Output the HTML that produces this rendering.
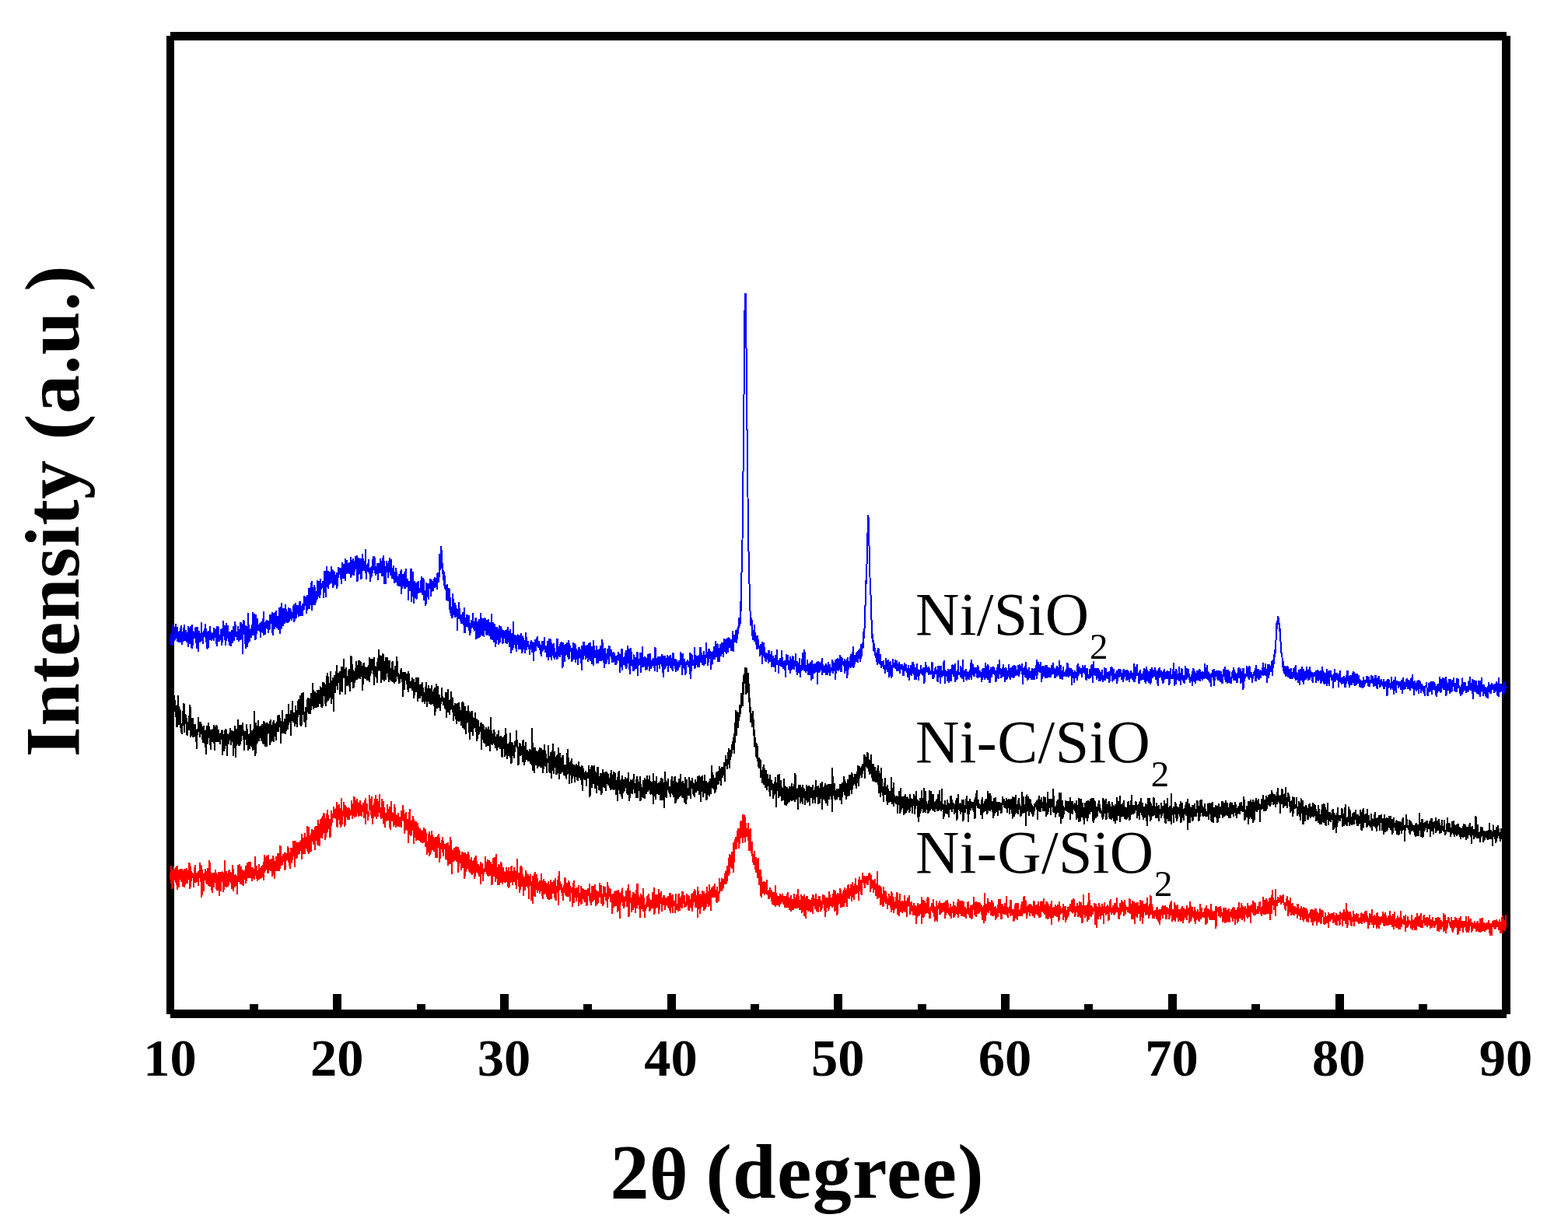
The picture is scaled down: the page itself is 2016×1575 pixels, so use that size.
<!DOCTYPE html>
<html lang="en">
<head>
<meta charset="utf-8">
<title>XRD patterns</title>
<style>
html,body{margin:0;padding:0;background:#fff;}
body{width:2016px;height:1575px;overflow:hidden;}
svg{display:block;}
text{font-family:"Liberation Serif","Times New Roman",serif;fill:#000;}
.tick{font-weight:bold;font-size:68.5px;text-anchor:middle;}
.axt{font-weight:bold;font-size:100px;text-anchor:middle;}
.axx{letter-spacing:0.45px;}
.leg{font-size:78px;letter-spacing:0.4px;}
.sub{font-size:47px;}
.curve{fill:none;stroke-width:2;stroke-linejoin:bevel;stroke-linecap:butt;shape-rendering:crispEdges;}
</style>
</head>
<body>
<svg width="2016" height="1575" viewBox="0 0 2016 1575" role="img" aria-label="XRD patterns of Ni/SiO2, Ni-C/SiO2 and Ni-G/SiO2">
<rect x="0" y="0" width="2016" height="1575" fill="#fff"/>
<g fill="#000" shape-rendering="crispEdges">
<rect x="214" y="46" width="10" height="1258"/>
<rect x="219" y="41" width="1718" height="11"/>
<rect x="1931" y="46" width="11" height="1258"/>
<rect x="219" y="1298" width="1718" height="11"/>
<rect x="321" y="1291" width="11" height="9"/>
<rect x="428" y="1278" width="11" height="22"/>
<rect x="536" y="1291" width="11" height="9"/>
<rect x="643" y="1278" width="11" height="22"/>
<rect x="750" y="1291" width="11" height="9"/>
<rect x="858" y="1278" width="11" height="22"/>
<rect x="965" y="1291" width="11" height="9"/>
<rect x="1072" y="1278" width="11" height="22"/>
<rect x="1180" y="1291" width="11" height="9"/>
<rect x="1287" y="1278" width="11" height="22"/>
<rect x="1394" y="1291" width="11" height="9"/>
<rect x="1502" y="1278" width="11" height="22"/>
<rect x="1609" y="1291" width="11" height="9"/>
<rect x="1717" y="1278" width="11" height="22"/>
<rect x="1824" y="1291" width="11" height="9"/>
</g>
<polyline class="curve" stroke="#ff0000" points="219.0,1131.0 219.3,1122.5 219.6,1132.6 219.9,1127.7 220.2,1113.5 220.5,1136.1 220.8,1126.4 221.1,1132.6 221.5,1143.3 221.8,1129.5 222.1,1117.6 222.4,1121.0 222.7,1135.9 223.0,1114.1 223.3,1129.2 223.6,1130.1 223.9,1116.7 224.2,1128.3 224.5,1131.6 224.8,1119.9 225.1,1122.4 225.4,1131.4 225.7,1115.2 226.1,1118.8 226.4,1134.9 226.7,1127.2 227.0,1114.0 227.3,1126.5 227.6,1143.5 227.9,1113.1 228.2,1133.5 228.5,1133.0 228.8,1124.7 229.1,1131.6 229.4,1120.3 229.7,1139.8 230.0,1141.3 230.3,1118.4 230.7,1124.3 231.0,1127.3 231.3,1120.6 231.6,1129.2 231.9,1117.0 232.2,1131.1 232.5,1123.4 232.8,1125.6 233.1,1130.2 233.4,1134.2 233.7,1117.4 234.0,1132.9 234.3,1133.7 234.6,1125.0 234.9,1139.5 235.3,1119.3 235.6,1121.2 235.9,1129.4 236.2,1120.0 236.5,1138.2 236.8,1127.8 237.1,1141.1 237.4,1116.8 237.7,1117.7 238.0,1137.8 238.3,1116.8 238.6,1135.5 238.9,1119.0 239.2,1128.4 239.5,1136.3 239.9,1125.6 240.2,1116.0 240.5,1121.8 240.8,1136.1 241.1,1127.8 241.4,1132.4 241.7,1126.9 242.0,1128.7 242.3,1124.5 242.6,1117.3 242.9,1131.0 243.2,1127.9 243.5,1108.9 243.8,1126.3 244.1,1134.8 244.5,1143.3 244.8,1114.4 245.1,1127.4 245.4,1131.3 245.7,1133.1 246.0,1120.3 246.3,1130.9 246.6,1122.8 246.9,1126.1 247.2,1121.8 247.5,1129.2 247.8,1123.1 248.1,1129.2 248.4,1125.8 248.7,1134.6 249.1,1141.4 249.4,1126.0 249.7,1120.2 250.0,1124.7 250.3,1122.0 250.6,1112.2 250.9,1127.0 251.2,1122.5 251.5,1134.7 251.8,1125.7 252.1,1135.0 252.4,1133.6 252.7,1122.5 253.0,1124.0 253.3,1122.3 253.7,1123.0 254.0,1134.2 254.3,1122.5 254.6,1123.4 254.9,1120.0 255.2,1139.4 255.5,1123.9 255.8,1125.8 256.1,1119.5 256.4,1129.2 256.7,1120.3 257.0,1121.3 257.3,1109.3 257.6,1112.8 258.0,1128.8 258.3,1133.8 258.6,1112.6 258.9,1128.7 259.2,1128.9 259.5,1153.9 259.8,1118.6 260.1,1121.4 260.4,1118.1 260.7,1134.6 261.0,1136.5 261.3,1125.1 261.6,1140.7 261.9,1145.9 262.2,1123.5 262.6,1132.4 262.9,1125.9 263.2,1122.1 263.5,1123.7 263.8,1125.7 264.1,1116.6 264.4,1127.2 264.7,1135.0 265.0,1119.8 265.3,1123.5 265.6,1120.2 265.9,1131.5 266.2,1127.3 266.5,1136.5 266.8,1125.6 267.2,1115.6 267.5,1133.4 267.8,1125.9 268.1,1138.6 268.4,1134.9 268.7,1105.7 269.0,1111.5 269.3,1129.1 269.6,1122.3 269.9,1109.3 270.2,1124.3 270.5,1140.3 270.8,1134.7 271.1,1121.4 271.4,1131.7 271.8,1138.2 272.1,1127.7 272.4,1144.9 272.7,1123.3 273.0,1148.0 273.3,1143.0 273.6,1134.2 273.9,1131.7 274.2,1130.1 274.5,1121.6 274.8,1138.5 275.1,1141.1 275.4,1136.9 275.7,1132.5 276.0,1131.0 276.4,1122.0 276.7,1124.5 277.0,1117.6 277.3,1134.5 277.6,1122.4 277.9,1137.7 278.2,1124.6 278.5,1142.9 278.8,1144.2 279.1,1144.0 279.4,1140.6 279.7,1128.0 280.0,1127.9 280.3,1124.2 280.6,1133.6 281.0,1145.4 281.3,1121.2 281.6,1152.0 281.9,1125.9 282.2,1120.6 282.5,1133.8 282.8,1140.3 283.1,1127.8 283.4,1122.0 283.7,1146.3 284.0,1121.3 284.3,1139.6 284.6,1132.3 284.9,1127.7 285.2,1131.4 285.6,1121.4 285.9,1121.2 286.2,1133.6 286.5,1121.9 286.8,1124.2 287.1,1143.6 287.4,1146.7 287.7,1140.6 288.0,1138.8 288.3,1128.8 288.6,1131.8 288.9,1124.5 289.2,1106.4 289.5,1132.7 289.8,1132.9 290.2,1139.6 290.5,1120.5 290.8,1141.0 291.1,1126.2 291.4,1120.1 291.7,1128.7 292.0,1139.0 292.3,1130.8 292.6,1134.8 292.9,1123.2 293.2,1135.1 293.5,1139.5 293.8,1123.2 294.1,1134.6 294.4,1119.1 294.8,1132.9 295.1,1117.8 295.4,1134.4 295.7,1130.8 296.0,1121.1 296.3,1134.0 296.6,1122.3 296.9,1131.6 297.2,1122.9 297.5,1135.6 297.8,1126.0 298.1,1143.4 298.4,1134.8 298.7,1135.5 299.0,1119.1 299.4,1112.5 299.7,1123.6 300.0,1146.3 300.3,1122.2 300.6,1140.9 300.9,1141.1 301.2,1124.9 301.5,1128.0 301.8,1141.1 302.1,1127.3 302.4,1125.8 302.7,1124.2 303.0,1129.7 303.3,1127.9 303.6,1139.4 304.0,1130.5 304.3,1138.6 304.6,1127.2 304.9,1149.7 305.2,1126.7 305.5,1126.2 305.8,1120.3 306.1,1112.4 306.4,1119.4 306.7,1128.6 307.0,1117.9 307.3,1133.6 307.6,1112.0 307.9,1111.4 308.2,1128.5 308.6,1129.0 308.9,1115.7 309.2,1134.8 309.5,1137.3 309.8,1128.3 310.1,1113.8 310.4,1135.7 310.7,1122.3 311.0,1123.1 311.3,1128.8 311.6,1118.4 311.9,1137.5 312.2,1118.8 312.5,1133.4 312.8,1130.7 313.2,1139.3 313.5,1128.2 313.8,1131.2 314.1,1120.2 314.4,1121.5 314.7,1118.2 315.0,1129.9 315.3,1117.6 315.6,1136.3 315.9,1122.1 316.2,1112.7 316.5,1117.1 316.8,1132.9 317.1,1118.6 317.4,1127.8 317.8,1108.9 318.1,1126.4 318.4,1129.1 318.7,1126.8 319.0,1129.1 319.3,1113.7 319.6,1107.9 319.9,1110.8 320.2,1129.3 320.5,1125.5 320.8,1128.9 321.1,1117.0 321.4,1128.8 321.7,1108.4 322.1,1125.3 322.4,1112.7 322.7,1117.9 323.0,1127.3 323.3,1129.1 323.6,1120.1 323.9,1118.4 324.2,1133.1 324.5,1130.4 324.8,1115.5 325.1,1123.9 325.4,1119.5 325.7,1129.7 326.0,1125.2 326.3,1125.0 326.7,1122.1 327.0,1116.6 327.3,1130.7 327.6,1124.7 327.9,1101.2 328.2,1117.8 328.5,1123.4 328.8,1114.7 329.1,1113.0 329.4,1115.5 329.7,1123.9 330.0,1112.6 330.3,1124.0 330.6,1132.5 330.9,1128.9 331.3,1129.2 331.6,1118.8 331.9,1130.8 332.2,1120.7 332.5,1128.1 332.8,1110.7 333.1,1131.2 333.4,1115.3 333.7,1120.5 334.0,1129.3 334.3,1120.1 334.6,1116.0 334.9,1118.6 335.2,1129.3 335.5,1129.3 335.9,1125.4 336.2,1114.1 336.5,1115.9 336.8,1125.0 337.1,1125.6 337.4,1112.8 337.7,1112.8 338.0,1124.7 338.3,1128.0 338.6,1119.1 338.9,1108.0 339.2,1131.8 339.5,1118.2 339.8,1121.7 340.1,1098.9 340.5,1111.1 340.8,1115.4 341.1,1119.5 341.4,1108.9 341.7,1103.1 342.0,1101.9 342.3,1112.6 342.6,1118.2 342.9,1117.6 343.2,1100.3 343.5,1108.8 343.8,1113.9 344.1,1123.1 344.4,1119.1 344.7,1116.3 345.1,1099.4 345.4,1123.0 345.7,1112.7 346.0,1115.1 346.3,1107.3 346.6,1111.2 346.9,1109.8 347.2,1109.1 347.5,1104.8 347.8,1118.0 348.1,1119.9 348.4,1107.3 348.7,1104.6 349.0,1104.6 349.3,1108.8 349.7,1123.5 350.0,1110.0 350.3,1126.7 350.6,1100.0 350.9,1101.3 351.2,1103.8 351.5,1103.0 351.8,1113.0 352.1,1125.0 352.4,1103.6 352.7,1112.7 353.0,1121.0 353.3,1130.1 353.6,1111.2 353.9,1117.7 354.3,1120.4 354.6,1109.8 354.9,1113.7 355.2,1105.7 355.5,1100.9 355.8,1103.3 356.1,1118.1 356.4,1119.6 356.7,1110.1 357.0,1097.3 357.3,1118.2 357.6,1107.5 357.9,1120.1 358.2,1108.0 358.5,1097.1 358.9,1104.4 359.2,1101.0 359.5,1120.1 359.8,1086.9 360.1,1101.1 360.4,1103.3 360.7,1088.3 361.0,1109.3 361.3,1110.7 361.6,1112.5 361.9,1112.2 362.2,1104.0 362.5,1112.7 362.8,1100.6 363.1,1104.5 363.5,1105.9 363.8,1104.4 364.1,1108.0 364.4,1097.8 364.7,1102.1 365.0,1097.9 365.3,1103.3 365.6,1105.2 365.9,1095.9 366.2,1114.5 366.5,1118.5 366.8,1106.5 367.1,1102.3 367.4,1095.9 367.7,1099.6 368.1,1099.0 368.4,1106.6 368.7,1100.4 369.0,1106.3 369.3,1104.9 369.6,1095.7 369.9,1088.3 370.2,1089.3 370.5,1090.1 370.8,1098.8 371.1,1108.9 371.4,1090.7 371.7,1104.0 372.0,1096.7 372.3,1108.8 372.7,1117.0 373.0,1106.8 373.3,1100.4 373.6,1101.6 373.9,1108.4 374.2,1094.5 374.5,1090.2 374.8,1098.1 375.1,1110.2 375.4,1090.3 375.7,1105.7 376.0,1103.4 376.3,1093.9 376.6,1088.8 376.9,1081.4 377.3,1085.3 377.6,1096.4 377.9,1101.1 378.2,1089.2 378.5,1089.5 378.8,1087.6 379.1,1114.9 379.4,1082.0 379.7,1080.9 380.0,1102.5 380.3,1083.8 380.6,1101.5 380.9,1085.6 381.2,1101.4 381.5,1104.2 381.9,1088.2 382.2,1091.8 382.5,1083.3 382.8,1099.1 383.1,1088.7 383.4,1083.0 383.7,1094.7 384.0,1093.9 384.3,1090.1 384.6,1086.6 384.9,1098.3 385.2,1084.3 385.5,1082.3 385.8,1087.3 386.1,1093.7 386.5,1085.7 386.8,1083.4 387.1,1079.8 387.4,1081.5 387.7,1082.4 388.0,1105.0 388.3,1072.4 388.6,1083.5 388.9,1087.8 389.2,1079.4 389.5,1076.6 389.8,1091.4 390.1,1098.3 390.4,1095.7 390.8,1086.1 391.1,1081.9 391.4,1091.2 391.7,1071.1 392.0,1077.8 392.3,1097.5 392.6,1088.3 392.9,1085.8 393.2,1082.6 393.5,1080.7 393.8,1076.5 394.1,1088.5 394.4,1087.7 394.7,1087.6 395.0,1061.8 395.4,1093.7 395.7,1089.8 396.0,1095.7 396.3,1077.1 396.6,1062.9 396.9,1070.2 397.2,1073.5 397.5,1098.3 397.8,1074.2 398.1,1076.5 398.4,1088.9 398.7,1087.7 399.0,1088.1 399.3,1075.5 399.6,1095.4 400.0,1082.4 400.3,1071.4 400.6,1082.0 400.9,1066.0 401.2,1067.1 401.5,1071.7 401.8,1067.1 402.1,1072.8 402.4,1071.2 402.7,1072.4 403.0,1068.7 403.3,1085.6 403.6,1067.1 403.9,1070.8 404.2,1067.2 404.6,1069.7 404.9,1063.3 405.2,1092.5 405.5,1071.6 405.8,1080.8 406.1,1070.3 406.4,1061.9 406.7,1068.4 407.0,1066.7 407.3,1061.7 407.6,1073.0 407.9,1085.7 408.2,1073.2 408.5,1080.3 408.8,1082.2 409.2,1054.1 409.5,1087.0 409.8,1058.9 410.1,1085.9 410.4,1071.7 410.7,1074.8 411.0,1088.4 411.3,1078.2 411.6,1055.0 411.9,1053.0 412.2,1058.0 412.5,1076.8 412.8,1070.5 413.1,1075.3 413.4,1071.0 413.8,1077.5 414.1,1057.8 414.4,1050.6 414.7,1060.4 415.0,1072.9 415.3,1056.9 415.6,1045.2 415.9,1060.5 416.2,1070.8 416.5,1068.2 416.8,1061.4 417.1,1059.7 417.4,1045.7 417.7,1063.3 418.0,1079.5 418.4,1058.6 418.7,1076.7 419.0,1051.7 419.3,1058.5 419.6,1057.6 419.9,1061.2 420.2,1045.6 420.5,1071.0 420.8,1057.6 421.1,1041.5 421.4,1065.4 421.7,1060.8 422.0,1048.3 422.3,1058.1 422.6,1065.9 423.0,1064.7 423.3,1061.5 423.6,1052.7 423.9,1060.7 424.2,1069.2 424.5,1076.8 424.8,1063.3 425.1,1064.8 425.4,1065.9 425.7,1055.2 426.0,1042.1 426.3,1052.0 426.6,1054.8 426.9,1058.0 427.2,1055.5 427.6,1048.6 427.9,1049.6 428.2,1051.7 428.5,1045.7 428.8,1045.5 429.1,1037.4 429.4,1048.6 429.7,1052.2 430.0,1045.2 430.3,1048.1 430.6,1050.8 430.9,1040.3 431.2,1043.9 431.5,1041.3 431.8,1052.9 432.2,1039.1 432.5,1048.8 432.8,1030.9 433.1,1063.2 433.4,1052.9 433.7,1041.2 434.0,1047.6 434.3,1064.4 434.6,1048.9 434.9,1035.3 435.2,1047.7 435.5,1043.8 435.8,1052.5 436.1,1049.6 436.4,1034.3 436.8,1050.3 437.1,1056.6 437.4,1060.3 437.7,1051.2 438.0,1064.3 438.3,1060.7 438.6,1054.9 438.9,1061.5 439.2,1026.4 439.5,1058.7 439.8,1060.3 440.1,1046.9 440.4,1054.7 440.7,1041.9 441.0,1045.9 441.4,1045.7 441.7,1038.1 442.0,1045.0 442.3,1031.5 442.6,1045.4 442.9,1061.1 443.2,1062.6 443.5,1046.0 443.8,1061.1 444.1,1049.5 444.4,1034.9 444.7,1040.4 445.0,1045.1 445.3,1045.3 445.6,1051.0 446.0,1039.2 446.3,1041.6 446.6,1053.9 446.9,1046.1 447.2,1048.4 447.5,1044.2 447.8,1050.6 448.1,1051.0 448.4,1037.7 448.7,1054.0 449.0,1038.6 449.3,1047.0 449.6,1041.2 449.9,1049.4 450.2,1045.9 450.6,1048.3 450.9,1044.4 451.2,1042.0 451.5,1044.6 451.8,1042.5 452.1,1035.3 452.4,1028.9 452.7,1046.7 453.0,1053.0 453.3,1033.5 453.6,1045.9 453.9,1036.2 454.2,1042.8 454.5,1048.6 454.8,1044.0 455.2,1038.7 455.5,1023.9 455.8,1038.6 456.1,1040.0 456.4,1050.7 456.7,1034.0 457.0,1038.9 457.3,1041.3 457.6,1050.3 457.9,1029.2 458.2,1046.4 458.5,1038.4 458.8,1033.3 459.1,1027.3 459.5,1030.6 459.8,1045.9 460.1,1034.4 460.4,1030.6 460.7,1035.2 461.0,1050.0 461.3,1047.0 461.6,1045.6 461.9,1046.9 462.2,1045.1 462.5,1034.9 462.8,1028.9 463.1,1048.8 463.4,1037.2 463.7,1039.3 464.1,1034.2 464.4,1042.4 464.7,1049.6 465.0,1034.6 465.3,1039.3 465.6,1038.5 465.9,1043.6 466.2,1037.8 466.5,1038.3 466.8,1032.8 467.1,1038.2 467.4,1031.7 467.7,1044.1 468.0,1036.6 468.3,1051.8 468.7,1031.9 469.0,1028.9 469.3,1045.5 469.6,1043.1 469.9,1026.0 470.2,1059.8 470.5,1036.2 470.8,1047.1 471.1,1034.2 471.4,1043.5 471.7,1047.0 472.0,1033.5 472.3,1040.6 472.6,1045.0 472.9,1055.1 473.3,1046.1 473.6,1049.7 473.9,1042.8 474.2,1043.8 474.5,1042.8 474.8,1036.3 475.1,1022.5 475.4,1023.8 475.7,1041.1 476.0,1042.3 476.3,1038.8 476.6,1033.3 476.9,1034.0 477.2,1027.5 477.5,1048.4 477.9,1024.2 478.2,1052.4 478.5,1034.8 478.8,1060.3 479.1,1042.8 479.4,1036.1 479.7,1039.9 480.0,1034.9 480.3,1052.0 480.6,1038.9 480.9,1041.3 481.2,1031.8 481.5,1044.4 481.8,1026.8 482.1,1033.9 482.5,1050.4 482.8,1022.2 483.1,1042.4 483.4,1050.1 483.7,1041.2 484.0,1052.8 484.3,1051.1 484.6,1044.7 484.9,1027.0 485.2,1036.7 485.5,1038.0 485.8,1049.5 486.1,1040.3 486.4,1038.7 486.7,1030.3 487.1,1039.7 487.4,1043.5 487.7,1020.9 488.0,1041.3 488.3,1045.2 488.6,1039.9 488.9,1041.1 489.2,1037.7 489.5,1050.4 489.8,1038.3 490.1,1053.3 490.4,1046.5 490.7,1027.5 491.0,1041.4 491.3,1046.6 491.7,1051.6 492.0,1045.7 492.3,1043.8 492.6,1052.0 492.9,1058.9 493.2,1030.3 493.5,1040.5 493.8,1060.4 494.1,1048.7 494.4,1038.2 494.7,1061.3 495.0,1063.7 495.3,1045.2 495.6,1053.7 495.9,1047.7 496.3,1050.8 496.6,1056.1 496.9,1045.7 497.2,1047.4 497.5,1045.5 497.8,1033.6 498.1,1052.1 498.4,1055.3 498.7,1049.7 499.0,1048.7 499.3,1055.3 499.6,1042.5 499.9,1039.6 500.2,1052.4 500.5,1049.9 500.9,1063.5 501.2,1036.6 501.5,1048.4 501.8,1038.4 502.1,1066.9 502.4,1045.4 502.7,1055.4 503.0,1030.1 503.3,1040.8 503.6,1055.6 503.9,1045.6 504.2,1043.9 504.5,1055.0 504.8,1050.2 505.1,1050.4 505.5,1051.6 505.8,1045.3 506.1,1062.5 506.4,1058.2 506.7,1048.5 507.0,1046.5 507.3,1034.0 507.6,1040.2 507.9,1061.0 508.2,1039.8 508.5,1046.4 508.8,1064.1 509.1,1059.1 509.4,1053.1 509.7,1053.7 510.1,1047.6 510.4,1051.9 510.7,1050.9 511.0,1061.8 511.3,1057.2 511.6,1044.7 511.9,1063.0 512.2,1058.4 512.5,1060.8 512.8,1062.2 513.1,1058.4 513.4,1053.7 513.7,1063.2 514.0,1062.2 514.3,1050.5 514.7,1051.4 515.0,1055.2 515.3,1057.5 515.6,1052.9 515.9,1041.8 516.2,1063.6 516.5,1048.2 516.8,1044.3 517.1,1047.0 517.4,1054.7 517.7,1052.5 518.0,1035.1 518.3,1041.6 518.6,1041.4 518.9,1048.5 519.3,1056.1 519.6,1049.7 519.9,1071.8 520.2,1062.9 520.5,1068.1 520.8,1062.2 521.1,1045.8 521.4,1060.6 521.7,1044.5 522.0,1048.6 522.3,1059.1 522.6,1057.9 522.9,1063.0 523.2,1055.9 523.5,1067.4 523.9,1065.4 524.2,1061.8 524.5,1053.0 524.8,1054.4 525.1,1068.5 525.4,1084.0 525.7,1056.3 526.0,1061.9 526.3,1053.3 526.6,1040.3 526.9,1066.3 527.2,1062.8 527.5,1067.4 527.8,1056.5 528.2,1055.1 528.5,1074.8 528.8,1054.8 529.1,1068.6 529.4,1071.0 529.7,1063.2 530.0,1058.7 530.3,1065.7 530.6,1049.1 530.9,1061.8 531.2,1061.3 531.5,1052.8 531.8,1062.5 532.1,1072.7 532.4,1084.9 532.8,1056.5 533.1,1069.7 533.4,1069.9 533.7,1064.1 534.0,1062.1 534.3,1071.4 534.6,1073.6 534.9,1055.8 535.2,1080.7 535.5,1067.1 535.8,1069.5 536.1,1064.1 536.4,1079.5 536.7,1058.4 537.0,1065.8 537.4,1071.3 537.7,1062.8 538.0,1068.8 538.3,1075.4 538.6,1081.3 538.9,1070.3 539.2,1068.2 539.5,1076.4 539.8,1073.8 540.1,1064.6 540.4,1080.8 540.7,1071.6 541.0,1066.8 541.3,1082.8 541.6,1079.8 542.0,1068.8 542.3,1081.4 542.6,1070.2 542.9,1071.7 543.2,1068.3 543.5,1084.0 543.8,1076.1 544.1,1082.4 544.4,1066.9 544.7,1074.4 545.0,1064.1 545.3,1073.0 545.6,1075.2 545.9,1077.1 546.2,1066.1 546.6,1087.9 546.9,1065.6 547.2,1089.4 547.5,1078.5 547.8,1088.5 548.1,1071.3 548.4,1081.0 548.7,1084.9 549.0,1098.5 549.3,1084.0 549.6,1095.5 549.9,1084.0 550.2,1093.1 550.5,1081.6 550.8,1082.6 551.2,1090.0 551.5,1071.9 551.8,1069.0 552.1,1084.2 552.4,1100.7 552.7,1095.2 553.0,1084.0 553.3,1088.5 553.6,1085.3 553.9,1086.9 554.2,1095.7 554.5,1074.2 554.8,1073.9 555.1,1067.8 555.4,1076.7 555.8,1092.8 556.1,1083.6 556.4,1073.4 556.7,1079.0 557.0,1080.4 557.3,1093.0 557.6,1088.6 557.9,1088.0 558.2,1095.1 558.5,1089.5 558.8,1094.3 559.1,1078.6 559.4,1077.5 559.7,1082.4 560.0,1102.7 560.4,1076.2 560.7,1087.3 561.0,1090.3 561.3,1078.0 561.6,1075.7 561.9,1103.4 562.2,1085.0 562.5,1083.2 562.8,1089.5 563.1,1087.4 563.4,1074.5 563.7,1072.1 564.0,1085.0 564.3,1080.2 564.6,1086.3 565.0,1076.9 565.3,1108.6 565.6,1091.1 565.9,1104.2 566.2,1083.6 566.5,1087.0 566.8,1084.1 567.1,1089.0 567.4,1092.3 567.7,1084.6 568.0,1080.1 568.3,1083.2 568.6,1087.4 568.9,1096.1 569.2,1076.2 569.6,1082.7 569.9,1092.6 570.2,1100.6 570.5,1085.7 570.8,1092.1 571.1,1088.0 571.4,1087.6 571.7,1091.1 572.0,1085.5 572.3,1088.1 572.6,1087.7 572.9,1103.5 573.2,1090.4 573.5,1104.6 573.8,1090.0 574.2,1092.4 574.5,1084.4 574.8,1093.1 575.1,1103.4 575.4,1105.4 575.7,1083.2 576.0,1113.0 576.3,1095.4 576.6,1097.3 576.9,1101.5 577.2,1093.9 577.5,1086.6 577.8,1094.5 578.1,1091.3 578.4,1110.7 578.8,1095.2 579.1,1076.4 579.4,1106.5 579.7,1100.6 580.0,1095.5 580.3,1080.5 580.6,1123.7 580.9,1093.8 581.2,1094.0 581.5,1092.4 581.8,1098.8 582.1,1097.0 582.4,1100.6 582.7,1102.2 583.0,1098.6 583.4,1107.9 583.7,1090.3 584.0,1107.0 584.3,1102.5 584.6,1099.9 584.9,1106.0 585.2,1102.3 585.5,1102.2 585.8,1096.8 586.1,1093.7 586.4,1088.6 586.7,1090.7 587.0,1095.9 587.3,1108.2 587.6,1099.7 588.0,1102.9 588.3,1093.1 588.6,1089.4 588.9,1103.0 589.2,1121.8 589.5,1093.3 589.8,1113.7 590.1,1093.1 590.4,1092.9 590.7,1095.3 591.0,1096.0 591.3,1110.1 591.6,1104.9 591.9,1104.2 592.2,1099.2 592.6,1111.4 592.9,1119.1 593.2,1106.6 593.5,1101.4 593.8,1095.9 594.1,1102.2 594.4,1094.7 594.7,1116.4 595.0,1099.2 595.3,1115.4 595.6,1095.9 595.9,1113.5 596.2,1111.4 596.5,1113.1 596.9,1109.5 597.2,1098.5 597.5,1129.9 597.8,1096.0 598.1,1117.0 598.4,1106.4 598.7,1099.1 599.0,1114.9 599.3,1120.5 599.6,1117.2 599.9,1097.9 600.2,1102.9 600.5,1114.0 600.8,1112.8 601.1,1117.4 601.5,1108.1 601.8,1095.3 602.1,1099.8 602.4,1112.3 602.7,1101.6 603.0,1098.8 603.3,1115.5 603.6,1122.0 603.9,1105.4 604.2,1109.4 604.5,1110.3 604.8,1119.1 605.1,1109.5 605.4,1109.7 605.7,1111.6 606.1,1102.1 606.4,1123.3 606.7,1125.4 607.0,1113.3 607.3,1114.1 607.6,1115.0 607.9,1113.6 608.2,1107.3 608.5,1119.3 608.8,1119.9 609.1,1122.5 609.4,1105.9 609.7,1115.7 610.0,1103.3 610.3,1129.5 610.7,1101.7 611.0,1113.3 611.3,1127.4 611.6,1100.2 611.9,1115.6 612.2,1100.8 612.5,1122.4 612.8,1111.7 613.1,1110.0 613.4,1107.1 613.7,1119.3 614.0,1116.2 614.3,1121.0 614.6,1122.1 614.9,1110.6 615.3,1117.8 615.6,1126.5 615.9,1120.1 616.2,1119.4 616.5,1117.1 616.8,1112.6 617.1,1116.6 617.4,1116.0 617.7,1137.1 618.0,1114.3 618.3,1108.5 618.6,1119.9 618.9,1114.9 619.2,1111.7 619.5,1123.7 619.9,1115.5 620.2,1110.4 620.5,1121.9 620.8,1133.4 621.1,1128.2 621.4,1119.5 621.7,1120.0 622.0,1117.2 622.3,1123.5 622.6,1116.0 622.9,1120.7 623.2,1116.4 623.5,1119.6 623.8,1101.3 624.1,1117.8 624.5,1113.4 624.8,1115.3 625.1,1121.3 625.4,1107.7 625.7,1111.0 626.0,1119.7 626.3,1118.8 626.6,1126.0 626.9,1121.3 627.2,1105.2 627.5,1122.0 627.8,1117.4 628.1,1119.9 628.4,1127.2 628.7,1119.9 629.1,1117.4 629.4,1105.9 629.7,1115.6 630.0,1126.1 630.3,1123.8 630.6,1109.4 630.9,1108.1 631.2,1116.4 631.5,1123.5 631.8,1113.7 632.1,1131.1 632.4,1137.6 632.7,1110.8 633.0,1137.0 633.3,1136.4 633.7,1103.5 634.0,1106.8 634.3,1119.1 634.6,1120.5 634.9,1113.5 635.2,1120.7 635.5,1127.3 635.8,1113.5 636.1,1102.2 636.4,1118.4 636.7,1127.7 637.0,1133.5 637.3,1130.3 637.6,1098.5 637.9,1111.7 638.3,1120.8 638.6,1114.7 638.9,1126.6 639.2,1125.9 639.5,1129.7 639.8,1134.5 640.1,1118.2 640.4,1137.7 640.7,1111.4 641.0,1114.5 641.3,1114.3 641.6,1116.2 641.9,1129.3 642.2,1138.0 642.5,1111.8 642.9,1130.4 643.2,1134.6 643.5,1127.0 643.8,1107.9 644.1,1128.7 644.4,1132.7 644.7,1110.4 645.0,1121.3 645.3,1134.5 645.6,1128.7 645.9,1135.5 646.2,1136.8 646.5,1115.7 646.8,1116.3 647.1,1134.0 647.5,1123.8 647.8,1133.8 648.1,1131.4 648.4,1119.9 648.7,1134.6 649.0,1130.5 649.3,1121.5 649.6,1122.4 649.9,1121.9 650.2,1129.2 650.5,1134.6 650.8,1131.2 651.1,1125.2 651.4,1115.1 651.7,1127.5 652.1,1125.8 652.4,1121.1 652.7,1119.2 653.0,1139.8 653.3,1139.3 653.6,1115.0 653.9,1134.9 654.2,1130.0 654.5,1141.8 654.8,1120.0 655.1,1135.0 655.4,1122.2 655.7,1124.9 656.0,1128.6 656.3,1134.8 656.7,1128.0 657.0,1114.0 657.3,1134.0 657.6,1127.0 657.9,1125.2 658.2,1112.7 658.5,1123.6 658.8,1137.0 659.1,1137.8 659.4,1131.3 659.7,1120.1 660.0,1134.0 660.3,1120.5 660.6,1134.4 660.9,1123.3 661.3,1115.1 661.6,1131.7 661.9,1129.8 662.2,1129.9 662.5,1120.8 662.8,1119.6 663.1,1137.7 663.4,1128.1 663.7,1142.2 664.0,1142.3 664.3,1119.7 664.6,1125.7 664.9,1104.5 665.2,1128.2 665.5,1123.4 665.9,1130.9 666.2,1126.2 666.5,1124.6 666.8,1122.4 667.1,1122.8 667.4,1139.6 667.7,1134.9 668.0,1147.6 668.3,1136.4 668.6,1126.6 668.9,1126.0 669.2,1143.6 669.5,1114.4 669.8,1131.2 670.2,1129.0 670.5,1113.0 670.8,1139.8 671.1,1131.0 671.4,1129.1 671.7,1123.9 672.0,1130.7 672.3,1130.1 672.6,1139.8 672.9,1128.7 673.2,1152.0 673.5,1126.8 673.8,1133.2 674.1,1126.7 674.4,1139.4 674.8,1128.9 675.1,1144.6 675.4,1141.3 675.7,1136.5 676.0,1119.2 676.3,1133.1 676.6,1132.6 676.9,1138.6 677.2,1121.8 677.5,1139.0 677.8,1139.5 678.1,1133.3 678.4,1136.4 678.7,1130.0 679.0,1142.2 679.4,1124.5 679.7,1128.8 680.0,1156.1 680.3,1134.2 680.6,1134.6 680.9,1127.4 681.2,1133.1 681.5,1137.6 681.8,1125.7 682.1,1123.6 682.4,1132.4 682.7,1149.5 683.0,1133.7 683.3,1158.2 683.6,1146.8 684.0,1142.1 684.3,1132.9 684.6,1141.3 684.9,1162.0 685.2,1126.1 685.5,1140.6 685.8,1151.6 686.1,1145.8 686.4,1138.7 686.7,1134.0 687.0,1145.6 687.3,1123.1 687.6,1153.0 687.9,1130.8 688.2,1121.1 688.6,1135.3 688.9,1136.5 689.2,1134.8 689.5,1124.1 689.8,1131.5 690.1,1144.2 690.4,1141.0 690.7,1147.7 691.0,1139.4 691.3,1129.1 691.6,1135.7 691.9,1138.9 692.2,1140.3 692.5,1141.1 692.8,1140.8 693.2,1144.5 693.5,1144.9 693.8,1132.1 694.1,1148.6 694.4,1144.6 694.7,1136.1 695.0,1140.8 695.3,1137.4 695.6,1140.9 695.9,1123.6 696.2,1123.4 696.5,1146.3 696.8,1136.3 697.1,1150.9 697.4,1152.2 697.8,1142.5 698.1,1155.8 698.4,1132.4 698.7,1142.1 699.0,1129.9 699.3,1142.2 699.6,1150.3 699.9,1142.4 700.2,1143.7 700.5,1132.9 700.8,1143.4 701.1,1134.8 701.4,1142.3 701.7,1135.4 702.0,1149.3 702.4,1146.7 702.7,1145.2 703.0,1148.8 703.3,1152.7 703.6,1142.2 703.9,1136.4 704.2,1137.2 704.5,1156.2 704.8,1145.5 705.1,1133.3 705.4,1133.8 705.7,1152.7 706.0,1140.6 706.3,1157.2 706.6,1155.6 707.0,1140.8 707.3,1140.5 707.6,1135.2 707.9,1149.3 708.2,1131.4 708.5,1146.5 708.8,1139.7 709.1,1155.5 709.4,1139.9 709.7,1136.4 710.0,1147.8 710.3,1134.4 710.6,1148.5 710.9,1140.3 711.2,1137.9 711.6,1140.1 711.9,1140.8 712.2,1132.5 712.5,1147.8 712.8,1142.4 713.1,1138.0 713.4,1153.9 713.7,1145.2 714.0,1157.0 714.3,1128.7 714.6,1154.9 714.9,1145.0 715.2,1157.9 715.5,1144.9 715.8,1140.2 716.2,1139.1 716.5,1147.7 716.8,1131.4 717.1,1141.4 717.4,1136.1 717.7,1163.8 718.0,1148.8 718.3,1142.3 718.6,1120.0 718.9,1143.4 719.2,1139.2 719.5,1143.7 719.8,1144.3 720.1,1138.1 720.4,1133.4 720.8,1141.7 721.1,1143.1 721.4,1143.7 721.7,1144.0 722.0,1147.8 722.3,1137.5 722.6,1151.7 722.9,1141.2 723.2,1146.0 723.5,1140.9 723.8,1146.9 724.1,1157.9 724.4,1148.9 724.7,1146.3 725.0,1146.1 725.4,1140.3 725.7,1135.0 726.0,1127.9 726.3,1146.0 726.6,1149.2 726.9,1150.7 727.2,1129.4 727.5,1138.3 727.8,1148.4 728.1,1141.4 728.4,1151.0 728.7,1152.7 729.0,1134.6 729.3,1152.3 729.6,1144.5 730.0,1141.1 730.3,1147.9 730.6,1140.0 730.9,1131.9 731.2,1152.5 731.5,1150.1 731.8,1150.1 732.1,1147.2 732.4,1134.2 732.7,1145.7 733.0,1159.4 733.3,1149.2 733.6,1146.4 733.9,1148.2 734.2,1144.4 734.6,1146.5 734.9,1146.3 735.2,1140.7 735.5,1144.5 735.8,1145.7 736.1,1146.3 736.4,1166.3 736.7,1143.1 737.0,1135.8 737.3,1144.9 737.6,1131.7 737.9,1160.8 738.2,1141.1 738.5,1144.8 738.9,1147.8 739.2,1153.8 739.5,1141.8 739.8,1149.4 740.1,1144.8 740.4,1146.3 740.7,1151.5 741.0,1141.3 741.3,1158.8 741.6,1145.9 741.9,1154.2 742.2,1142.4 742.5,1146.9 742.8,1140.7 743.1,1153.3 743.5,1147.0 743.8,1141.7 744.1,1138.4 744.4,1165.3 744.7,1151.3 745.0,1153.5 745.3,1158.0 745.6,1152.2 745.9,1159.0 746.2,1147.6 746.5,1151.0 746.8,1162.7 747.1,1139.1 747.4,1150.2 747.7,1143.7 748.1,1161.6 748.4,1146.2 748.7,1150.2 749.0,1149.6 749.3,1141.6 749.6,1145.8 749.9,1143.2 750.2,1156.2 750.5,1143.2 750.8,1158.0 751.1,1151.6 751.4,1155.7 751.7,1160.0 752.0,1156.7 752.3,1152.9 752.7,1144.0 753.0,1148.0 753.3,1150.3 753.6,1155.7 753.9,1149.7 754.2,1147.7 754.5,1164.9 754.8,1153.5 755.1,1154.0 755.4,1144.0 755.7,1145.3 756.0,1145.7 756.3,1141.6 756.6,1149.4 756.9,1151.6 757.3,1143.5 757.6,1145.2 757.9,1157.5 758.2,1136.5 758.5,1148.1 758.8,1161.4 759.1,1156.5 759.4,1155.1 759.7,1163.8 760.0,1161.1 760.3,1156.0 760.6,1144.9 760.9,1139.5 761.2,1143.2 761.5,1160.0 761.9,1144.5 762.2,1145.8 762.5,1158.5 762.8,1147.2 763.1,1152.7 763.4,1138.6 763.7,1145.0 764.0,1144.6 764.3,1143.8 764.6,1136.6 764.9,1142.8 765.2,1156.5 765.5,1150.8 765.8,1156.1 766.1,1143.9 766.5,1164.7 766.8,1144.9 767.1,1147.0 767.4,1153.5 767.7,1146.4 768.0,1151.8 768.3,1162.7 768.6,1154.7 768.9,1147.4 769.2,1160.9 769.5,1146.4 769.8,1147.7 770.1,1153.6 770.4,1154.3 770.7,1134.6 771.1,1154.3 771.4,1147.2 771.7,1141.0 772.0,1141.0 772.3,1141.5 772.6,1137.8 772.9,1157.6 773.2,1161.5 773.5,1149.6 773.8,1150.6 774.1,1151.0 774.4,1160.4 774.7,1154.5 775.0,1165.4 775.3,1155.6 775.7,1163.3 776.0,1139.5 776.3,1144.0 776.6,1153.0 776.9,1150.1 777.2,1145.2 777.5,1143.0 777.8,1139.9 778.1,1152.1 778.4,1149.0 778.7,1158.2 779.0,1147.7 779.3,1152.7 779.6,1156.8 779.9,1159.0 780.3,1148.6 780.6,1152.7 780.9,1167.3 781.2,1134.5 781.5,1155.7 781.8,1155.7 782.1,1150.9 782.4,1138.7 782.7,1152.7 783.0,1147.6 783.3,1149.3 783.6,1146.5 783.9,1144.2 784.2,1152.8 784.5,1142.5 784.9,1159.5 785.2,1154.2 785.5,1149.4 785.8,1154.0 786.1,1160.4 786.4,1151.3 786.7,1160.8 787.0,1175.0 787.3,1155.9 787.6,1158.5 787.9,1150.3 788.2,1155.1 788.5,1148.9 788.8,1167.2 789.1,1148.9 789.5,1159.2 789.8,1149.2 790.1,1155.0 790.4,1146.8 790.7,1145.7 791.0,1164.7 791.3,1162.4 791.6,1155.8 791.9,1151.3 792.2,1152.9 792.5,1144.9 792.8,1155.4 793.1,1165.3 793.4,1147.6 793.7,1173.0 794.1,1156.2 794.4,1166.7 794.7,1158.7 795.0,1145.5 795.3,1144.0 795.6,1166.0 795.9,1164.1 796.2,1147.0 796.5,1171.2 796.8,1153.3 797.1,1181.2 797.4,1151.2 797.7,1162.5 798.0,1155.2 798.3,1148.3 798.7,1160.1 799.0,1147.4 799.3,1145.8 799.6,1152.9 799.9,1141.7 800.2,1142.5 800.5,1150.9 800.8,1155.8 801.1,1161.3 801.4,1165.0 801.7,1153.5 802.0,1168.4 802.3,1157.7 802.6,1153.8 803.0,1163.7 803.3,1166.0 803.6,1155.5 803.9,1151.8 804.2,1158.8 804.5,1155.1 804.8,1144.6 805.1,1155.2 805.4,1155.0 805.7,1156.6 806.0,1158.9 806.3,1165.9 806.6,1148.7 806.9,1157.1 807.2,1162.3 807.6,1136.7 807.9,1166.4 808.2,1157.9 808.5,1178.8 808.8,1163.1 809.1,1149.5 809.4,1157.5 809.7,1154.4 810.0,1160.4 810.3,1144.7 810.6,1158.8 810.9,1154.5 811.2,1154.6 811.5,1160.6 811.8,1158.1 812.2,1173.0 812.5,1159.6 812.8,1163.1 813.1,1152.2 813.4,1151.8 813.7,1169.6 814.0,1152.8 814.3,1147.6 814.6,1147.4 814.9,1150.2 815.2,1148.3 815.5,1150.9 815.8,1167.3 816.1,1155.5 816.4,1161.7 816.8,1174.2 817.1,1152.2 817.4,1152.6 817.7,1143.9 818.0,1166.4 818.3,1160.3 818.6,1143.1 818.9,1167.9 819.2,1165.6 819.5,1135.8 819.8,1147.8 820.1,1163.9 820.4,1148.9 820.7,1155.0 821.0,1162.1 821.4,1159.8 821.7,1153.0 822.0,1162.9 822.3,1168.6 822.6,1155.4 822.9,1180.0 823.2,1163.8 823.5,1162.1 823.8,1149.0 824.1,1150.9 824.4,1151.9 824.7,1166.2 825.0,1150.7 825.3,1169.3 825.6,1166.8 826.0,1154.1 826.3,1158.5 826.6,1171.6 826.9,1152.7 827.2,1141.7 827.5,1154.0 827.8,1161.0 828.1,1167.5 828.4,1164.0 828.7,1180.3 829.0,1168.9 829.3,1163.2 829.6,1170.2 829.9,1170.7 830.2,1162.6 830.6,1167.4 830.9,1165.9 831.2,1162.6 831.5,1160.7 831.8,1152.0 832.1,1159.5 832.4,1153.1 832.7,1166.2 833.0,1161.1 833.3,1151.1 833.6,1159.1 833.9,1157.6 834.2,1148.7 834.5,1154.7 834.8,1161.0 835.2,1171.9 835.5,1160.0 835.8,1164.4 836.1,1171.0 836.4,1169.2 836.7,1161.5 837.0,1165.3 837.3,1158.5 837.6,1157.2 837.9,1159.9 838.2,1161.1 838.5,1167.7 838.8,1165.3 839.1,1167.3 839.4,1147.0 839.8,1156.7 840.1,1158.8 840.4,1150.0 840.7,1141.1 841.0,1162.9 841.3,1176.1 841.6,1151.4 841.9,1160.6 842.2,1174.1 842.5,1158.4 842.8,1157.8 843.1,1150.5 843.4,1158.5 843.7,1166.3 844.0,1167.4 844.4,1157.5 844.7,1167.2 845.0,1149.8 845.3,1155.3 845.6,1161.5 845.9,1161.5 846.2,1167.3 846.5,1157.6 846.8,1142.7 847.1,1168.6 847.4,1175.1 847.7,1163.1 848.0,1157.2 848.3,1155.2 848.6,1159.7 849.0,1147.7 849.3,1159.7 849.6,1155.6 849.9,1146.3 850.2,1159.2 850.5,1162.1 850.8,1172.2 851.1,1158.5 851.4,1170.9 851.7,1153.9 852.0,1155.2 852.3,1161.3 852.6,1152.5 852.9,1159.4 853.2,1151.9 853.6,1151.6 853.9,1154.3 854.2,1163.5 854.5,1157.8 854.8,1154.1 855.1,1170.4 855.4,1157.6 855.7,1164.1 856.0,1161.0 856.3,1165.0 856.6,1158.4 856.9,1153.8 857.2,1161.5 857.5,1162.2 857.8,1163.9 858.2,1163.0 858.5,1162.6 858.8,1151.6 859.1,1167.0 859.4,1167.0 859.7,1158.8 860.0,1161.8 860.3,1160.9 860.6,1171.0 860.9,1148.5 861.2,1158.4 861.5,1165.3 861.8,1148.5 862.1,1155.9 862.4,1173.8 862.8,1150.8 863.1,1160.4 863.4,1154.3 863.7,1159.7 864.0,1154.8 864.3,1161.8 864.6,1149.6 864.9,1173.5 865.2,1163.7 865.5,1163.6 865.8,1157.7 866.1,1162.7 866.4,1159.4 866.7,1165.3 867.0,1158.5 867.4,1158.5 867.7,1171.6 868.0,1169.3 868.3,1173.9 868.6,1168.5 868.9,1148.6 869.2,1165.2 869.5,1167.8 869.8,1163.7 870.1,1169.6 870.4,1169.6 870.7,1164.1 871.0,1165.8 871.3,1161.8 871.7,1172.3 872.0,1152.2 872.3,1151.4 872.6,1169.2 872.9,1149.5 873.2,1165.2 873.5,1162.5 873.8,1171.4 874.1,1154.8 874.4,1154.5 874.7,1160.9 875.0,1160.7 875.3,1155.7 875.6,1154.7 875.9,1161.5 876.3,1167.3 876.6,1145.6 876.9,1168.3 877.2,1165.1 877.5,1157.8 877.8,1153.7 878.1,1156.2 878.4,1146.0 878.7,1161.3 879.0,1160.6 879.3,1160.2 879.6,1163.0 879.9,1151.3 880.2,1167.0 880.5,1159.2 880.9,1160.9 881.2,1162.5 881.5,1162.5 881.8,1166.3 882.1,1162.1 882.4,1162.0 882.7,1154.2 883.0,1156.6 883.3,1149.0 883.6,1161.7 883.9,1157.9 884.2,1159.4 884.5,1164.4 884.8,1157.3 885.1,1170.1 885.5,1151.2 885.8,1170.5 886.1,1168.0 886.4,1157.4 886.7,1162.8 887.0,1166.9 887.3,1155.7 887.6,1161.8 887.9,1167.0 888.2,1163.4 888.5,1157.2 888.8,1148.9 889.1,1164.8 889.4,1165.4 889.7,1171.8 890.1,1165.9 890.4,1150.4 890.7,1151.8 891.0,1148.4 891.3,1163.6 891.6,1157.3 891.9,1159.7 892.2,1154.5 892.5,1146.1 892.8,1159.8 893.1,1145.3 893.4,1142.7 893.7,1150.1 894.0,1160.3 894.3,1167.1 894.7,1159.9 895.0,1158.6 895.3,1161.0 895.6,1164.0 895.9,1166.5 896.2,1151.2 896.5,1152.7 896.8,1179.6 897.1,1147.4 897.4,1140.5 897.7,1152.3 898.0,1152.7 898.3,1150.4 898.6,1169.0 898.9,1164.5 899.3,1150.1 899.6,1174.9 899.9,1153.7 900.2,1158.1 900.5,1150.6 900.8,1149.7 901.1,1160.0 901.4,1167.7 901.7,1161.1 902.0,1156.8 902.3,1154.6 902.6,1166.3 902.9,1145.3 903.2,1153.9 903.5,1148.8 903.9,1153.8 904.2,1153.1 904.5,1149.5 904.8,1146.5 905.1,1157.5 905.4,1170.8 905.7,1157.4 906.0,1153.7 906.3,1148.6 906.6,1159.1 906.9,1157.6 907.2,1169.2 907.5,1152.1 907.8,1165.9 908.1,1147.8 908.5,1157.4 908.8,1159.5 909.1,1150.0 909.4,1140.4 909.7,1154.8 910.0,1155.8 910.3,1162.3 910.6,1161.3 910.9,1166.2 911.2,1145.9 911.5,1164.6 911.8,1155.9 912.1,1158.4 912.4,1137.5 912.7,1155.4 913.1,1152.4 913.4,1152.6 913.7,1171.0 914.0,1146.4 914.3,1148.2 914.6,1152.8 914.9,1153.2 915.2,1142.3 915.5,1141.6 915.8,1149.9 916.1,1140.9 916.4,1154.2 916.7,1145.7 917.0,1138.7 917.3,1154.1 917.7,1152.8 918.0,1153.5 918.3,1149.7 918.6,1152.8 918.9,1145.9 919.2,1135.6 919.5,1145.6 919.8,1145.9 920.1,1144.5 920.4,1149.5 920.7,1159.9 921.0,1153.4 921.3,1150.7 921.6,1151.8 921.9,1139.7 922.3,1161.4 922.6,1147.8 922.9,1156.1 923.2,1154.1 923.5,1153.9 923.8,1158.8 924.1,1145.9 924.4,1152.7 924.7,1144.1 925.0,1144.9 925.3,1129.2 925.6,1145.1 925.9,1143.5 926.2,1146.0 926.5,1136.7 926.9,1134.6 927.2,1144.9 927.5,1140.6 927.8,1145.5 928.1,1133.7 928.4,1129.4 928.7,1143.7 929.0,1141.9 929.3,1140.8 929.6,1141.6 929.9,1139.5 930.2,1136.4 930.5,1130.0 930.8,1137.4 931.1,1134.5 931.5,1131.7 931.8,1123.0 932.1,1129.4 932.4,1136.0 932.7,1136.5 933.0,1119.7 933.3,1136.8 933.6,1124.3 933.9,1135.9 934.2,1126.0 934.5,1118.6 934.8,1133.0 935.1,1113.0 935.4,1125.7 935.7,1121.5 936.1,1124.0 936.4,1123.8 936.7,1120.4 937.0,1125.9 937.3,1102.6 937.6,1120.0 937.9,1122.9 938.2,1099.6 938.5,1098.4 938.8,1104.0 939.1,1098.8 939.4,1114.5 939.7,1110.5 940.0,1099.1 940.4,1099.6 940.7,1117.2 941.0,1097.4 941.3,1095.1 941.6,1117.1 941.9,1110.5 942.2,1095.5 942.5,1103.6 942.8,1082.7 943.1,1104.8 943.4,1121.6 943.7,1090.7 944.0,1100.1 944.3,1091.7 944.6,1083.3 945.0,1089.7 945.3,1085.2 945.6,1076.5 945.9,1088.5 946.2,1090.4 946.5,1091.9 946.8,1089.5 947.1,1088.0 947.4,1084.9 947.7,1079.3 948.0,1068.1 948.3,1081.0 948.6,1075.5 948.9,1064.8 949.2,1077.5 949.6,1083.4 949.9,1091.3 950.2,1065.7 950.5,1086.6 950.8,1065.1 951.1,1073.4 951.4,1083.6 951.7,1068.8 952.0,1063.9 952.3,1055.7 952.6,1077.1 952.9,1055.2 953.2,1065.6 953.5,1061.8 953.8,1066.7 954.2,1076.9 954.5,1066.9 954.8,1083.6 955.1,1080.2 955.4,1047.5 955.7,1048.0 956.0,1058.6 956.3,1058.4 956.6,1077.4 956.9,1062.8 957.2,1070.0 957.5,1048.1 957.8,1071.0 958.1,1083.1 958.4,1067.6 958.8,1058.5 959.1,1066.3 959.4,1071.2 959.7,1071.3 960.0,1071.8 960.3,1075.6 960.6,1064.8 960.9,1071.5 961.2,1071.3 961.5,1072.3 961.8,1058.0 962.1,1077.9 962.4,1081.4 962.7,1065.7 963.0,1094.4 963.4,1077.3 963.7,1079.3 964.0,1086.2 964.3,1082.7 964.6,1092.3 964.9,1094.1 965.2,1064.6 965.5,1085.8 965.8,1095.5 966.1,1093.3 966.4,1096.7 966.7,1092.1 967.0,1088.7 967.3,1081.7 967.6,1109.4 968.0,1098.2 968.3,1098.6 968.6,1100.8 968.9,1098.9 969.2,1101.9 969.5,1111.8 969.8,1107.1 970.1,1094.2 970.4,1105.3 970.7,1103.6 971.0,1108.2 971.3,1108.1 971.6,1121.9 971.9,1101.9 972.2,1117.6 972.6,1118.0 972.9,1110.4 973.2,1104.1 973.5,1117.0 973.8,1106.0 974.1,1128.8 974.4,1125.3 974.7,1103.2 975.0,1123.1 975.3,1120.1 975.6,1118.0 975.9,1118.5 976.2,1137.9 976.5,1120.2 976.8,1122.2 977.2,1136.6 977.5,1128.9 977.8,1118.2 978.1,1152.3 978.4,1134.9 978.7,1126.6 979.0,1154.1 979.3,1138.3 979.6,1137.9 979.9,1134.0 980.2,1142.9 980.5,1141.2 980.8,1140.5 981.1,1148.7 981.4,1139.3 981.8,1134.4 982.1,1132.8 982.4,1147.1 982.7,1144.7 983.0,1139.3 983.3,1150.9 983.6,1148.2 983.9,1139.5 984.2,1134.1 984.5,1140.8 984.8,1137.0 985.1,1144.5 985.4,1148.0 985.7,1149.9 986.0,1130.9 986.4,1143.1 986.7,1149.9 987.0,1151.1 987.3,1149.3 987.6,1145.1 987.9,1148.9 988.2,1156.1 988.5,1147.1 988.8,1144.5 989.1,1154.2 989.4,1155.6 989.7,1142.5 990.0,1146.0 990.3,1140.9 990.6,1150.1 991.0,1154.0 991.3,1149.9 991.6,1145.1 991.9,1145.1 992.2,1152.6 992.5,1158.8 992.8,1154.2 993.1,1153.5 993.4,1163.0 993.7,1151.8 994.0,1151.8 994.3,1147.2 994.6,1163.6 994.9,1161.6 995.2,1154.2 995.6,1156.6 995.9,1147.3 996.2,1150.0 996.5,1156.3 996.8,1159.9 997.1,1138.4 997.4,1165.8 997.7,1161.0 998.0,1147.9 998.3,1157.9 998.6,1152.9 998.9,1151.5 999.2,1152.5 999.5,1152.6 999.8,1157.3 1000.2,1158.1 1000.5,1163.8 1000.8,1155.7 1001.1,1151.6 1001.4,1158.4 1001.7,1160.8 1002.0,1158.1 1002.3,1166.3 1002.6,1155.6 1002.9,1148.6 1003.2,1161.9 1003.5,1162.4 1003.8,1157.8 1004.1,1158.5 1004.4,1150.6 1004.8,1156.9 1005.1,1159.5 1005.4,1157.0 1005.7,1148.7 1006.0,1159.0 1006.3,1152.3 1006.6,1160.7 1006.9,1159.5 1007.2,1163.0 1007.5,1152.4 1007.8,1159.9 1008.1,1161.2 1008.4,1160.1 1008.7,1166.6 1009.1,1151.7 1009.4,1164.5 1009.7,1166.0 1010.0,1159.2 1010.3,1152.2 1010.6,1158.6 1010.9,1159.5 1011.2,1160.3 1011.5,1166.7 1011.8,1163.6 1012.1,1149.0 1012.4,1166.2 1012.7,1147.1 1013.0,1154.4 1013.3,1147.4 1013.7,1162.1 1014.0,1155.9 1014.3,1166.9 1014.6,1154.5 1014.9,1160.6 1015.2,1170.1 1015.5,1157.6 1015.8,1168.1 1016.1,1162.1 1016.4,1160.6 1016.7,1150.7 1017.0,1160.0 1017.3,1172.2 1017.6,1159.9 1017.9,1163.5 1018.3,1170.1 1018.6,1156.0 1018.9,1161.1 1019.2,1161.3 1019.5,1156.4 1019.8,1164.4 1020.1,1169.6 1020.4,1164.5 1020.7,1160.6 1021.0,1162.1 1021.3,1149.4 1021.6,1163.8 1021.9,1154.0 1022.2,1167.9 1022.5,1155.4 1022.9,1167.6 1023.2,1157.0 1023.5,1157.4 1023.8,1149.6 1024.1,1163.3 1024.4,1163.1 1024.7,1168.0 1025.0,1155.3 1025.3,1149.8 1025.6,1166.9 1025.9,1143.0 1026.2,1153.5 1026.5,1166.9 1026.8,1159.9 1027.1,1151.7 1027.5,1159.1 1027.8,1170.2 1028.1,1159.9 1028.4,1158.5 1028.7,1168.8 1029.0,1157.0 1029.3,1162.3 1029.6,1170.0 1029.9,1150.0 1030.2,1156.2 1030.5,1166.5 1030.8,1160.8 1031.1,1173.7 1031.4,1160.7 1031.7,1162.1 1032.1,1151.8 1032.4,1154.1 1032.7,1171.8 1033.0,1156.6 1033.3,1163.1 1033.6,1159.5 1033.9,1177.6 1034.2,1150.2 1034.5,1165.3 1034.8,1161.5 1035.1,1154.3 1035.4,1159.4 1035.7,1165.8 1036.0,1181.2 1036.3,1170.9 1036.7,1166.1 1037.0,1163.4 1037.3,1152.2 1037.6,1152.5 1037.9,1165.7 1038.2,1151.6 1038.5,1169.9 1038.8,1166.0 1039.1,1172.1 1039.4,1164.7 1039.7,1156.3 1040.0,1170.8 1040.3,1155.6 1040.6,1162.7 1040.9,1161.3 1041.3,1157.0 1041.6,1161.6 1041.9,1163.0 1042.2,1156.6 1042.5,1172.8 1042.8,1159.1 1043.1,1159.8 1043.4,1165.9 1043.7,1160.3 1044.0,1161.8 1044.3,1163.5 1044.6,1150.4 1044.9,1174.9 1045.2,1155.1 1045.5,1150.3 1045.9,1164.5 1046.2,1164.8 1046.5,1163.4 1046.8,1156.1 1047.1,1155.6 1047.4,1162.2 1047.7,1161.2 1048.0,1168.7 1048.3,1161.5 1048.6,1165.6 1048.9,1161.4 1049.2,1149.5 1049.5,1155.5 1049.8,1171.9 1050.1,1163.6 1050.5,1170.4 1050.8,1161.8 1051.1,1161.6 1051.4,1158.4 1051.7,1169.6 1052.0,1172.7 1052.3,1156.0 1052.6,1164.0 1052.9,1157.0 1053.2,1163.0 1053.5,1151.9 1053.8,1152.6 1054.1,1165.8 1054.4,1163.5 1054.7,1161.4 1055.1,1171.9 1055.4,1156.9 1055.7,1160.7 1056.0,1170.4 1056.3,1161.8 1056.6,1158.0 1056.9,1168.3 1057.2,1160.6 1057.5,1159.1 1057.8,1153.1 1058.1,1151.0 1058.4,1150.0 1058.7,1154.4 1059.0,1159.0 1059.3,1163.4 1059.7,1151.2 1060.0,1162.5 1060.3,1170.4 1060.6,1170.8 1060.9,1157.3 1061.2,1179.4 1061.5,1166.4 1061.8,1168.5 1062.1,1173.0 1062.4,1154.3 1062.7,1158.3 1063.0,1161.3 1063.3,1163.5 1063.6,1153.6 1063.9,1167.3 1064.3,1157.1 1064.6,1163.3 1064.9,1165.7 1065.2,1156.6 1065.5,1170.7 1065.8,1155.2 1066.1,1146.5 1066.4,1168.5 1066.7,1160.2 1067.0,1149.6 1067.3,1158.3 1067.6,1163.0 1067.9,1159.5 1068.2,1165.1 1068.5,1154.2 1068.9,1160.5 1069.2,1157.2 1069.5,1157.6 1069.8,1162.3 1070.1,1167.3 1070.4,1158.4 1070.7,1157.1 1071.0,1164.6 1071.3,1161.3 1071.6,1144.2 1071.9,1158.4 1072.2,1155.7 1072.5,1152.2 1072.8,1154.6 1073.1,1154.1 1073.5,1171.9 1073.8,1154.7 1074.1,1155.7 1074.4,1145.2 1074.7,1156.5 1075.0,1163.3 1075.3,1153.7 1075.6,1161.3 1075.9,1159.6 1076.2,1157.4 1076.5,1176.8 1076.8,1152.2 1077.1,1159.4 1077.4,1148.5 1077.8,1163.4 1078.1,1152.5 1078.4,1153.1 1078.7,1161.8 1079.0,1152.1 1079.3,1162.4 1079.6,1143.8 1079.9,1161.7 1080.2,1150.8 1080.5,1141.8 1080.8,1162.7 1081.1,1167.1 1081.4,1158.1 1081.7,1166.6 1082.0,1161.0 1082.4,1149.5 1082.7,1165.7 1083.0,1153.6 1083.3,1161.7 1083.6,1156.6 1083.9,1148.5 1084.2,1151.1 1084.5,1145.8 1084.8,1156.5 1085.1,1143.7 1085.4,1166.1 1085.7,1153.2 1086.0,1141.5 1086.3,1153.3 1086.6,1144.0 1087.0,1160.8 1087.3,1154.2 1087.6,1143.8 1087.9,1159.9 1088.2,1157.3 1088.5,1153.8 1088.8,1142.2 1089.1,1143.2 1089.4,1166.1 1089.7,1137.7 1090.0,1151.6 1090.3,1150.7 1090.6,1140.5 1090.9,1138.7 1091.2,1137.1 1091.6,1155.5 1091.9,1141.6 1092.2,1154.3 1092.5,1152.0 1092.8,1147.9 1093.1,1144.9 1093.4,1143.6 1093.7,1148.5 1094.0,1142.8 1094.3,1137.4 1094.6,1144.1 1094.9,1158.6 1095.2,1155.7 1095.5,1142.1 1095.8,1134.1 1096.2,1137.0 1096.5,1139.0 1096.8,1146.5 1097.1,1144.3 1097.4,1151.8 1097.7,1156.6 1098.0,1143.3 1098.3,1151.4 1098.6,1146.7 1098.9,1137.9 1099.2,1139.9 1099.5,1136.5 1099.8,1129.1 1100.1,1149.1 1100.4,1150.0 1100.8,1146.7 1101.1,1140.2 1101.4,1143.1 1101.7,1144.4 1102.0,1142.5 1102.3,1138.1 1102.6,1140.1 1102.9,1140.2 1103.2,1146.8 1103.5,1147.7 1103.8,1131.0 1104.1,1158.4 1104.4,1142.9 1104.7,1133.4 1105.0,1126.7 1105.4,1141.0 1105.7,1145.5 1106.0,1131.0 1106.3,1134.0 1106.6,1149.5 1106.9,1143.6 1107.2,1141.4 1107.5,1140.5 1107.8,1151.2 1108.1,1131.4 1108.4,1137.5 1108.7,1130.6 1109.0,1125.6 1109.3,1121.9 1109.6,1129.0 1110.0,1127.4 1110.3,1128.6 1110.6,1137.8 1110.9,1129.0 1111.2,1125.7 1111.5,1129.0 1111.8,1127.5 1112.1,1129.8 1112.4,1141.5 1112.7,1128.0 1113.0,1132.2 1113.3,1129.6 1113.6,1126.1 1113.9,1133.7 1114.2,1134.2 1114.6,1130.6 1114.9,1136.9 1115.2,1131.4 1115.5,1138.4 1115.8,1126.0 1116.1,1136.5 1116.4,1134.7 1116.7,1128.7 1117.0,1126.0 1117.3,1124.4 1117.6,1122.3 1117.9,1126.3 1118.2,1126.9 1118.5,1128.3 1118.8,1147.4 1119.2,1130.2 1119.5,1124.2 1119.8,1143.1 1120.1,1140.3 1120.4,1127.9 1120.7,1139.3 1121.0,1136.4 1121.3,1141.5 1121.6,1131.3 1121.9,1136.5 1122.2,1134.2 1122.5,1131.6 1122.8,1136.5 1123.1,1148.1 1123.4,1135.5 1123.8,1133.1 1124.1,1133.6 1124.4,1143.6 1124.7,1138.2 1125.0,1130.3 1125.3,1130.9 1125.6,1137.6 1125.9,1146.5 1126.2,1151.8 1126.5,1149.6 1126.8,1141.3 1127.1,1145.6 1127.4,1150.8 1127.7,1139.8 1128.0,1120.3 1128.4,1155.8 1128.7,1153.1 1129.0,1148.8 1129.3,1154.9 1129.6,1151.7 1129.9,1141.9 1130.2,1138.1 1130.5,1145.4 1130.8,1140.6 1131.1,1144.7 1131.4,1153.9 1131.7,1139.4 1132.0,1148.4 1132.3,1163.7 1132.6,1150.3 1133.0,1140.9 1133.3,1152.6 1133.6,1149.5 1133.9,1159.0 1134.2,1148.6 1134.5,1162.8 1134.8,1160.7 1135.1,1166.2 1135.4,1156.7 1135.7,1164.6 1136.0,1140.2 1136.3,1145.8 1136.6,1156.4 1136.9,1154.4 1137.2,1151.4 1137.6,1157.9 1137.9,1158.2 1138.2,1160.1 1138.5,1145.0 1138.8,1162.0 1139.1,1160.5 1139.4,1154.7 1139.7,1152.0 1140.0,1161.4 1140.3,1156.5 1140.6,1156.1 1140.9,1163.7 1141.2,1168.7 1141.5,1157.7 1141.8,1154.7 1142.2,1158.9 1142.5,1155.8 1142.8,1149.3 1143.1,1163.7 1143.4,1161.4 1143.7,1152.6 1144.0,1156.9 1144.3,1158.2 1144.6,1153.4 1144.9,1166.6 1145.2,1162.5 1145.5,1152.6 1145.8,1148.7 1146.1,1173.4 1146.5,1146.2 1146.8,1167.3 1147.1,1164.7 1147.4,1166.1 1147.7,1155.0 1148.0,1160.6 1148.3,1160.0 1148.6,1173.5 1148.9,1164.0 1149.2,1152.7 1149.5,1165.9 1149.8,1169.3 1150.1,1170.1 1150.4,1161.1 1150.7,1163.9 1151.1,1158.7 1151.4,1162.6 1151.7,1166.9 1152.0,1167.9 1152.3,1152.9 1152.6,1164.9 1152.9,1167.2 1153.2,1166.5 1153.5,1146.9 1153.8,1162.1 1154.1,1171.6 1154.4,1175.7 1154.7,1165.0 1155.0,1165.5 1155.3,1156.7 1155.7,1162.2 1156.0,1164.1 1156.3,1178.0 1156.6,1149.2 1156.9,1173.0 1157.2,1172.5 1157.5,1173.2 1157.8,1158.6 1158.1,1166.2 1158.4,1164.1 1158.7,1168.3 1159.0,1162.7 1159.3,1160.9 1159.6,1160.9 1159.9,1158.0 1160.3,1173.8 1160.6,1159.2 1160.9,1160.3 1161.2,1172.1 1161.5,1163.8 1161.8,1164.4 1162.1,1172.0 1162.4,1165.6 1162.7,1169.3 1163.0,1165.1 1163.3,1151.1 1163.6,1160.6 1163.9,1167.7 1164.2,1162.8 1164.5,1172.8 1164.9,1162.4 1165.2,1163.7 1165.5,1161.8 1165.8,1163.0 1166.1,1178.5 1166.4,1160.7 1166.7,1153.6 1167.0,1159.7 1167.3,1153.7 1167.6,1165.0 1167.9,1165.2 1168.2,1162.7 1168.5,1160.7 1168.8,1162.2 1169.1,1151.1 1169.5,1164.4 1169.8,1161.3 1170.1,1176.3 1170.4,1164.8 1170.7,1166.8 1171.0,1159.9 1171.3,1164.8 1171.6,1172.4 1171.9,1159.0 1172.2,1167.1 1172.5,1165.9 1172.8,1171.2 1173.1,1163.9 1173.4,1166.2 1173.7,1164.6 1174.1,1177.2 1174.4,1174.1 1174.7,1166.4 1175.0,1171.1 1175.3,1160.8 1175.6,1166.5 1175.9,1166.8 1176.2,1167.9 1176.5,1176.5 1176.8,1165.1 1177.1,1164.1 1177.4,1170.7 1177.7,1169.3 1178.0,1176.6 1178.3,1188.4 1178.7,1172.6 1179.0,1166.2 1179.3,1165.2 1179.6,1176.7 1179.9,1161.1 1180.2,1165.3 1180.5,1169.8 1180.8,1169.8 1181.1,1164.0 1181.4,1178.2 1181.7,1175.8 1182.0,1176.8 1182.3,1165.2 1182.6,1161.9 1182.9,1171.1 1183.3,1166.4 1183.6,1166.1 1183.9,1165.7 1184.2,1175.0 1184.5,1163.1 1184.8,1187.7 1185.1,1153.2 1185.4,1164.8 1185.7,1166.1 1186.0,1163.2 1186.3,1166.9 1186.6,1165.1 1186.9,1157.4 1187.2,1169.2 1187.5,1180.4 1187.9,1158.3 1188.2,1162.2 1188.5,1159.8 1188.8,1167.6 1189.1,1158.4 1189.4,1167.3 1189.7,1168.0 1190.0,1170.3 1190.3,1174.5 1190.6,1162.1 1190.9,1160.9 1191.2,1170.9 1191.5,1173.7 1191.8,1165.0 1192.1,1154.9 1192.5,1173.1 1192.8,1173.0 1193.1,1152.7 1193.4,1171.4 1193.7,1164.7 1194.0,1155.5 1194.3,1174.9 1194.6,1170.5 1194.9,1181.4 1195.2,1169.6 1195.5,1166.9 1195.8,1174.5 1196.1,1181.2 1196.4,1174.3 1196.7,1167.4 1197.1,1169.5 1197.4,1166.8 1197.7,1161.3 1198.0,1165.5 1198.3,1169.5 1198.6,1164.9 1198.9,1172.9 1199.2,1163.4 1199.5,1170.1 1199.8,1159.7 1200.1,1156.3 1200.4,1173.9 1200.7,1169.1 1201.0,1165.2 1201.3,1172.7 1201.7,1184.7 1202.0,1171.0 1202.3,1176.2 1202.6,1165.9 1202.9,1169.5 1203.2,1168.1 1203.5,1183.1 1203.8,1175.2 1204.1,1162.1 1204.4,1158.4 1204.7,1185.2 1205.0,1173.3 1205.3,1169.8 1205.6,1166.2 1205.9,1168.7 1206.3,1164.0 1206.6,1166.6 1206.9,1161.1 1207.2,1168.5 1207.5,1165.8 1207.8,1175.9 1208.1,1171.2 1208.4,1158.0 1208.7,1165.5 1209.0,1175.8 1209.3,1168.5 1209.6,1165.8 1209.9,1173.8 1210.2,1171.6 1210.5,1162.7 1210.9,1172.9 1211.2,1169.3 1211.5,1161.3 1211.8,1165.4 1212.1,1170.8 1212.4,1163.7 1212.7,1168.4 1213.0,1172.0 1213.3,1166.7 1213.6,1162.8 1213.9,1163.5 1214.2,1166.1 1214.5,1159.8 1214.8,1180.6 1215.2,1166.8 1215.5,1169.6 1215.8,1169.4 1216.1,1176.8 1216.4,1157.6 1216.7,1173.1 1217.0,1167.2 1217.3,1165.3 1217.6,1157.5 1217.9,1173.5 1218.2,1173.6 1218.5,1170.9 1218.8,1167.1 1219.1,1160.8 1219.4,1164.6 1219.8,1174.8 1220.1,1169.9 1220.4,1176.3 1220.7,1170.7 1221.0,1175.8 1221.3,1177.9 1221.6,1177.4 1221.9,1162.0 1222.2,1174.2 1222.5,1169.5 1222.8,1181.1 1223.1,1171.7 1223.4,1177.6 1223.7,1166.3 1224.0,1173.6 1224.4,1167.0 1224.7,1165.4 1225.0,1171.8 1225.3,1170.4 1225.6,1173.5 1225.9,1158.9 1226.2,1160.7 1226.5,1180.4 1226.8,1165.6 1227.1,1169.2 1227.4,1174.2 1227.7,1176.6 1228.0,1177.3 1228.3,1164.0 1228.6,1174.8 1229.0,1171.5 1229.3,1166.4 1229.6,1169.6 1229.9,1174.1 1230.2,1175.2 1230.5,1168.0 1230.8,1175.9 1231.1,1160.4 1231.4,1168.9 1231.7,1156.1 1232.0,1180.4 1232.3,1173.4 1232.6,1165.8 1232.9,1167.0 1233.2,1168.4 1233.6,1169.1 1233.9,1158.5 1234.2,1164.9 1234.5,1174.5 1234.8,1172.9 1235.1,1163.9 1235.4,1172.5 1235.7,1177.9 1236.0,1163.0 1236.3,1158.3 1236.6,1158.6 1236.9,1176.4 1237.2,1169.2 1237.5,1167.0 1237.8,1163.0 1238.2,1177.7 1238.5,1169.8 1238.8,1173.9 1239.1,1169.0 1239.4,1159.4 1239.7,1178.6 1240.0,1166.8 1240.3,1175.0 1240.6,1172.6 1240.9,1166.5 1241.2,1178.7 1241.5,1176.7 1241.8,1174.0 1242.1,1180.8 1242.4,1168.0 1242.8,1174.9 1243.1,1168.1 1243.4,1168.8 1243.7,1175.3 1244.0,1160.0 1244.3,1173.4 1244.6,1163.5 1244.9,1175.4 1245.2,1159.4 1245.5,1166.2 1245.8,1177.2 1246.1,1170.8 1246.4,1174.9 1246.7,1167.1 1247.0,1179.9 1247.4,1170.2 1247.7,1178.8 1248.0,1166.0 1248.3,1164.2 1248.6,1174.9 1248.9,1165.0 1249.2,1171.4 1249.5,1181.9 1249.8,1167.8 1250.1,1163.2 1250.4,1174.9 1250.7,1162.6 1251.0,1168.8 1251.3,1166.5 1251.6,1168.2 1252.0,1166.5 1252.3,1152.6 1252.6,1172.0 1252.9,1176.2 1253.2,1176.1 1253.5,1171.4 1253.8,1172.7 1254.1,1160.5 1254.4,1162.7 1254.7,1179.3 1255.0,1165.6 1255.3,1159.4 1255.6,1167.8 1255.9,1165.6 1256.2,1171.2 1256.6,1172.7 1256.9,1160.4 1257.2,1170.2 1257.5,1175.3 1257.8,1171.8 1258.1,1165.8 1258.4,1175.2 1258.7,1171.0 1259.0,1160.7 1259.3,1160.4 1259.6,1172.0 1259.9,1160.9 1260.2,1162.1 1260.5,1172.1 1260.8,1168.8 1261.2,1163.5 1261.5,1168.6 1261.8,1164.4 1262.1,1175.8 1262.4,1167.8 1262.7,1182.8 1263.0,1179.7 1263.3,1176.5 1263.6,1172.8 1263.9,1171.3 1264.2,1165.8 1264.5,1179.3 1264.8,1186.5 1265.1,1168.7 1265.4,1169.9 1265.8,1148.1 1266.1,1168.0 1266.4,1163.2 1266.7,1184.2 1267.0,1162.3 1267.3,1170.7 1267.6,1176.4 1267.9,1173.9 1268.2,1162.1 1268.5,1171.9 1268.8,1173.0 1269.1,1170.1 1269.4,1169.4 1269.7,1155.0 1270.0,1171.0 1270.4,1164.3 1270.7,1174.1 1271.0,1160.9 1271.3,1159.5 1271.6,1170.4 1271.9,1167.9 1272.2,1160.2 1272.5,1166.1 1272.8,1165.0 1273.1,1169.7 1273.4,1169.5 1273.7,1159.8 1274.0,1173.4 1274.3,1176.5 1274.6,1157.3 1275.0,1165.1 1275.3,1175.9 1275.6,1159.4 1275.9,1161.5 1276.2,1158.9 1276.5,1178.0 1276.8,1173.9 1277.1,1161.2 1277.4,1173.5 1277.7,1174.1 1278.0,1174.3 1278.3,1175.2 1278.6,1175.7 1278.9,1166.4 1279.2,1176.5 1279.6,1165.3 1279.9,1183.4 1280.2,1165.3 1280.5,1172.3 1280.8,1180.6 1281.1,1167.9 1281.4,1170.5 1281.7,1170.3 1282.0,1168.0 1282.3,1174.5 1282.6,1178.4 1282.9,1165.1 1283.2,1179.1 1283.5,1162.8 1283.9,1167.3 1284.2,1155.6 1284.5,1158.0 1284.8,1173.8 1285.1,1161.4 1285.4,1164.4 1285.7,1156.4 1286.0,1174.8 1286.3,1163.6 1286.6,1162.3 1286.9,1181.9 1287.2,1170.7 1287.5,1170.7 1287.8,1162.9 1288.1,1182.2 1288.5,1167.6 1288.8,1174.8 1289.1,1173.8 1289.4,1161.9 1289.7,1169.3 1290.0,1172.8 1290.3,1175.2 1290.6,1173.1 1290.9,1165.5 1291.2,1172.4 1291.5,1175.9 1291.8,1160.7 1292.1,1170.9 1292.4,1172.0 1292.7,1175.7 1293.1,1169.5 1293.4,1171.5 1293.7,1151.8 1294.0,1162.3 1294.3,1156.5 1294.6,1170.5 1294.9,1178.2 1295.2,1174.9 1295.5,1166.5 1295.8,1180.1 1296.1,1171.9 1296.4,1174.0 1296.7,1169.0 1297.0,1173.3 1297.3,1166.8 1297.7,1173.3 1298.0,1173.3 1298.3,1165.1 1298.6,1178.1 1298.9,1172.6 1299.2,1163.2 1299.5,1156.6 1299.8,1167.3 1300.1,1175.3 1300.4,1166.2 1300.7,1177.0 1301.0,1171.7 1301.3,1169.8 1301.6,1173.0 1301.9,1172.8 1302.3,1169.1 1302.6,1171.4 1302.9,1172.8 1303.2,1169.0 1303.5,1185.0 1303.8,1175.1 1304.1,1177.1 1304.4,1177.3 1304.7,1176.0 1305.0,1169.4 1305.3,1162.9 1305.6,1166.9 1305.9,1181.4 1306.2,1173.6 1306.5,1160.6 1306.9,1170.1 1307.2,1174.1 1307.5,1164.8 1307.8,1167.9 1308.1,1169.7 1308.4,1182.5 1308.7,1170.5 1309.0,1169.8 1309.3,1160.8 1309.6,1177.4 1309.9,1177.0 1310.2,1172.7 1310.5,1169.9 1310.8,1174.6 1311.1,1171.2 1311.5,1173.3 1311.8,1177.5 1312.1,1170.5 1312.4,1167.8 1312.7,1173.1 1313.0,1163.6 1313.3,1163.3 1313.6,1178.4 1313.9,1160.2 1314.2,1159.1 1314.5,1164.5 1314.8,1167.4 1315.1,1165.4 1315.4,1174.5 1315.7,1168.6 1316.1,1153.2 1316.4,1162.1 1316.7,1170.4 1317.0,1152.2 1317.3,1174.3 1317.6,1173.6 1317.9,1168.2 1318.2,1169.1 1318.5,1157.4 1318.8,1170.1 1319.1,1172.2 1319.4,1160.1 1319.7,1171.3 1320.0,1177.6 1320.3,1181.4 1320.7,1173.0 1321.0,1170.0 1321.3,1171.0 1321.6,1164.5 1321.9,1170.1 1322.2,1172.5 1322.5,1163.1 1322.8,1165.7 1323.1,1170.8 1323.4,1165.3 1323.7,1178.0 1324.0,1161.6 1324.3,1169.5 1324.6,1170.9 1324.9,1174.2 1325.3,1164.7 1325.6,1163.2 1325.9,1168.6 1326.2,1167.7 1326.5,1167.3 1326.8,1175.2 1327.1,1164.7 1327.4,1176.1 1327.7,1171.6 1328.0,1178.0 1328.3,1172.9 1328.6,1174.2 1328.9,1170.5 1329.2,1170.4 1329.5,1158.3 1329.9,1179.0 1330.2,1180.3 1330.5,1167.2 1330.8,1176.1 1331.1,1167.8 1331.4,1175.4 1331.7,1164.1 1332.0,1169.9 1332.3,1173.2 1332.6,1168.0 1332.9,1175.3 1333.2,1163.5 1333.5,1166.4 1333.8,1177.3 1334.1,1164.4 1334.5,1167.3 1334.8,1158.9 1335.1,1164.3 1335.4,1167.5 1335.7,1180.0 1336.0,1168.1 1336.3,1175.3 1336.6,1171.6 1336.9,1167.5 1337.2,1165.4 1337.5,1180.1 1337.8,1167.5 1338.1,1165.2 1338.4,1159.1 1338.7,1169.7 1339.1,1170.3 1339.4,1171.9 1339.7,1162.5 1340.0,1160.8 1340.3,1158.6 1340.6,1166.4 1340.9,1164.8 1341.2,1166.6 1341.5,1173.4 1341.8,1165.2 1342.1,1173.7 1342.4,1155.3 1342.7,1176.0 1343.0,1169.0 1343.3,1166.1 1343.7,1168.9 1344.0,1168.0 1344.3,1173.5 1344.6,1168.5 1344.9,1180.8 1345.2,1158.9 1345.5,1166.0 1345.8,1168.0 1346.1,1173.7 1346.4,1158.7 1346.7,1165.9 1347.0,1182.2 1347.3,1170.0 1347.6,1180.9 1347.9,1162.6 1348.3,1170.7 1348.6,1172.9 1348.9,1166.2 1349.2,1167.6 1349.5,1165.6 1349.8,1172.7 1350.1,1175.6 1350.4,1179.0 1350.7,1173.3 1351.0,1171.3 1351.3,1162.2 1351.6,1189.0 1351.9,1185.0 1352.2,1158.0 1352.6,1175.6 1352.9,1172.3 1353.2,1169.0 1353.5,1166.8 1353.8,1175.2 1354.1,1176.6 1354.4,1179.8 1354.7,1166.3 1355.0,1169.0 1355.3,1177.0 1355.6,1173.1 1355.9,1170.4 1356.2,1170.9 1356.5,1175.9 1356.8,1166.2 1357.2,1163.0 1357.5,1178.1 1357.8,1174.3 1358.1,1164.9 1358.4,1169.9 1358.7,1172.9 1359.0,1179.1 1359.3,1174.1 1359.6,1172.4 1359.9,1165.2 1360.2,1171.1 1360.5,1162.8 1360.8,1173.5 1361.1,1184.7 1361.4,1165.9 1361.8,1177.3 1362.1,1182.6 1362.4,1159.4 1362.7,1175.6 1363.0,1167.8 1363.3,1172.6 1363.6,1168.5 1363.9,1171.0 1364.2,1174.6 1364.5,1169.8 1364.8,1173.0 1365.1,1173.3 1365.4,1173.0 1365.7,1169.8 1366.0,1168.5 1366.4,1167.2 1366.7,1181.9 1367.0,1161.6 1367.3,1183.2 1367.6,1175.2 1367.9,1178.7 1368.2,1170.0 1368.5,1179.1 1368.8,1170.8 1369.1,1165.3 1369.4,1169.9 1369.7,1165.0 1370.0,1185.6 1370.3,1175.3 1370.6,1172.2 1371.0,1171.3 1371.3,1182.5 1371.6,1179.9 1371.9,1175.0 1372.2,1170.0 1372.5,1172.1 1372.8,1179.1 1373.1,1166.1 1373.4,1172.3 1373.7,1172.0 1374.0,1166.6 1374.3,1177.0 1374.6,1170.2 1374.9,1166.9 1375.2,1165.0 1375.6,1171.5 1375.9,1162.4 1376.2,1166.6 1376.5,1169.8 1376.8,1166.9 1377.1,1169.6 1377.4,1172.4 1377.7,1157.3 1378.0,1173.3 1378.3,1167.3 1378.6,1169.0 1378.9,1173.8 1379.2,1173.6 1379.5,1166.1 1379.8,1163.2 1380.2,1168.8 1380.5,1155.5 1380.8,1173.0 1381.1,1162.1 1381.4,1169.1 1381.7,1166.5 1382.0,1177.9 1382.3,1178.2 1382.6,1165.2 1382.9,1176.7 1383.2,1168.2 1383.5,1166.6 1383.8,1171.5 1384.1,1164.8 1384.4,1169.3 1384.8,1160.9 1385.1,1165.9 1385.4,1173.1 1385.7,1164.4 1386.0,1178.9 1386.3,1174.5 1386.6,1164.4 1386.9,1172.2 1387.2,1167.1 1387.5,1176.4 1387.8,1177.7 1388.1,1165.1 1388.4,1159.5 1388.7,1179.9 1389.0,1166.6 1389.4,1166.4 1389.7,1171.4 1390.0,1160.4 1390.3,1178.7 1390.6,1168.6 1390.9,1164.4 1391.2,1186.3 1391.5,1186.5 1391.8,1172.9 1392.1,1173.6 1392.4,1176.1 1392.7,1164.5 1393.0,1149.9 1393.3,1176.1 1393.6,1167.6 1394.0,1169.7 1394.3,1172.8 1394.6,1175.0 1394.9,1179.8 1395.2,1170.0 1395.5,1164.0 1395.8,1172.6 1396.1,1174.3 1396.4,1173.5 1396.7,1177.9 1397.0,1175.1 1397.3,1175.1 1397.6,1172.3 1397.9,1163.2 1398.2,1185.3 1398.6,1163.0 1398.9,1160.5 1399.2,1170.0 1399.5,1182.7 1399.8,1173.1 1400.1,1176.8 1400.4,1148.3 1400.7,1170.3 1401.0,1167.8 1401.3,1171.0 1401.6,1174.5 1401.9,1178.1 1402.2,1176.6 1402.5,1173.9 1402.8,1179.1 1403.2,1164.6 1403.5,1164.6 1403.8,1167.3 1404.1,1168.0 1404.4,1165.2 1404.7,1170.5 1405.0,1175.1 1405.3,1176.0 1405.6,1169.4 1405.9,1168.2 1406.2,1168.4 1406.5,1167.6 1406.8,1172.0 1407.1,1160.7 1407.4,1166.3 1407.8,1167.2 1408.1,1189.0 1408.4,1167.9 1408.7,1162.4 1409.0,1171.0 1409.3,1163.0 1409.6,1177.9 1409.9,1192.9 1410.2,1171.5 1410.5,1165.5 1410.8,1174.6 1411.1,1174.6 1411.4,1175.6 1411.7,1173.2 1412.0,1182.0 1412.4,1175.1 1412.7,1172.1 1413.0,1175.4 1413.3,1161.0 1413.6,1165.9 1413.9,1177.7 1414.2,1167.6 1414.5,1166.5 1414.8,1174.0 1415.1,1181.8 1415.4,1170.6 1415.7,1165.7 1416.0,1168.0 1416.3,1168.9 1416.6,1176.7 1417.0,1162.4 1417.3,1172.5 1417.6,1175.5 1417.9,1168.9 1418.2,1165.4 1418.5,1168.6 1418.8,1188.2 1419.1,1172.9 1419.4,1176.4 1419.7,1160.2 1420.0,1167.7 1420.3,1162.8 1420.6,1171.3 1420.9,1166.1 1421.2,1173.5 1421.6,1168.2 1421.9,1176.5 1422.2,1170.1 1422.5,1168.9 1422.8,1168.4 1423.1,1165.2 1423.4,1169.7 1423.7,1175.0 1424.0,1162.7 1424.3,1173.0 1424.6,1171.3 1424.9,1166.0 1425.2,1166.2 1425.5,1183.5 1425.9,1178.1 1426.2,1166.4 1426.5,1167.6 1426.8,1157.6 1427.1,1172.6 1427.4,1160.9 1427.7,1170.3 1428.0,1170.7 1428.3,1156.4 1428.6,1175.5 1428.9,1175.2 1429.2,1172.2 1429.5,1172.1 1429.8,1167.5 1430.1,1173.9 1430.5,1170.2 1430.8,1168.3 1431.1,1164.5 1431.4,1165.7 1431.7,1167.9 1432.0,1176.2 1432.3,1172.9 1432.6,1160.8 1432.9,1175.7 1433.2,1176.0 1433.5,1169.1 1433.8,1173.9 1434.1,1161.7 1434.4,1162.1 1434.7,1161.5 1435.1,1172.9 1435.4,1170.3 1435.7,1153.9 1436.0,1167.3 1436.3,1157.1 1436.6,1170.2 1436.9,1166.8 1437.2,1172.9 1437.5,1167.0 1437.8,1167.5 1438.1,1175.0 1438.4,1180.7 1438.7,1169.4 1439.0,1177.6 1439.3,1181.8 1439.7,1173.0 1440.0,1161.1 1440.3,1173.2 1440.6,1164.8 1440.9,1167.4 1441.2,1175.0 1441.5,1170.0 1441.8,1164.4 1442.1,1157.1 1442.4,1173.3 1442.7,1167.1 1443.0,1169.2 1443.3,1159.6 1443.6,1160.2 1443.9,1171.6 1444.3,1165.1 1444.6,1169.5 1444.9,1171.0 1445.2,1176.9 1445.5,1177.3 1445.8,1161.6 1446.1,1157.2 1446.4,1166.8 1446.7,1170.7 1447.0,1162.6 1447.3,1175.4 1447.6,1168.1 1447.9,1169.1 1448.2,1168.0 1448.5,1168.4 1448.9,1168.6 1449.2,1170.2 1449.5,1166.3 1449.8,1167.3 1450.1,1172.8 1450.4,1169.8 1450.7,1171.8 1451.0,1170.4 1451.3,1165.8 1451.6,1172.2 1451.9,1164.1 1452.2,1174.2 1452.5,1154.6 1452.8,1174.5 1453.1,1163.3 1453.5,1174.9 1453.8,1166.6 1454.1,1167.7 1454.4,1165.3 1454.7,1162.2 1455.0,1182.2 1455.3,1172.5 1455.6,1163.0 1455.9,1158.1 1456.2,1172.0 1456.5,1166.7 1456.8,1171.4 1457.1,1172.2 1457.4,1181.8 1457.7,1173.8 1458.1,1159.4 1458.4,1176.4 1458.7,1165.8 1459.0,1166.7 1459.3,1188.0 1459.6,1169.3 1459.9,1163.9 1460.2,1160.6 1460.5,1164.9 1460.8,1163.4 1461.1,1178.2 1461.4,1168.8 1461.7,1177.8 1462.0,1179.7 1462.3,1160.3 1462.7,1161.2 1463.0,1160.6 1463.3,1163.6 1463.6,1175.4 1463.9,1164.5 1464.2,1165.7 1464.5,1169.1 1464.8,1172.0 1465.1,1163.9 1465.4,1173.4 1465.7,1156.9 1466.0,1183.6 1466.3,1180.0 1466.6,1173.2 1466.9,1178.6 1467.3,1173.3 1467.6,1169.5 1467.9,1165.4 1468.2,1177.2 1468.5,1157.6 1468.8,1175.3 1469.1,1170.0 1469.4,1188.2 1469.7,1166.0 1470.0,1179.1 1470.3,1178.9 1470.6,1162.1 1470.9,1172.5 1471.2,1161.7 1471.5,1165.7 1471.9,1173.2 1472.2,1163.0 1472.5,1170.6 1472.8,1167.1 1473.1,1162.3 1473.4,1177.1 1473.7,1166.2 1474.0,1169.4 1474.3,1175.0 1474.6,1156.2 1474.9,1154.3 1475.2,1175.1 1475.5,1175.7 1475.8,1175.3 1476.1,1167.8 1476.5,1175.3 1476.8,1164.7 1477.1,1180.9 1477.4,1167.6 1477.7,1176.6 1478.0,1161.9 1478.3,1178.3 1478.6,1174.8 1478.9,1162.6 1479.2,1175.2 1479.5,1150.8 1479.8,1165.8 1480.1,1176.0 1480.4,1171.8 1480.7,1171.3 1481.1,1162.1 1481.4,1164.7 1481.7,1168.3 1482.0,1180.9 1482.3,1178.5 1482.6,1171.9 1482.9,1170.6 1483.2,1176.6 1483.5,1171.9 1483.8,1175.2 1484.1,1180.5 1484.4,1172.5 1484.7,1170.3 1485.0,1172.0 1485.3,1175.7 1485.7,1177.8 1486.0,1173.4 1486.3,1173.0 1486.6,1170.1 1486.9,1170.9 1487.2,1167.4 1487.5,1181.8 1487.8,1180.5 1488.1,1168.4 1488.4,1166.2 1488.7,1180.4 1489.0,1184.3 1489.3,1169.9 1489.6,1172.8 1490.0,1178.0 1490.3,1178.8 1490.6,1188.8 1490.9,1174.3 1491.2,1168.9 1491.5,1183.8 1491.8,1176.0 1492.1,1170.5 1492.4,1169.6 1492.7,1171.0 1493.0,1175.1 1493.3,1175.7 1493.6,1170.0 1493.9,1171.9 1494.2,1165.8 1494.6,1180.1 1494.9,1181.2 1495.2,1171.1 1495.5,1164.4 1495.8,1175.4 1496.1,1166.3 1496.4,1176.4 1496.7,1173.4 1497.0,1169.3 1497.3,1170.0 1497.6,1175.3 1497.9,1169.5 1498.2,1164.1 1498.5,1175.7 1498.8,1182.0 1499.2,1175.0 1499.5,1173.5 1499.8,1177.3 1500.1,1181.7 1500.4,1166.2 1500.7,1169.0 1501.0,1169.9 1501.3,1174.9 1501.6,1170.5 1501.9,1172.3 1502.2,1170.1 1502.5,1167.7 1502.8,1173.1 1503.1,1172.7 1503.4,1181.5 1503.8,1177.7 1504.1,1175.6 1504.4,1163.5 1504.7,1174.9 1505.0,1163.9 1505.3,1163.8 1505.6,1158.5 1505.9,1170.1 1506.2,1174.6 1506.5,1176.4 1506.8,1176.9 1507.1,1184.6 1507.4,1177.2 1507.7,1176.3 1508.0,1174.0 1508.4,1169.1 1508.7,1182.7 1509.0,1176.4 1509.3,1173.3 1509.6,1171.9 1509.9,1159.9 1510.2,1177.0 1510.5,1174.5 1510.8,1163.3 1511.1,1184.5 1511.4,1175.5 1511.7,1166.7 1512.0,1173.1 1512.3,1171.1 1512.6,1164.2 1513.0,1179.9 1513.3,1169.3 1513.6,1178.3 1513.9,1174.0 1514.2,1162.9 1514.5,1169.2 1514.8,1170.5 1515.1,1181.7 1515.4,1185.0 1515.7,1173.8 1516.0,1179.5 1516.3,1182.9 1516.6,1181.9 1516.9,1174.4 1517.2,1169.5 1517.6,1172.7 1517.9,1174.8 1518.2,1171.9 1518.5,1185.3 1518.8,1166.8 1519.1,1177.5 1519.4,1173.8 1519.7,1165.1 1520.0,1181.1 1520.3,1169.4 1520.6,1179.4 1520.9,1170.9 1521.2,1186.7 1521.5,1184.5 1521.8,1167.3 1522.2,1168.6 1522.5,1180.1 1522.8,1178.0 1523.1,1174.4 1523.4,1176.9 1523.7,1176.6 1524.0,1174.6 1524.3,1169.1 1524.6,1181.0 1524.9,1174.7 1525.2,1168.8 1525.5,1174.8 1525.8,1182.9 1526.1,1174.5 1526.4,1164.3 1526.8,1173.9 1527.1,1169.6 1527.4,1176.5 1527.7,1172.6 1528.0,1175.4 1528.3,1175.7 1528.6,1171.9 1528.9,1167.1 1529.2,1187.4 1529.5,1174.9 1529.8,1184.2 1530.1,1159.3 1530.4,1181.7 1530.7,1163.7 1531.0,1184.5 1531.4,1178.5 1531.7,1181.3 1532.0,1181.1 1532.3,1177.2 1532.6,1172.6 1532.9,1171.1 1533.2,1166.5 1533.5,1172.0 1533.8,1178.9 1534.1,1174.6 1534.4,1176.6 1534.7,1175.4 1535.0,1173.2 1535.3,1181.3 1535.6,1167.5 1536.0,1166.0 1536.3,1185.0 1536.6,1180.1 1536.9,1170.4 1537.2,1187.6 1537.5,1171.9 1537.8,1182.5 1538.1,1174.7 1538.4,1176.7 1538.7,1180.0 1539.0,1179.4 1539.3,1181.6 1539.6,1170.9 1539.9,1169.5 1540.2,1174.6 1540.6,1177.0 1540.9,1184.2 1541.2,1176.5 1541.5,1171.7 1541.8,1185.0 1542.1,1173.8 1542.4,1174.4 1542.7,1172.8 1543.0,1162.1 1543.3,1165.6 1543.6,1181.6 1543.9,1177.9 1544.2,1180.9 1544.5,1181.1 1544.8,1170.2 1545.2,1167.0 1545.5,1173.9 1545.8,1173.4 1546.1,1176.5 1546.4,1178.6 1546.7,1177.0 1547.0,1174.8 1547.3,1176.8 1547.6,1174.8 1547.9,1171.6 1548.2,1179.7 1548.5,1173.0 1548.8,1177.3 1549.1,1168.0 1549.4,1176.3 1549.8,1167.3 1550.1,1189.2 1550.4,1172.6 1550.7,1170.1 1551.0,1163.8 1551.3,1168.6 1551.6,1185.5 1551.9,1187.4 1552.2,1175.7 1552.5,1177.0 1552.8,1172.3 1553.1,1179.2 1553.4,1168.1 1553.7,1175.0 1554.0,1173.7 1554.4,1168.9 1554.7,1171.5 1555.0,1182.4 1555.3,1176.8 1555.6,1182.6 1555.9,1177.0 1556.2,1174.5 1556.5,1181.4 1556.8,1161.7 1557.1,1177.8 1557.4,1174.3 1557.7,1170.4 1558.0,1183.2 1558.3,1179.6 1558.7,1172.8 1559.0,1173.4 1559.3,1173.4 1559.6,1177.5 1559.9,1172.5 1560.2,1175.5 1560.5,1182.9 1560.8,1177.8 1561.1,1180.6 1561.4,1171.5 1561.7,1172.7 1562.0,1171.3 1562.3,1175.2 1562.6,1176.3 1562.9,1165.4 1563.3,1193.9 1563.6,1190.2 1563.9,1165.1 1564.2,1182.6 1564.5,1173.3 1564.8,1171.2 1565.1,1171.3 1565.4,1167.3 1565.7,1172.6 1566.0,1171.2 1566.3,1167.6 1566.6,1172.0 1566.9,1175.1 1567.2,1166.0 1567.5,1177.5 1567.9,1173.5 1568.2,1173.2 1568.5,1172.2 1568.8,1164.8 1569.1,1180.0 1569.4,1179.4 1569.7,1170.7 1570.0,1168.5 1570.3,1169.4 1570.6,1175.2 1570.9,1178.0 1571.2,1175.4 1571.5,1177.9 1571.8,1174.2 1572.1,1177.0 1572.5,1186.1 1572.8,1176.4 1573.1,1166.7 1573.4,1174.3 1573.7,1182.7 1574.0,1166.9 1574.3,1177.0 1574.6,1183.7 1574.9,1178.2 1575.2,1182.3 1575.5,1187.2 1575.8,1178.4 1576.1,1171.1 1576.4,1167.2 1576.7,1185.9 1577.1,1174.5 1577.4,1177.5 1577.7,1184.1 1578.0,1169.9 1578.3,1175.7 1578.6,1171.1 1578.9,1179.4 1579.2,1185.2 1579.5,1168.6 1579.8,1168.1 1580.1,1185.8 1580.4,1176.9 1580.7,1179.0 1581.0,1185.8 1581.3,1177.7 1581.7,1173.7 1582.0,1178.8 1582.3,1172.0 1582.6,1178.4 1582.9,1172.7 1583.2,1177.7 1583.5,1169.2 1583.8,1170.3 1584.1,1173.0 1584.4,1178.0 1584.7,1185.3 1585.0,1177.3 1585.3,1170.8 1585.6,1166.1 1585.9,1171.3 1586.3,1166.1 1586.6,1180.5 1586.9,1167.3 1587.2,1172.7 1587.5,1179.8 1587.8,1171.6 1588.1,1177.3 1588.4,1188.9 1588.7,1169.7 1589.0,1177.9 1589.3,1178.0 1589.6,1173.4 1589.9,1169.6 1590.2,1178.9 1590.5,1171.6 1590.9,1174.8 1591.2,1187.2 1591.5,1167.4 1591.8,1166.8 1592.1,1184.6 1592.4,1169.6 1592.7,1160.3 1593.0,1180.6 1593.3,1169.9 1593.6,1171.2 1593.9,1175.6 1594.2,1173.8 1594.5,1167.3 1594.8,1170.9 1595.1,1180.9 1595.5,1177.1 1595.8,1160.7 1596.1,1173.2 1596.4,1162.7 1596.7,1165.7 1597.0,1169.6 1597.3,1183.1 1597.6,1177.1 1597.9,1165.7 1598.2,1180.2 1598.5,1173.0 1598.8,1181.4 1599.1,1173.2 1599.4,1165.7 1599.7,1175.0 1600.1,1184.6 1600.4,1171.7 1600.7,1176.2 1601.0,1171.7 1601.3,1164.9 1601.6,1175.1 1601.9,1174.3 1602.2,1168.1 1602.5,1173.2 1602.8,1168.5 1603.1,1178.8 1603.4,1173.4 1603.7,1164.1 1604.0,1181.4 1604.3,1160.9 1604.7,1166.0 1605.0,1173.3 1605.3,1170.0 1605.6,1176.1 1605.9,1168.5 1606.2,1177.9 1606.5,1179.1 1606.8,1174.8 1607.1,1175.6 1607.4,1164.7 1607.7,1186.8 1608.0,1170.6 1608.3,1167.9 1608.6,1163.0 1608.9,1171.9 1609.3,1170.9 1609.6,1163.5 1609.9,1164.8 1610.2,1173.3 1610.5,1163.6 1610.8,1158.4 1611.1,1168.1 1611.4,1173.9 1611.7,1177.4 1612.0,1172.9 1612.3,1160.5 1612.6,1167.7 1612.9,1165.4 1613.2,1172.5 1613.5,1160.3 1613.9,1169.0 1614.2,1177.3 1614.5,1172.8 1614.8,1169.8 1615.1,1173.8 1615.4,1170.7 1615.7,1174.4 1616.0,1172.6 1616.3,1170.3 1616.6,1169.3 1616.9,1165.0 1617.2,1173.8 1617.5,1170.8 1617.8,1166.4 1618.1,1174.9 1618.5,1172.8 1618.8,1160.1 1619.1,1165.3 1619.4,1161.3 1619.7,1167.4 1620.0,1159.0 1620.3,1164.0 1620.6,1170.9 1620.9,1166.6 1621.2,1167.7 1621.5,1175.6 1621.8,1177.6 1622.1,1171.9 1622.4,1171.0 1622.7,1165.2 1623.1,1166.9 1623.4,1174.7 1623.7,1153.2 1624.0,1162.1 1624.3,1164.7 1624.6,1172.4 1624.9,1161.3 1625.2,1174.1 1625.5,1176.0 1625.8,1166.3 1626.1,1159.2 1626.4,1156.9 1626.7,1166.8 1627.0,1175.9 1627.4,1159.2 1627.7,1173.6 1628.0,1171.5 1628.3,1155.3 1628.6,1158.0 1628.9,1168.1 1629.2,1169.5 1629.5,1174.8 1629.8,1159.4 1630.1,1162.9 1630.4,1166.5 1630.7,1174.5 1631.0,1168.5 1631.3,1169.0 1631.6,1156.5 1632.0,1164.9 1632.3,1159.2 1632.6,1153.9 1632.9,1163.1 1633.2,1182.7 1633.5,1170.9 1633.8,1159.6 1634.1,1166.1 1634.4,1173.6 1634.7,1165.0 1635.0,1175.1 1635.3,1169.5 1635.6,1143.8 1635.9,1163.8 1636.2,1160.6 1636.6,1154.3 1636.9,1155.2 1637.2,1160.9 1637.5,1161.0 1637.8,1160.9 1638.1,1169.8 1638.4,1160.5 1638.7,1160.5 1639.0,1160.4 1639.3,1156.6 1639.6,1159.5 1639.9,1178.0 1640.2,1143.4 1640.5,1158.0 1640.8,1162.8 1641.2,1156.7 1641.5,1164.9 1641.8,1159.1 1642.1,1163.0 1642.4,1165.2 1642.7,1153.5 1643.0,1160.2 1643.3,1157.0 1643.6,1160.7 1643.9,1157.3 1644.2,1160.9 1644.5,1154.4 1644.8,1155.8 1645.1,1160.0 1645.4,1157.9 1645.8,1158.7 1646.1,1151.5 1646.4,1152.6 1646.7,1163.1 1647.0,1154.0 1647.3,1160.2 1647.6,1151.9 1647.9,1157.5 1648.2,1161.4 1648.5,1152.1 1648.8,1151.1 1649.1,1156.7 1649.4,1154.9 1649.7,1149.8 1650.0,1155.2 1650.4,1160.0 1650.7,1162.2 1651.0,1160.8 1651.3,1164.0 1651.6,1160.4 1651.9,1168.4 1652.2,1163.4 1652.5,1169.2 1652.8,1167.0 1653.1,1164.5 1653.4,1170.5 1653.7,1157.2 1654.0,1154.7 1654.3,1165.1 1654.6,1155.6 1655.0,1163.8 1655.3,1152.5 1655.6,1164.1 1655.9,1157.2 1656.2,1178.0 1656.5,1165.9 1656.8,1165.2 1657.1,1175.0 1657.4,1167.5 1657.7,1172.9 1658.0,1158.0 1658.3,1169.4 1658.6,1169.4 1658.9,1158.0 1659.2,1154.1 1659.6,1172.4 1659.9,1161.8 1660.2,1167.6 1660.5,1177.3 1660.8,1163.3 1661.1,1167.8 1661.4,1167.4 1661.7,1162.9 1662.0,1173.6 1662.3,1161.4 1662.6,1172.1 1662.9,1172.9 1663.2,1165.5 1663.5,1177.3 1663.8,1176.0 1664.2,1172.3 1664.5,1167.3 1664.8,1175.2 1665.1,1171.2 1665.4,1165.3 1665.7,1172.9 1666.0,1167.2 1666.3,1170.9 1666.6,1171.0 1666.9,1174.4 1667.2,1174.1 1667.5,1171.7 1667.8,1174.7 1668.1,1181.0 1668.4,1162.6 1668.8,1162.6 1669.1,1162.8 1669.4,1169.7 1669.7,1174.8 1670.0,1168.3 1670.3,1175.3 1670.6,1178.2 1670.9,1168.2 1671.2,1169.7 1671.5,1176.8 1671.8,1175.4 1672.1,1174.7 1672.4,1182.8 1672.7,1165.2 1673.0,1178.8 1673.4,1169.2 1673.7,1168.6 1674.0,1171.2 1674.3,1172.7 1674.6,1177.5 1674.9,1177.3 1675.2,1171.0 1675.5,1183.3 1675.8,1166.1 1676.1,1184.6 1676.4,1178.5 1676.7,1177.6 1677.0,1181.3 1677.3,1182.2 1677.6,1179.8 1678.0,1167.0 1678.3,1169.9 1678.6,1176.7 1678.9,1175.9 1679.2,1176.1 1679.5,1167.6 1679.8,1174.9 1680.1,1184.8 1680.4,1177.1 1680.7,1183.4 1681.0,1171.2 1681.3,1183.8 1681.6,1185.9 1681.9,1175.2 1682.2,1183.3 1682.6,1176.9 1682.9,1180.1 1683.2,1178.3 1683.5,1175.2 1683.8,1174.8 1684.1,1177.3 1684.4,1174.2 1684.7,1171.1 1685.0,1169.9 1685.3,1178.3 1685.6,1181.6 1685.9,1181.0 1686.2,1186.2 1686.5,1168.9 1686.8,1177.5 1687.2,1181.6 1687.5,1173.5 1687.8,1185.8 1688.1,1174.1 1688.4,1190.3 1688.7,1174.2 1689.0,1170.4 1689.3,1177.3 1689.6,1184.6 1689.9,1172.6 1690.2,1180.0 1690.5,1172.4 1690.8,1168.2 1691.1,1176.7 1691.4,1183.5 1691.8,1178.8 1692.1,1176.7 1692.4,1167.7 1692.7,1178.5 1693.0,1182.1 1693.3,1190.0 1693.6,1179.2 1693.9,1181.0 1694.2,1174.4 1694.5,1173.6 1694.8,1186.1 1695.1,1183.4 1695.4,1178.5 1695.7,1178.1 1696.1,1178.9 1696.4,1174.0 1696.7,1177.0 1697.0,1184.7 1697.3,1167.6 1697.6,1185.7 1697.9,1186.0 1698.2,1180.7 1698.5,1187.9 1698.8,1169.8 1699.1,1173.0 1699.4,1173.7 1699.7,1175.9 1700.0,1174.1 1700.3,1170.3 1700.7,1175.3 1701.0,1173.8 1701.3,1171.0 1701.6,1181.9 1701.9,1187.8 1702.2,1180.9 1702.5,1180.4 1702.8,1181.0 1703.1,1189.0 1703.4,1182.4 1703.7,1182.4 1704.0,1179.6 1704.3,1173.4 1704.6,1187.0 1704.9,1187.0 1705.3,1181.5 1705.6,1180.5 1705.9,1187.3 1706.2,1185.3 1706.5,1178.0 1706.8,1178.2 1707.1,1184.9 1707.4,1185.7 1707.7,1175.6 1708.0,1192.5 1708.3,1173.2 1708.6,1175.6 1708.9,1178.6 1709.2,1184.2 1709.5,1179.0 1709.9,1176.1 1710.2,1185.1 1710.5,1179.4 1710.8,1181.5 1711.1,1182.5 1711.4,1174.9 1711.7,1174.9 1712.0,1179.9 1712.3,1177.8 1712.6,1178.0 1712.9,1182.0 1713.2,1177.8 1713.5,1174.3 1713.8,1187.2 1714.1,1176.9 1714.5,1180.8 1714.8,1172.7 1715.1,1183.2 1715.4,1174.4 1715.7,1180.4 1716.0,1185.9 1716.3,1179.5 1716.6,1178.5 1716.9,1188.5 1717.2,1183.8 1717.5,1186.3 1717.8,1174.0 1718.1,1179.4 1718.4,1179.6 1718.7,1190.4 1719.1,1185.5 1719.4,1176.4 1719.7,1183.3 1720.0,1179.5 1720.3,1181.2 1720.6,1175.8 1720.9,1184.3 1721.2,1183.1 1721.5,1179.0 1721.8,1179.7 1722.1,1189.9 1722.4,1179.1 1722.7,1189.2 1723.0,1175.8 1723.3,1171.6 1723.7,1176.2 1724.0,1174.1 1724.3,1182.3 1724.6,1180.5 1724.9,1173.9 1725.2,1178.0 1725.5,1174.4 1725.8,1179.2 1726.1,1191.1 1726.4,1187.0 1726.7,1172.0 1727.0,1182.5 1727.3,1179.1 1727.6,1171.9 1727.9,1183.9 1728.3,1168.9 1728.6,1176.2 1728.9,1176.3 1729.2,1180.6 1729.5,1172.5 1729.8,1180.9 1730.1,1172.6 1730.4,1187.3 1730.7,1188.0 1731.0,1182.0 1731.3,1161.0 1731.6,1192.5 1731.9,1169.8 1732.2,1180.3 1732.5,1190.7 1732.9,1178.4 1733.2,1175.9 1733.5,1182.1 1733.8,1172.5 1734.1,1177.2 1734.4,1178.1 1734.7,1183.2 1735.0,1176.5 1735.3,1178.3 1735.6,1172.2 1735.9,1179.8 1736.2,1184.9 1736.5,1174.4 1736.8,1185.6 1737.1,1189.6 1737.5,1184.4 1737.8,1183.1 1738.1,1190.6 1738.4,1185.9 1738.7,1179.5 1739.0,1183.1 1739.3,1182.6 1739.6,1185.1 1739.9,1173.5 1740.2,1171.4 1740.5,1175.7 1740.8,1175.2 1741.1,1184.6 1741.4,1191.1 1741.7,1176.5 1742.1,1179.7 1742.4,1179.7 1742.7,1182.9 1743.0,1184.5 1743.3,1183.3 1743.6,1173.6 1743.9,1177.4 1744.2,1177.1 1744.5,1182.1 1744.8,1183.0 1745.1,1185.0 1745.4,1178.1 1745.7,1178.7 1746.0,1174.7 1746.3,1186.2 1746.7,1183.7 1747.0,1181.3 1747.3,1188.4 1747.6,1180.4 1747.9,1181.1 1748.2,1181.7 1748.5,1184.1 1748.8,1187.1 1749.1,1181.1 1749.4,1179.3 1749.7,1185.8 1750.0,1182.6 1750.3,1173.7 1750.6,1174.6 1750.9,1185.1 1751.3,1188.3 1751.6,1184.0 1751.9,1180.3 1752.2,1180.2 1752.5,1178.3 1752.8,1174.8 1753.1,1176.5 1753.4,1180.7 1753.7,1175.8 1754.0,1187.2 1754.3,1181.5 1754.6,1180.5 1754.9,1171.8 1755.2,1180.9 1755.5,1178.1 1755.9,1185.1 1756.2,1173.0 1756.5,1170.7 1756.8,1179.7 1757.1,1179.6 1757.4,1179.2 1757.7,1185.8 1758.0,1177.3 1758.3,1180.0 1758.6,1185.5 1758.9,1193.7 1759.2,1188.7 1759.5,1179.8 1759.8,1181.9 1760.1,1187.8 1760.5,1189.5 1760.8,1184.0 1761.1,1183.5 1761.4,1173.6 1761.7,1177.3 1762.0,1186.4 1762.3,1182.3 1762.6,1179.8 1762.9,1178.3 1763.2,1183.1 1763.5,1178.4 1763.8,1183.4 1764.1,1169.5 1764.4,1188.6 1764.8,1179.8 1765.1,1183.1 1765.4,1184.3 1765.7,1192.9 1766.0,1177.8 1766.3,1179.7 1766.6,1178.3 1766.9,1184.7 1767.2,1176.5 1767.5,1184.3 1767.8,1187.9 1768.1,1188.4 1768.4,1180.8 1768.7,1188.4 1769.0,1179.2 1769.4,1178.4 1769.7,1192.8 1770.0,1193.8 1770.3,1177.3 1770.6,1172.7 1770.9,1178.5 1771.2,1183.9 1771.5,1183.2 1771.8,1187.9 1772.1,1179.0 1772.4,1190.6 1772.7,1193.6 1773.0,1178.5 1773.3,1194.4 1773.6,1181.5 1774.0,1179.7 1774.3,1185.4 1774.6,1184.1 1774.9,1182.5 1775.2,1188.9 1775.5,1178.7 1775.8,1185.4 1776.1,1178.2 1776.4,1185.5 1776.7,1182.9 1777.0,1182.4 1777.3,1185.8 1777.6,1183.4 1777.9,1186.6 1778.2,1171.8 1778.6,1175.7 1778.9,1185.5 1779.2,1185.4 1779.5,1190.2 1779.8,1190.5 1780.1,1177.5 1780.4,1180.9 1780.7,1173.1 1781.0,1185.3 1781.3,1178.2 1781.6,1187.1 1781.9,1186.7 1782.2,1177.0 1782.5,1190.4 1782.8,1181.7 1783.2,1186.6 1783.5,1187.3 1783.8,1188.8 1784.1,1179.6 1784.4,1184.2 1784.7,1178.4 1785.0,1184.6 1785.3,1189.9 1785.6,1188.2 1785.9,1185.9 1786.2,1186.6 1786.5,1177.5 1786.8,1171.1 1787.1,1189.4 1787.4,1172.5 1787.8,1188.2 1788.1,1183.3 1788.4,1181.4 1788.7,1180.9 1789.0,1182.9 1789.3,1188.8 1789.6,1179.0 1789.9,1179.0 1790.2,1182.2 1790.5,1192.2 1790.8,1189.2 1791.1,1183.2 1791.4,1174.8 1791.7,1188.5 1792.0,1194.9 1792.4,1187.0 1792.7,1172.2 1793.0,1185.6 1793.3,1190.8 1793.6,1182.0 1793.9,1184.7 1794.2,1184.9 1794.5,1183.4 1794.8,1187.1 1795.1,1193.0 1795.4,1189.4 1795.7,1192.8 1796.0,1185.6 1796.3,1186.6 1796.6,1177.3 1797.0,1190.6 1797.3,1184.5 1797.6,1186.5 1797.9,1189.6 1798.2,1185.3 1798.5,1195.1 1798.8,1189.9 1799.1,1186.3 1799.4,1180.7 1799.7,1178.6 1800.0,1192.9 1800.3,1194.7 1800.6,1186.3 1800.9,1192.2 1801.2,1170.8 1801.6,1182.7 1801.9,1188.8 1802.2,1192.0 1802.5,1186.4 1802.8,1185.2 1803.1,1185.6 1803.4,1187.8 1803.7,1181.9 1804.0,1183.8 1804.3,1182.9 1804.6,1189.2 1804.9,1185.9 1805.2,1180.0 1805.5,1177.6 1805.8,1187.7 1806.2,1178.6 1806.5,1188.4 1806.8,1198.0 1807.1,1176.5 1807.4,1187.2 1807.7,1188.1 1808.0,1185.6 1808.3,1187.9 1808.6,1192.7 1808.9,1183.9 1809.2,1186.3 1809.5,1192.2 1809.8,1186.7 1810.1,1178.4 1810.4,1187.9 1810.8,1189.6 1811.1,1181.9 1811.4,1182.8 1811.7,1184.6 1812.0,1183.5 1812.3,1183.3 1812.6,1184.2 1812.9,1186.7 1813.2,1187.8 1813.5,1187.7 1813.8,1188.5 1814.1,1193.5 1814.4,1187.1 1814.7,1180.7 1815.0,1185.5 1815.4,1176.5 1815.7,1190.7 1816.0,1196.4 1816.3,1181.9 1816.6,1192.7 1816.9,1190.0 1817.2,1184.9 1817.5,1185.5 1817.8,1183.3 1818.1,1186.7 1818.4,1183.7 1818.7,1195.9 1819.0,1181.5 1819.3,1191.7 1819.6,1193.0 1820.0,1179.0 1820.3,1184.0 1820.6,1195.6 1820.9,1188.7 1821.2,1190.6 1821.5,1190.2 1821.8,1183.5 1822.1,1186.1 1822.4,1173.8 1822.7,1190.9 1823.0,1190.1 1823.3,1190.2 1823.6,1189.5 1823.9,1190.4 1824.2,1179.4 1824.6,1177.5 1824.9,1183.2 1825.2,1180.7 1825.5,1192.2 1825.8,1183.1 1826.1,1188.0 1826.4,1180.2 1826.7,1192.7 1827.0,1192.5 1827.3,1174.1 1827.6,1188.5 1827.9,1184.3 1828.2,1186.2 1828.5,1185.8 1828.8,1182.7 1829.2,1192.8 1829.5,1184.2 1829.8,1177.9 1830.1,1185.8 1830.4,1186.9 1830.7,1176.4 1831.0,1185.0 1831.3,1185.7 1831.6,1187.0 1831.9,1188.7 1832.2,1183.0 1832.5,1190.0 1832.8,1187.6 1833.1,1180.2 1833.5,1184.7 1833.8,1188.4 1834.1,1184.2 1834.4,1187.4 1834.7,1178.9 1835.0,1180.1 1835.3,1192.1 1835.6,1187.9 1835.9,1184.8 1836.2,1187.0 1836.5,1190.3 1836.8,1189.2 1837.1,1187.5 1837.4,1183.3 1837.7,1176.0 1838.1,1185.5 1838.4,1184.8 1838.7,1194.3 1839.0,1188.1 1839.3,1192.7 1839.6,1183.2 1839.9,1188.5 1840.2,1187.7 1840.5,1182.1 1840.8,1183.4 1841.1,1182.4 1841.4,1192.6 1841.7,1189.4 1842.0,1179.8 1842.3,1178.9 1842.7,1188.5 1843.0,1183.9 1843.3,1186.5 1843.6,1193.0 1843.9,1191.9 1844.2,1190.6 1844.5,1183.8 1844.8,1187.2 1845.1,1190.7 1845.4,1186.5 1845.7,1182.2 1846.0,1180.5 1846.3,1188.4 1846.6,1182.1 1846.9,1185.1 1847.3,1182.8 1847.6,1191.1 1847.9,1192.5 1848.2,1197.2 1848.5,1179.8 1848.8,1189.5 1849.1,1190.3 1849.4,1179.1 1849.7,1193.7 1850.0,1197.5 1850.3,1193.5 1850.6,1185.2 1850.9,1179.7 1851.2,1187.2 1851.5,1193.7 1851.9,1189.7 1852.2,1186.6 1852.5,1195.4 1852.8,1191.3 1853.1,1192.9 1853.4,1182.7 1853.7,1192.4 1854.0,1185.5 1854.3,1189.0 1854.6,1185.8 1854.9,1188.8 1855.2,1185.8 1855.5,1188.6 1855.8,1174.5 1856.1,1180.2 1856.5,1197.5 1856.8,1184.1 1857.1,1184.4 1857.4,1186.8 1857.7,1176.1 1858.0,1189.4 1858.3,1183.8 1858.6,1189.3 1858.9,1199.8 1859.2,1185.3 1859.5,1182.6 1859.8,1195.0 1860.1,1184.9 1860.4,1193.7 1860.7,1191.3 1861.1,1191.4 1861.4,1188.0 1861.7,1181.8 1862.0,1178.9 1862.3,1186.7 1862.6,1180.0 1862.9,1185.3 1863.2,1181.9 1863.5,1185.1 1863.8,1186.6 1864.1,1190.3 1864.4,1185.5 1864.7,1189.3 1865.0,1192.5 1865.3,1185.8 1865.7,1193.3 1866.0,1192.2 1866.3,1179.2 1866.6,1187.4 1866.9,1196.7 1867.2,1193.7 1867.5,1184.0 1867.8,1198.9 1868.1,1184.9 1868.4,1182.9 1868.7,1194.6 1869.0,1183.3 1869.3,1186.2 1869.6,1186.8 1869.9,1193.4 1870.3,1189.6 1870.6,1192.1 1870.9,1188.2 1871.2,1179.1 1871.5,1190.6 1871.8,1185.8 1872.1,1189.4 1872.4,1186.7 1872.7,1193.4 1873.0,1187.8 1873.3,1179.8 1873.6,1184.2 1873.9,1185.1 1874.2,1184.1 1874.5,1202.1 1874.9,1183.7 1875.2,1185.9 1875.5,1184.5 1875.8,1180.4 1876.1,1191.0 1876.4,1186.8 1876.7,1196.0 1877.0,1197.0 1877.3,1185.8 1877.6,1177.6 1877.9,1186.3 1878.2,1193.1 1878.5,1187.1 1878.8,1186.9 1879.1,1190.3 1879.5,1189.1 1879.8,1185.1 1880.1,1192.8 1880.4,1184.2 1880.7,1196.2 1881.0,1199.3 1881.3,1196.7 1881.6,1184.7 1881.9,1184.0 1882.2,1193.4 1882.5,1190.6 1882.8,1184.2 1883.1,1189.3 1883.4,1187.7 1883.7,1189.3 1884.1,1191.6 1884.4,1187.3 1884.7,1185.4 1885.0,1178.3 1885.3,1197.2 1885.6,1184.6 1885.9,1199.4 1886.2,1189.7 1886.5,1191.9 1886.8,1188.1 1887.1,1190.2 1887.4,1194.1 1887.7,1178.1 1888.0,1198.5 1888.3,1195.0 1888.7,1182.4 1889.0,1196.0 1889.3,1185.4 1889.6,1189.3 1889.9,1190.6 1890.2,1185.2 1890.5,1187.3 1890.8,1187.0 1891.1,1186.1 1891.4,1180.6 1891.7,1198.8 1892.0,1194.7 1892.3,1187.0 1892.6,1186.2 1892.9,1197.3 1893.3,1194.9 1893.6,1188.1 1893.9,1188.8 1894.2,1193.0 1894.5,1193.2 1894.8,1190.9 1895.1,1192.2 1895.4,1189.0 1895.7,1184.2 1896.0,1192.8 1896.3,1194.3 1896.6,1191.1 1896.9,1187.9 1897.2,1187.5 1897.5,1187.8 1897.9,1194.8 1898.2,1189.6 1898.5,1198.0 1898.8,1189.9 1899.1,1184.9 1899.4,1193.8 1899.7,1190.4 1900.0,1183.7 1900.3,1193.5 1900.6,1193.8 1900.9,1197.7 1901.2,1193.4 1901.5,1187.8 1901.8,1193.2 1902.2,1187.5 1902.5,1196.0 1902.8,1198.8 1903.1,1190.9 1903.4,1181.0 1903.7,1190.7 1904.0,1192.3 1904.3,1192.4 1904.6,1186.4 1904.9,1197.3 1905.2,1197.3 1905.5,1179.8 1905.8,1191.4 1906.1,1195.4 1906.4,1196.4 1906.8,1193.0 1907.1,1196.3 1907.4,1186.9 1907.7,1186.7 1908.0,1188.3 1908.3,1194.2 1908.6,1197.6 1908.9,1190.8 1909.2,1190.3 1909.5,1192.0 1909.8,1187.3 1910.1,1192.7 1910.4,1192.5 1910.7,1194.9 1911.0,1188.6 1911.4,1195.5 1911.7,1190.5 1912.0,1188.9 1912.3,1186.2 1912.6,1195.0 1912.9,1190.5 1913.2,1191.0 1913.5,1191.4 1913.8,1182.6 1914.1,1191.1 1914.4,1190.5 1914.7,1197.0 1915.0,1194.9 1915.3,1194.2 1915.6,1202.7 1916.0,1189.4 1916.3,1187.5 1916.6,1190.8 1916.9,1188.1 1917.2,1187.1 1917.5,1203.0 1917.8,1200.5 1918.1,1190.7 1918.4,1189.6 1918.7,1184.1 1919.0,1191.8 1919.3,1188.1 1919.6,1184.9 1919.9,1190.4 1920.2,1190.2 1920.6,1188.2 1920.9,1183.2 1921.2,1192.8 1921.5,1186.5 1921.8,1185.6 1922.1,1194.6 1922.4,1182.9 1922.7,1186.5 1923.0,1193.3 1923.3,1193.6 1923.6,1191.2 1923.9,1182.1 1924.2,1187.0 1924.5,1192.3 1924.8,1185.5 1925.2,1183.8 1925.5,1186.8 1925.8,1184.8 1926.1,1190.7 1926.4,1186.1 1926.7,1189.2 1927.0,1187.3 1927.3,1196.2 1927.6,1195.0 1927.9,1188.5 1928.2,1182.1 1928.5,1192.7 1928.8,1200.2 1929.1,1188.6 1929.4,1188.3 1929.8,1184.8 1930.1,1195.9 1930.4,1194.7 1930.7,1191.7 1931.0,1199.9 1931.3,1182.4 1931.6,1177.2 1931.9,1195.5 1932.2,1192.1 1932.5,1192.2 1932.8,1192.1 1933.1,1188.1 1933.4,1180.9 1933.7,1186.9 1934.0,1192.5 1934.4,1196.6 1934.7,1189.0 1935.0,1197.4 1935.3,1191.1 1935.6,1184.2 1935.9,1185.3 1936.2,1176.5 1936.5,1192.1"/>
<polyline class="curve" stroke="#000000" points="219.0,892.0 219.3,894.3 219.6,893.6 219.9,900.8 220.2,921.8 220.5,891.6 220.8,917.4 221.1,920.9 221.5,905.1 221.8,901.9 222.1,914.0 222.4,921.8 222.7,931.5 223.0,919.2 223.3,926.5 223.6,906.5 223.9,902.6 224.2,894.4 224.5,900.4 224.8,908.7 225.1,914.6 225.4,899.9 225.7,921.5 226.1,912.7 226.4,907.6 226.7,906.8 227.0,935.0 227.3,916.8 227.6,906.5 227.9,906.3 228.2,934.6 228.5,910.8 228.8,928.8 229.1,931.6 229.4,894.5 229.7,931.6 230.0,916.4 230.3,908.0 230.7,913.7 231.0,925.1 231.3,923.6 231.6,924.5 231.9,913.4 232.2,933.7 232.5,936.3 232.8,940.0 233.1,932.0 233.4,941.3 233.7,943.6 234.0,930.0 234.3,932.1 234.6,929.4 234.9,929.5 235.3,932.9 235.6,907.5 235.9,921.6 236.2,930.0 236.5,904.4 236.8,911.4 237.1,941.9 237.4,915.8 237.7,922.0 238.0,930.7 238.3,922.5 238.6,919.0 238.9,922.7 239.2,923.8 239.5,922.6 239.9,930.5 240.2,945.0 240.5,932.8 240.8,945.7 241.1,937.2 241.4,938.4 241.7,936.2 242.0,927.6 242.3,935.1 242.6,934.2 242.9,920.3 243.2,939.1 243.5,937.7 243.8,935.9 244.1,926.9 244.5,906.4 244.8,947.6 245.1,932.5 245.4,911.7 245.7,940.1 246.0,926.9 246.3,941.0 246.6,933.3 246.9,945.9 247.2,937.1 247.5,937.8 247.8,936.7 248.1,947.7 248.4,922.7 248.7,947.6 249.1,943.0 249.4,930.8 249.7,936.5 250.0,932.3 250.3,937.5 250.6,946.5 250.9,930.6 251.2,945.0 251.5,947.1 251.8,944.3 252.1,953.7 252.4,937.6 252.7,945.4 253.0,963.4 253.3,939.2 253.7,937.7 254.0,939.3 254.3,945.3 254.6,933.5 254.9,937.4 255.2,922.5 255.5,929.7 255.8,930.2 256.1,929.0 256.4,936.3 256.7,947.8 257.0,937.2 257.3,928.0 257.6,943.8 258.0,943.2 258.3,927.7 258.6,943.3 258.9,931.3 259.2,935.8 259.5,934.9 259.8,950.6 260.1,934.3 260.4,939.5 260.7,944.6 261.0,953.2 261.3,954.9 261.6,933.1 261.9,955.2 262.2,946.5 262.6,955.6 262.9,954.3 263.2,938.7 263.5,944.5 263.8,941.4 264.1,948.2 264.4,961.1 264.7,945.3 265.0,938.3 265.3,970.3 265.6,935.3 265.9,945.3 266.2,945.3 266.5,932.9 266.8,953.6 267.2,956.4 267.5,945.1 267.8,946.6 268.1,944.5 268.4,928.7 268.7,948.8 269.0,934.1 269.3,937.0 269.6,950.6 269.9,955.9 270.2,938.1 270.5,958.2 270.8,964.4 271.1,948.6 271.4,946.2 271.8,949.0 272.1,943.0 272.4,938.5 272.7,953.4 273.0,954.2 273.3,942.1 273.6,943.0 273.9,940.8 274.2,940.1 274.5,937.4 274.8,932.1 275.1,956.0 275.4,943.5 275.7,947.7 276.0,964.8 276.4,942.2 276.7,952.7 277.0,933.6 277.3,940.8 277.6,953.9 277.9,944.4 278.2,932.8 278.5,931.8 278.8,950.3 279.1,937.7 279.4,953.7 279.7,949.6 280.0,943.8 280.3,946.3 280.6,954.3 281.0,947.2 281.3,937.6 281.6,950.2 281.9,943.4 282.2,944.6 282.5,952.5 282.8,950.1 283.1,956.9 283.4,945.1 283.7,942.4 284.0,943.6 284.3,950.6 284.6,939.0 284.9,943.4 285.2,938.7 285.6,939.3 285.9,945.2 286.2,970.6 286.5,943.3 286.8,949.6 287.1,948.0 287.4,945.4 287.7,947.5 288.0,966.3 288.3,944.8 288.6,963.0 288.9,953.7 289.2,939.1 289.5,941.3 289.8,943.2 290.2,937.2 290.5,958.9 290.8,951.9 291.1,953.1 291.4,938.1 291.7,952.6 292.0,943.0 292.3,971.8 292.6,947.4 292.9,951.1 293.2,952.5 293.5,943.9 293.8,944.8 294.1,944.8 294.4,956.9 294.8,941.7 295.1,947.2 295.4,952.0 295.7,944.9 296.0,935.7 296.3,937.4 296.6,944.9 296.9,939.6 297.2,958.3 297.5,949.1 297.8,948.7 298.1,939.2 298.4,954.0 298.7,945.5 299.0,939.7 299.4,942.7 299.7,971.8 300.0,943.0 300.3,940.5 300.6,959.9 300.9,955.9 301.2,946.0 301.5,962.0 301.8,934.6 302.1,944.1 302.4,932.9 302.7,961.8 303.0,949.0 303.3,973.5 303.6,952.9 304.0,953.1 304.3,937.6 304.6,937.0 304.9,943.6 305.2,956.9 305.5,938.1 305.8,925.2 306.1,956.2 306.4,956.7 306.7,939.0 307.0,952.0 307.3,958.4 307.6,958.9 307.9,932.5 308.2,948.1 308.6,940.0 308.9,956.6 309.2,948.2 309.5,935.6 309.8,948.1 310.1,952.8 310.4,932.1 310.7,933.9 311.0,940.3 311.3,943.9 311.6,941.3 311.9,929.0 312.2,931.5 312.5,946.2 312.8,950.5 313.2,937.9 313.5,948.0 313.8,964.6 314.1,944.4 314.4,942.1 314.7,939.6 315.0,950.9 315.3,948.6 315.6,948.8 315.9,942.7 316.2,950.3 316.5,950.3 316.8,944.9 317.1,957.5 317.4,931.2 317.8,953.2 318.1,945.0 318.4,954.4 318.7,964.6 319.0,946.7 319.3,944.3 319.6,945.9 319.9,959.5 320.2,961.0 320.5,947.7 320.8,952.3 321.1,963.4 321.4,951.2 321.7,931.4 322.1,938.0 322.4,941.2 322.7,949.7 323.0,940.4 323.3,959.3 323.6,941.1 323.9,960.9 324.2,939.3 324.5,958.7 324.8,947.4 325.1,959.3 325.4,964.5 325.7,962.4 326.0,955.5 326.3,938.0 326.7,937.4 327.0,914.2 327.3,959.5 327.6,957.4 327.9,955.0 328.2,933.9 328.5,971.8 328.8,938.3 329.1,953.2 329.4,928.9 329.7,938.6 330.0,956.5 330.3,954.5 330.6,933.8 330.9,943.5 331.3,955.2 331.6,926.1 331.9,951.5 332.2,928.7 332.5,950.0 332.8,941.1 333.1,953.2 333.4,938.4 333.7,939.8 334.0,939.7 334.3,933.6 334.6,940.1 334.9,932.7 335.2,937.0 335.5,949.1 335.9,939.2 336.2,952.8 336.5,949.1 336.8,950.2 337.1,930.8 337.4,946.0 337.7,955.9 338.0,950.6 338.3,953.7 338.6,956.5 338.9,926.7 339.2,947.0 339.5,946.7 339.8,939.3 340.1,928.3 340.5,942.5 340.8,939.4 341.1,960.1 341.4,953.7 341.7,936.7 342.0,930.3 342.3,932.3 342.6,940.0 342.9,933.3 343.2,959.8 343.5,928.6 343.8,939.3 344.1,941.5 344.4,944.1 344.7,930.9 345.1,937.7 345.4,941.6 345.7,943.0 346.0,933.9 346.3,936.6 346.6,941.6 346.9,958.2 347.2,927.5 347.5,946.1 347.8,954.7 348.1,925.4 348.4,953.2 348.7,952.8 349.0,939.6 349.3,948.3 349.7,953.3 350.0,937.3 350.3,940.9 350.6,928.1 350.9,931.7 351.2,939.1 351.5,937.5 351.8,954.1 352.1,936.0 352.4,926.3 352.7,946.7 353.0,946.9 353.3,941.7 353.6,936.4 353.9,929.9 354.3,931.1 354.6,952.2 354.9,944.9 355.2,938.1 355.5,941.1 355.8,933.5 356.1,927.7 356.4,932.0 356.7,935.9 357.0,920.2 357.3,922.0 357.6,919.0 357.9,931.3 358.2,941.4 358.5,922.2 358.9,923.9 359.2,919.1 359.5,930.0 359.8,922.7 360.1,924.3 360.4,923.2 360.7,955.7 361.0,932.6 361.3,926.9 361.6,928.7 361.9,941.4 362.2,942.2 362.5,935.1 362.8,913.1 363.1,941.7 363.5,942.3 363.8,939.3 364.1,936.1 364.4,932.0 364.7,942.7 365.0,927.8 365.3,940.7 365.6,925.6 365.9,926.3 366.2,925.5 366.5,924.2 366.8,924.6 367.1,936.5 367.4,944.1 367.7,921.7 368.1,918.2 368.4,940.3 368.7,924.6 369.0,930.4 369.3,928.9 369.6,936.0 369.9,918.3 370.2,937.9 370.5,934.3 370.8,904.8 371.1,924.4 371.4,922.1 371.7,929.3 372.0,924.7 372.3,917.8 372.7,921.5 373.0,928.1 373.3,924.9 373.6,922.8 373.9,945.8 374.2,929.1 374.5,912.8 374.8,924.7 375.1,926.5 375.4,913.5 375.7,924.1 376.0,914.6 376.3,900.9 376.6,925.8 376.9,928.4 377.3,928.1 377.6,920.4 377.9,915.9 378.2,923.8 378.5,925.5 378.8,930.1 379.1,934.0 379.4,928.7 379.7,915.0 380.0,920.0 380.3,906.7 380.6,927.1 380.9,925.6 381.2,931.4 381.5,924.4 381.9,934.8 382.2,912.6 382.5,922.4 382.8,916.6 383.1,916.6 383.4,901.4 383.7,911.1 384.0,898.8 384.3,914.7 384.6,911.0 384.9,918.8 385.2,899.6 385.5,912.0 385.8,914.4 386.1,894.2 386.5,932.3 386.8,920.9 387.1,908.6 387.4,934.1 387.7,928.7 388.0,891.4 388.3,912.3 388.6,909.0 388.9,915.3 389.2,905.5 389.5,912.0 389.8,915.1 390.1,889.9 390.4,915.2 390.8,927.5 391.1,914.9 391.4,924.7 391.7,928.8 392.0,916.1 392.3,916.9 392.6,916.9 392.9,908.7 393.2,934.8 393.5,916.8 393.8,917.8 394.1,921.5 394.4,926.4 394.7,898.6 395.0,901.7 395.4,912.9 395.7,916.3 396.0,899.3 396.3,897.5 396.6,918.1 396.9,917.4 397.2,907.3 397.5,907.0 397.8,903.4 398.1,897.9 398.4,900.5 398.7,910.3 399.0,906.6 399.3,917.5 399.6,894.9 400.0,890.9 400.3,912.7 400.6,897.6 400.9,903.4 401.2,906.4 401.5,893.5 401.8,890.5 402.1,907.7 402.4,878.3 402.7,910.4 403.0,886.7 403.3,911.5 403.6,906.4 403.9,905.3 404.2,907.5 404.6,903.7 404.9,888.6 405.2,909.7 405.5,902.6 405.8,905.6 406.1,899.5 406.4,897.9 406.7,909.1 407.0,908.9 407.3,901.7 407.6,887.4 407.9,889.7 408.2,888.7 408.5,909.2 408.8,903.0 409.2,898.5 409.5,896.1 409.8,890.1 410.1,905.0 410.4,886.7 410.7,888.3 411.0,904.5 411.3,902.2 411.6,895.2 411.9,883.2 412.2,883.0 412.5,903.3 412.8,898.4 413.1,909.0 413.4,889.7 413.8,893.2 414.1,884.5 414.4,909.5 414.7,876.8 415.0,898.9 415.3,908.3 415.6,883.0 415.9,878.0 416.2,881.9 416.5,877.5 416.8,894.5 417.1,889.9 417.4,881.7 417.7,887.5 418.0,904.7 418.4,887.2 418.7,885.5 419.0,908.1 419.3,880.2 419.6,884.0 419.9,902.6 420.2,888.3 420.5,869.1 420.8,878.9 421.1,865.1 421.4,880.5 421.7,889.6 422.0,870.2 422.3,900.9 422.6,898.0 423.0,893.3 423.3,878.1 423.6,885.3 423.9,890.2 424.2,893.9 424.5,896.8 424.8,862.9 425.1,876.9 425.4,872.3 425.7,880.1 426.0,885.2 426.3,905.4 426.6,881.8 426.9,891.4 427.2,883.4 427.6,881.8 427.9,899.0 428.2,870.8 428.5,888.1 428.8,901.6 429.1,914.6 429.4,875.9 429.7,871.6 430.0,868.2 430.3,876.3 430.6,880.1 430.9,880.0 431.2,890.7 431.5,876.4 431.8,882.4 432.2,862.8 432.5,872.3 432.8,877.1 433.1,855.2 433.4,879.4 433.7,886.7 434.0,878.6 434.3,879.8 434.6,877.4 434.9,865.5 435.2,877.5 435.5,871.3 435.8,877.6 436.1,877.1 436.4,877.4 436.8,863.1 437.1,875.3 437.4,892.8 437.7,884.6 438.0,872.9 438.3,867.8 438.6,884.5 438.9,874.5 439.2,856.9 439.5,869.7 439.8,890.4 440.1,857.1 440.4,874.0 440.7,865.8 441.0,872.3 441.4,868.7 441.7,863.9 442.0,847.0 442.3,869.9 442.6,872.2 442.9,870.3 443.2,861.0 443.5,865.2 443.8,892.8 444.1,859.8 444.4,867.5 444.7,858.2 445.0,868.1 445.3,872.6 445.6,882.0 446.0,872.1 446.3,869.8 446.6,873.2 446.9,875.1 447.2,869.0 447.5,869.1 447.8,881.2 448.1,862.0 448.4,868.1 448.7,859.8 449.0,863.6 449.3,883.1 449.6,861.5 449.9,873.3 450.2,888.9 450.6,873.2 450.9,866.4 451.2,860.2 451.5,842.8 451.8,858.3 452.1,858.4 452.4,876.8 452.7,874.1 453.0,854.5 453.3,873.2 453.6,860.7 453.9,884.8 454.2,881.3 454.5,873.4 454.8,862.9 455.2,884.1 455.5,875.4 455.8,878.1 456.1,872.1 456.4,864.3 456.7,874.6 457.0,858.7 457.3,874.5 457.6,868.5 457.9,850.4 458.2,871.2 458.5,865.9 458.8,862.5 459.1,865.3 459.5,873.7 459.8,854.8 460.1,855.3 460.4,872.9 460.7,867.4 461.0,848.6 461.3,866.5 461.6,848.6 461.9,871.9 462.2,867.7 462.5,869.6 462.8,849.7 463.1,856.8 463.4,872.8 463.7,850.6 464.1,869.2 464.4,861.9 464.7,865.3 465.0,855.7 465.3,869.5 465.6,867.5 465.9,871.9 466.2,887.7 466.5,861.3 466.8,864.1 467.1,853.0 467.4,880.4 467.7,859.8 468.0,870.7 468.3,852.0 468.7,860.6 469.0,868.9 469.3,867.7 469.6,860.3 469.9,871.7 470.2,864.1 470.5,873.2 470.8,860.6 471.1,869.2 471.4,858.2 471.7,875.3 472.0,862.8 472.3,863.3 472.6,857.1 472.9,872.5 473.3,864.1 473.6,860.3 473.9,875.3 474.2,854.9 474.5,871.8 474.8,876.8 475.1,845.2 475.4,870.7 475.7,867.1 476.0,863.6 476.3,865.0 476.6,849.6 476.9,866.2 477.2,863.5 477.5,846.7 477.9,859.2 478.2,849.2 478.5,861.8 478.8,852.1 479.1,861.7 479.4,846.7 479.7,855.2 480.0,856.4 480.3,858.2 480.6,871.3 480.9,881.3 481.2,845.3 481.5,868.2 481.8,857.3 482.1,857.2 482.5,857.0 482.8,858.4 483.1,859.1 483.4,868.0 483.7,872.3 484.0,863.4 484.3,860.4 484.6,865.5 484.9,863.9 485.2,877.6 485.5,850.8 485.8,846.5 486.1,857.3 486.4,862.8 486.7,857.7 487.1,861.9 487.4,834.8 487.7,852.2 488.0,853.1 488.3,846.5 488.6,853.6 488.9,857.1 489.2,863.0 489.5,850.3 489.8,843.2 490.1,863.0 490.4,877.6 490.7,860.6 491.0,860.3 491.3,849.7 491.7,861.2 492.0,874.4 492.3,840.5 492.6,869.0 492.9,840.7 493.2,873.7 493.5,867.4 493.8,856.7 494.1,862.4 494.4,875.6 494.7,849.6 495.0,871.2 495.3,865.6 495.6,860.1 495.9,874.0 496.3,844.6 496.6,859.2 496.9,848.9 497.2,859.9 497.5,865.6 497.8,845.2 498.1,863.2 498.4,863.4 498.7,855.1 499.0,860.1 499.3,871.3 499.6,864.0 499.9,876.7 500.2,851.3 500.5,849.4 500.9,873.0 501.2,848.9 501.5,873.5 501.8,861.9 502.1,868.6 502.4,859.1 502.7,872.5 503.0,875.5 503.3,874.5 503.6,867.9 503.9,850.9 504.2,872.9 504.5,864.9 504.8,876.7 505.1,849.9 505.5,868.8 505.8,860.6 506.1,864.7 506.4,873.5 506.7,873.3 507.0,879.2 507.3,870.3 507.6,871.3 507.9,869.4 508.2,855.6 508.5,876.9 508.8,859.1 509.1,862.2 509.4,871.4 509.7,861.0 510.1,863.2 510.4,844.0 510.7,859.5 511.0,857.3 511.3,862.0 511.6,873.2 511.9,865.6 512.2,867.1 512.5,869.5 512.8,878.3 513.1,879.2 513.4,873.1 513.7,866.9 514.0,877.9 514.3,866.8 514.7,868.1 515.0,872.8 515.3,865.5 515.6,859.9 515.9,858.8 516.2,867.7 516.5,872.8 516.8,877.0 517.1,863.8 517.4,873.4 517.7,871.8 518.0,867.6 518.3,895.7 518.6,865.2 518.9,864.5 519.3,873.9 519.6,887.4 519.9,869.6 520.2,885.8 520.5,863.9 520.8,869.9 521.1,872.1 521.4,871.7 521.7,874.8 522.0,873.6 522.3,872.9 522.6,865.7 522.9,879.9 523.2,876.0 523.5,878.1 523.9,887.2 524.2,881.2 524.5,879.0 524.8,890.2 525.1,873.2 525.4,863.0 525.7,872.4 526.0,866.6 526.3,876.0 526.6,876.4 526.9,878.2 527.2,881.7 527.5,885.1 527.8,883.6 528.2,881.2 528.5,877.3 528.8,875.7 529.1,880.3 529.4,878.3 529.7,870.9 530.0,877.3 530.3,887.8 530.6,882.1 530.9,874.2 531.2,884.3 531.5,888.2 531.8,872.8 532.1,898.2 532.4,893.7 532.8,882.1 533.1,894.0 533.4,886.5 533.7,890.1 534.0,876.6 534.3,880.4 534.6,883.0 534.9,884.4 535.2,881.1 535.5,871.3 535.8,875.8 536.1,890.1 536.4,882.7 536.7,901.7 537.0,899.0 537.4,884.8 537.7,888.9 538.0,870.7 538.3,893.9 538.6,897.8 538.9,881.0 539.2,881.1 539.5,883.2 539.8,895.2 540.1,898.2 540.4,880.1 540.7,885.8 541.0,894.3 541.3,891.6 541.6,887.2 542.0,894.8 542.3,882.1 542.6,877.1 542.9,896.3 543.2,897.6 543.5,903.1 543.8,888.7 544.1,884.1 544.4,892.5 544.7,891.3 545.0,892.8 545.3,891.7 545.6,904.6 545.9,895.5 546.2,905.1 546.6,886.8 546.9,884.2 547.2,901.7 547.5,882.7 547.8,883.3 548.1,883.6 548.4,877.3 548.7,898.3 549.0,909.3 549.3,899.4 549.6,902.0 549.9,891.5 550.2,886.0 550.5,899.6 550.8,884.4 551.2,881.1 551.5,887.3 551.8,904.7 552.1,898.6 552.4,893.0 552.7,885.6 553.0,886.9 553.3,898.5 553.6,894.8 553.9,888.6 554.2,906.1 554.5,889.9 554.8,881.2 555.1,893.6 555.4,905.7 555.8,902.5 556.1,904.6 556.4,888.9 556.7,900.4 557.0,897.6 557.3,894.3 557.6,886.2 557.9,907.9 558.2,897.8 558.5,891.9 558.8,903.8 559.1,920.2 559.4,883.6 559.7,899.7 560.0,914.0 560.4,914.3 560.7,888.3 561.0,893.0 561.3,879.3 561.6,897.7 561.9,883.8 562.2,888.3 562.5,911.0 562.8,887.3 563.1,882.2 563.4,898.9 563.7,900.9 564.0,901.3 564.3,910.2 564.6,893.4 565.0,898.8 565.3,906.2 565.6,896.7 565.9,913.6 566.2,910.0 566.5,901.6 566.8,899.8 567.1,902.1 567.4,904.9 567.7,884.0 568.0,890.4 568.3,895.1 568.6,894.7 568.9,896.8 569.2,897.2 569.6,903.7 569.9,900.0 570.2,906.3 570.5,906.3 570.8,903.0 571.1,899.8 571.4,897.0 571.7,911.1 572.0,899.9 572.3,906.3 572.6,911.8 572.9,906.5 573.2,890.2 573.5,897.9 573.8,923.2 574.2,890.2 574.5,916.8 574.8,895.4 575.1,906.5 575.4,915.7 575.7,896.9 576.0,915.6 576.3,886.2 576.6,905.4 576.9,901.2 577.2,911.1 577.5,914.7 577.8,918.7 578.1,918.6 578.4,904.6 578.8,900.3 579.1,912.9 579.4,904.2 579.7,890.0 580.0,889.5 580.3,905.9 580.6,906.2 580.9,911.0 581.2,912.3 581.5,896.0 581.8,913.7 582.1,900.6 582.4,915.5 582.7,911.5 583.0,926.5 583.4,915.7 583.7,907.5 584.0,910.4 584.3,913.4 584.6,918.5 584.9,920.6 585.2,905.7 585.5,904.6 585.8,921.2 586.1,914.7 586.4,924.7 586.7,919.6 587.0,931.0 587.3,921.5 587.6,904.5 588.0,912.1 588.3,921.3 588.6,906.6 588.9,916.7 589.2,923.0 589.5,927.2 589.8,925.2 590.1,903.4 590.4,928.3 590.7,909.5 591.0,918.6 591.3,910.5 591.6,926.9 591.9,917.9 592.2,920.9 592.6,922.9 592.9,918.4 593.2,913.4 593.5,932.6 593.8,925.1 594.1,927.0 594.4,903.9 594.7,901.9 595.0,935.6 595.3,927.0 595.6,904.4 595.9,924.5 596.2,921.6 596.5,912.0 596.9,917.2 597.2,938.0 597.5,914.9 597.8,926.1 598.1,914.5 598.4,908.1 598.7,944.4 599.0,928.7 599.3,918.3 599.6,919.5 599.9,920.6 600.2,913.6 600.5,927.5 600.8,929.4 601.1,920.0 601.5,923.6 601.8,912.4 602.1,926.8 602.4,906.7 602.7,924.0 603.0,938.5 603.3,922.9 603.6,950.5 603.9,916.0 604.2,924.0 604.5,926.3 604.8,935.3 605.1,938.1 605.4,929.0 605.7,913.9 606.1,941.0 606.4,934.2 606.7,935.8 607.0,914.2 607.3,933.3 607.6,927.7 607.9,938.2 608.2,945.5 608.5,922.2 608.8,929.2 609.1,930.7 609.4,923.6 609.7,935.8 610.0,935.8 610.3,923.3 610.7,923.8 611.0,934.2 611.3,916.0 611.6,935.2 611.9,940.4 612.2,940.6 612.5,924.7 612.8,949.6 613.1,952.5 613.4,923.9 613.7,950.0 614.0,946.6 614.3,943.2 614.6,928.6 614.9,944.9 615.3,926.2 615.6,936.9 615.9,944.2 616.2,941.8 616.5,935.1 616.8,941.3 617.1,937.1 617.4,941.1 617.7,932.0 618.0,928.6 618.3,934.4 618.6,928.6 618.9,950.1 619.2,963.5 619.5,946.6 619.9,951.2 620.2,931.5 620.5,940.0 620.8,931.4 621.1,947.5 621.4,943.0 621.7,933.2 622.0,955.0 622.3,942.3 622.6,949.9 622.9,951.1 623.2,956.1 623.5,955.0 623.8,944.0 624.1,941.8 624.5,938.3 624.8,934.8 625.1,959.9 625.4,939.3 625.7,957.0 626.0,936.9 626.3,938.3 626.6,953.4 626.9,943.3 627.2,937.8 627.5,959.4 627.8,933.8 628.1,938.1 628.4,951.5 628.7,959.0 629.1,945.7 629.4,938.4 629.7,965.9 630.0,946.3 630.3,940.7 630.6,947.6 630.9,957.2 631.2,921.9 631.5,937.8 631.8,953.7 632.1,952.3 632.4,948.2 632.7,946.6 633.0,953.3 633.3,957.9 633.7,943.5 634.0,945.0 634.3,955.8 634.6,946.2 634.9,937.6 635.2,947.9 635.5,939.9 635.8,955.4 636.1,957.9 636.4,944.8 636.7,949.6 637.0,954.1 637.3,962.4 637.6,960.5 637.9,954.3 638.3,955.4 638.6,964.7 638.9,958.7 639.2,957.9 639.5,944.0 639.8,955.5 640.1,958.0 640.4,955.0 640.7,945.3 641.0,938.7 641.3,960.2 641.6,960.6 641.9,956.4 642.2,947.5 642.5,951.5 642.9,955.1 643.2,962.5 643.5,957.0 643.8,949.1 644.1,952.0 644.4,946.2 644.7,972.8 645.0,950.6 645.3,969.9 645.6,959.8 645.9,973.7 646.2,948.3 646.5,964.5 646.8,950.1 647.1,950.4 647.5,951.8 647.8,946.7 648.1,950.5 648.4,956.1 648.7,973.1 649.0,954.7 649.3,945.2 649.6,964.2 649.9,971.0 650.2,936.3 650.5,963.0 650.8,946.5 651.1,942.6 651.4,964.8 651.7,972.1 652.1,975.6 652.4,959.7 652.7,956.2 653.0,961.3 653.3,965.1 653.6,968.0 653.9,972.4 654.2,964.0 654.5,965.8 654.8,962.7 655.1,954.1 655.4,964.9 655.7,974.2 656.0,967.9 656.3,942.1 656.7,975.1 657.0,953.8 657.3,981.9 657.6,980.7 657.9,967.8 658.2,978.3 658.5,954.5 658.8,960.0 659.1,955.6 659.4,965.1 659.7,962.4 660.0,964.1 660.3,963.1 660.6,975.4 660.9,962.3 661.3,958.3 661.6,963.2 661.9,966.6 662.2,966.3 662.5,953.3 662.8,958.1 663.1,959.8 663.4,954.3 663.7,948.2 664.0,957.2 664.3,939.1 664.6,960.2 664.9,951.4 665.2,960.1 665.5,961.9 665.9,980.6 666.2,981.6 666.5,984.0 666.8,965.0 667.1,959.9 667.4,972.2 667.7,955.4 668.0,964.1 668.3,958.1 668.6,964.8 668.9,972.2 669.2,955.8 669.5,968.0 669.8,967.5 670.2,967.9 670.5,970.5 670.8,962.6 671.1,965.6 671.4,963.2 671.7,952.5 672.0,980.2 672.3,973.1 672.6,973.0 672.9,961.1 673.2,951.2 673.5,969.7 673.8,959.1 674.1,983.7 674.4,983.3 674.8,962.9 675.1,979.9 675.4,974.4 675.7,967.2 676.0,953.9 676.3,973.7 676.6,976.3 676.9,976.7 677.2,963.9 677.5,969.3 677.8,969.6 678.1,969.5 678.4,963.8 678.7,979.2 679.0,974.8 679.4,966.1 679.7,973.7 680.0,978.7 680.3,973.1 680.6,972.9 680.9,977.2 681.2,963.3 681.5,976.6 681.8,964.4 682.1,972.4 682.4,981.8 682.7,966.7 683.0,981.3 683.3,977.0 683.6,983.5 684.0,957.8 684.3,936.0 684.6,963.0 684.9,990.5 685.2,974.7 685.5,969.8 685.8,972.6 686.1,976.7 686.4,971.2 686.7,993.9 687.0,974.2 687.3,961.3 687.6,961.7 687.9,972.5 688.2,973.6 688.6,981.3 688.9,982.6 689.2,983.5 689.5,965.1 689.8,978.4 690.1,968.8 690.4,976.5 690.7,965.6 691.0,987.2 691.3,988.1 691.6,978.8 691.9,967.3 692.2,985.6 692.5,978.9 692.8,964.1 693.2,982.4 693.5,984.6 693.8,981.3 694.1,960.8 694.4,983.4 694.7,985.9 695.0,971.9 695.3,987.3 695.6,982.2 695.9,986.5 696.2,962.1 696.5,975.3 696.8,982.4 697.1,964.5 697.4,979.2 697.8,993.8 698.1,964.2 698.4,991.1 698.7,986.5 699.0,970.3 699.3,971.1 699.6,970.5 699.9,981.4 700.2,957.3 700.5,984.7 700.8,964.8 701.1,975.3 701.4,974.7 701.7,985.6 702.0,969.6 702.4,971.2 702.7,989.5 703.0,993.7 703.3,978.3 703.6,975.5 703.9,981.1 704.2,979.4 704.5,978.8 704.8,969.7 705.1,958.5 705.4,980.9 705.7,978.2 706.0,989.1 706.3,988.9 706.6,993.8 707.0,974.3 707.3,985.5 707.6,967.5 707.9,981.2 708.2,983.5 708.5,972.3 708.8,978.0 709.1,1001.2 709.4,971.3 709.7,988.6 710.0,975.8 710.3,987.4 710.6,955.8 710.9,967.3 711.2,977.1 711.6,994.5 711.9,978.0 712.2,968.3 712.5,975.6 712.8,986.7 713.1,965.6 713.4,980.3 713.7,978.1 714.0,976.3 714.3,983.8 714.6,973.4 714.9,985.6 715.2,986.2 715.5,996.3 715.8,983.9 716.2,980.4 716.5,971.1 716.8,976.4 717.1,969.6 717.4,994.0 717.7,960.6 718.0,985.6 718.3,986.1 718.6,988.1 718.9,978.2 719.2,1002.4 719.5,979.5 719.8,968.2 720.1,976.7 720.4,976.0 720.8,994.6 721.1,982.6 721.4,974.8 721.7,974.9 722.0,982.0 722.3,979.3 722.6,982.7 722.9,992.9 723.2,971.5 723.5,978.1 723.8,986.4 724.1,971.0 724.4,990.4 724.7,997.3 725.0,986.3 725.4,992.9 725.7,982.6 726.0,986.1 726.3,988.7 726.6,986.0 726.9,997.6 727.2,982.6 727.5,995.1 727.8,983.2 728.1,1001.4 728.4,999.8 728.7,990.7 729.0,975.1 729.3,979.6 729.6,963.5 730.0,995.0 730.3,983.2 730.6,980.7 730.9,987.7 731.2,974.5 731.5,983.4 731.8,989.4 732.1,996.6 732.4,1008.2 732.7,980.9 733.0,996.7 733.3,983.0 733.6,979.3 733.9,992.0 734.2,988.3 734.6,975.3 734.9,988.8 735.2,1007.1 735.5,982.7 735.8,982.8 736.1,1001.1 736.4,992.4 736.7,983.7 737.0,994.9 737.3,986.0 737.6,983.8 737.9,994.5 738.2,983.1 738.5,998.2 738.9,1005.7 739.2,985.5 739.5,985.3 739.8,985.1 740.1,991.4 740.4,984.7 740.7,992.7 741.0,999.1 741.3,982.3 741.6,994.3 741.9,1002.8 742.2,1000.1 742.5,984.4 742.8,1004.2 743.1,984.3 743.5,1002.1 743.8,978.9 744.1,998.8 744.4,990.7 744.7,990.5 745.0,990.1 745.3,985.0 745.6,997.9 745.9,995.3 746.2,1001.4 746.5,986.7 746.8,1000.8 747.1,1003.4 747.4,986.5 747.7,1005.8 748.1,1008.6 748.4,984.3 748.7,986.8 749.0,1017.3 749.3,998.6 749.6,994.5 749.9,987.6 750.2,1001.9 750.5,992.2 750.8,999.8 751.1,998.3 751.4,1000.8 751.7,1002.6 752.0,994.3 752.3,1001.0 752.7,1002.4 753.0,994.9 753.3,990.8 753.6,999.7 753.9,1011.4 754.2,995.9 754.5,993.5 754.8,1000.5 755.1,993.8 755.4,998.8 755.7,997.9 756.0,993.2 756.3,1001.4 756.6,990.8 756.9,991.9 757.3,983.6 757.6,991.6 757.9,1000.5 758.2,1008.9 758.5,1025.4 758.8,997.6 759.1,994.8 759.4,1016.0 759.7,986.1 760.0,1006.7 760.3,1001.6 760.6,1013.4 760.9,997.4 761.2,1000.7 761.5,984.3 761.9,993.7 762.2,998.8 762.5,994.2 762.8,992.9 763.1,1008.4 763.4,986.3 763.7,984.5 764.0,986.1 764.3,992.6 764.6,990.6 764.9,996.2 765.2,992.7 765.5,1014.2 765.8,992.8 766.1,997.7 766.5,1004.2 766.8,1019.7 767.1,998.2 767.4,995.0 767.7,1008.6 768.0,996.4 768.3,986.5 768.6,986.7 768.9,996.4 769.2,988.4 769.5,1010.0 769.8,1004.4 770.1,1015.5 770.4,1003.0 770.7,998.3 771.1,1007.3 771.4,1007.2 771.7,993.6 772.0,1016.5 772.3,1003.6 772.6,1009.1 772.9,997.4 773.2,1011.1 773.5,1021.9 773.8,1001.0 774.1,994.0 774.4,1004.0 774.7,1004.1 775.0,1008.6 775.3,989.3 775.7,1012.0 776.0,1005.6 776.3,1000.7 776.6,992.7 776.9,1005.2 777.2,1012.8 777.5,1007.6 777.8,1007.6 778.1,1004.1 778.4,1006.2 778.7,991.9 779.0,1016.6 779.3,1012.8 779.6,1001.6 779.9,1004.4 780.3,992.0 780.6,996.6 780.9,1007.7 781.2,998.1 781.5,994.5 781.8,1001.5 782.1,1009.5 782.4,995.2 782.7,1008.4 783.0,1009.5 783.3,1009.9 783.6,1009.2 783.9,1005.4 784.2,1002.3 784.5,1013.3 784.9,997.0 785.2,1015.6 785.5,994.0 785.8,1003.1 786.1,1007.2 786.4,989.7 786.7,1009.7 787.0,1014.8 787.3,996.1 787.6,1003.8 787.9,1012.4 788.2,1012.2 788.5,1014.4 788.8,992.3 789.1,1004.2 789.5,1016.3 789.8,993.5 790.1,995.4 790.4,1005.1 790.7,1005.3 791.0,994.0 791.3,997.7 791.6,1005.1 791.9,1007.3 792.2,1022.2 792.5,1014.7 792.8,1009.0 793.1,1006.8 793.4,1013.4 793.7,1029.8 794.1,1004.5 794.4,1000.0 794.7,997.2 795.0,1007.7 795.3,997.8 795.6,991.4 795.9,1001.1 796.2,1001.0 796.5,1015.9 796.8,1021.3 797.1,1004.2 797.4,1004.1 797.7,1017.3 798.0,1008.5 798.3,1005.3 798.7,1015.8 799.0,1000.8 799.3,1014.5 799.6,1026.8 799.9,996.7 800.2,1013.0 800.5,1007.2 800.8,1020.2 801.1,1017.6 801.4,1002.1 801.7,1007.9 802.0,1001.9 802.3,1018.0 802.6,1001.7 803.0,1008.3 803.3,1016.8 803.6,1005.2 803.9,999.9 804.2,999.2 804.5,1000.3 804.8,1007.5 805.1,1006.4 805.4,1012.8 805.7,1008.6 806.0,1019.4 806.3,1016.0 806.6,1021.7 806.9,1004.8 807.2,999.9 807.6,1021.1 807.9,1013.6 808.2,992.7 808.5,1005.4 808.8,1014.0 809.1,1020.6 809.4,1030.3 809.7,1020.2 810.0,1013.0 810.3,1006.9 810.6,1003.7 810.9,1005.1 811.2,1001.6 811.5,1010.6 811.8,1019.7 812.2,1015.2 812.5,1002.8 812.8,1016.8 813.1,1020.5 813.4,1010.1 813.7,1009.2 814.0,1011.4 814.3,1015.3 814.6,995.0 814.9,1004.1 815.2,1000.3 815.5,1011.6 815.8,1015.5 816.1,1006.9 816.4,1020.2 816.8,1013.2 817.1,1014.0 817.4,1012.5 817.7,1002.2 818.0,1026.2 818.3,1013.8 818.6,998.4 818.9,1017.1 819.2,1019.5 819.5,1001.6 819.8,1013.2 820.1,1025.5 820.4,1017.2 820.7,1013.6 821.0,1013.1 821.4,1016.5 821.7,1004.7 822.0,1009.5 822.3,1015.5 822.6,1013.0 822.9,1024.1 823.2,998.3 823.5,1030.3 823.8,1009.3 824.1,1007.8 824.4,1012.8 824.7,1022.1 825.0,1011.6 825.3,1024.7 825.6,1023.3 826.0,1014.5 826.3,1012.8 826.6,1012.9 826.9,1016.4 827.2,1002.9 827.5,1026.0 827.8,1015.3 828.1,1016.9 828.4,1009.6 828.7,1009.9 829.0,1027.4 829.3,999.7 829.6,1017.2 829.9,1009.0 830.2,1001.7 830.6,1020.8 830.9,1008.0 831.2,1020.6 831.5,1012.0 831.8,997.5 832.1,1013.8 832.4,1005.0 832.7,1012.5 833.0,1011.8 833.3,1017.9 833.6,1015.0 833.9,1011.8 834.2,1009.1 834.5,1002.3 834.8,997.1 835.2,1015.7 835.5,1004.1 835.8,1010.0 836.1,1019.4 836.4,1021.0 836.7,1021.1 837.0,1015.6 837.3,1017.8 837.6,1017.6 837.9,1016.4 838.2,1004.6 838.5,1016.5 838.8,1021.7 839.1,1013.8 839.4,1015.2 839.8,994.4 840.1,1006.0 840.4,1033.5 840.7,1006.1 841.0,1018.8 841.3,1024.2 841.6,1022.2 841.9,1015.8 842.2,1013.9 842.5,1004.0 842.8,1028.0 843.1,1015.0 843.4,1023.6 843.7,1001.7 844.0,998.6 844.4,998.3 844.7,1020.7 845.0,1011.8 845.3,1012.0 845.6,1016.3 845.9,1014.8 846.2,1015.2 846.5,1008.5 846.8,1006.0 847.1,1015.1 847.4,1022.1 847.7,1009.4 848.0,1014.8 848.3,1011.2 848.6,1017.8 849.0,1004.5 849.3,1029.3 849.6,1028.3 849.9,1015.0 850.2,1013.1 850.5,1000.5 850.8,1021.5 851.1,1015.5 851.4,1015.8 851.7,1001.3 852.0,1020.0 852.3,1029.0 852.6,1005.6 852.9,1012.4 853.2,1024.1 853.6,1019.9 853.9,1020.1 854.2,1039.3 854.5,1025.9 854.8,1016.0 855.1,992.1 855.4,1013.1 855.7,1003.6 856.0,1004.2 856.3,1024.6 856.6,1005.7 856.9,1013.1 857.2,1025.6 857.5,1008.5 857.8,1010.0 858.2,1004.9 858.5,1010.5 858.8,1001.3 859.1,1015.9 859.4,1008.5 859.7,1017.7 860.0,1019.0 860.3,1013.5 860.6,1015.1 860.9,1010.9 861.2,1018.2 861.5,1021.3 861.8,1017.7 862.1,1025.2 862.4,1016.0 862.8,1014.1 863.1,1018.4 863.4,1001.8 863.7,1010.5 864.0,998.2 864.3,1016.4 864.6,1021.8 864.9,1004.2 865.2,1008.7 865.5,1009.8 865.8,1023.8 866.1,1017.5 866.4,1024.9 866.7,1019.8 867.0,1020.1 867.4,999.5 867.7,998.2 868.0,1025.0 868.3,1033.3 868.6,1005.0 868.9,1006.0 869.2,1024.2 869.5,1031.5 869.8,1005.9 870.1,1009.6 870.4,1022.6 870.7,1017.6 871.0,1017.6 871.3,1021.5 871.7,1005.6 872.0,1007.5 872.3,1026.8 872.6,1001.4 872.9,1021.2 873.2,1010.3 873.5,1025.1 873.8,1013.4 874.1,1012.6 874.4,1023.2 874.7,1014.1 875.0,1014.1 875.3,995.2 875.6,1018.6 875.9,1012.9 876.3,1022.5 876.6,1011.0 876.9,1005.2 877.2,1025.0 877.5,1014.4 877.8,1012.4 878.1,1003.6 878.4,1025.9 878.7,1022.1 879.0,1006.7 879.3,1020.7 879.6,1018.9 879.9,1024.5 880.2,1014.9 880.5,1032.0 880.9,998.9 881.2,1001.9 881.5,1020.3 881.8,1022.1 882.1,1018.4 882.4,1034.2 882.7,1018.1 883.0,1002.3 883.3,1028.1 883.6,1016.4 883.9,1012.8 884.2,1020.7 884.5,1020.6 884.8,1012.7 885.1,1022.5 885.5,1019.2 885.8,1014.7 886.1,1015.0 886.4,999.3 886.7,1008.6 887.0,1009.0 887.3,1012.1 887.6,1026.9 887.9,1014.9 888.2,1011.5 888.5,1003.8 888.8,1010.3 889.1,1006.3 889.4,1005.6 889.7,1013.5 890.1,1000.2 890.4,1007.4 890.7,1020.7 891.0,1013.8 891.3,1005.8 891.6,1008.6 891.9,1006.9 892.2,1022.5 892.5,1021.8 892.8,1025.0 893.1,1008.7 893.4,1010.6 893.7,1018.1 894.0,1002.4 894.3,1006.9 894.7,1019.2 895.0,1006.8 895.3,1004.7 895.6,1015.2 895.9,1009.3 896.2,1006.4 896.5,1012.3 896.8,997.6 897.1,1016.9 897.4,1012.7 897.7,1014.0 898.0,1012.9 898.3,1016.6 898.6,997.4 898.9,1011.5 899.3,1022.4 899.6,1005.3 899.9,1004.0 900.2,1005.0 900.5,999.0 900.8,1030.5 901.1,1007.9 901.4,1015.6 901.7,1001.8 902.0,1003.7 902.3,1001.7 902.6,997.0 902.9,1004.9 903.2,1017.9 903.5,1003.1 903.9,1016.7 904.2,1024.5 904.5,1012.8 904.8,1018.7 905.1,1020.0 905.4,1005.3 905.7,1006.3 906.0,996.2 906.3,1006.5 906.6,1019.5 906.9,1012.4 907.2,1009.0 907.5,1006.7 907.8,1003.8 908.1,1007.2 908.5,1028.7 908.8,1020.7 909.1,1013.1 909.4,1009.1 909.7,1005.6 910.0,1019.1 910.3,1007.4 910.6,1008.3 910.9,1008.8 911.2,1021.7 911.5,1012.6 911.8,1024.1 912.1,1005.4 912.4,1005.1 912.7,1001.6 913.1,1011.9 913.4,1001.5 913.7,1006.3 914.0,1021.1 914.3,1014.6 914.6,1007.7 914.9,1008.1 915.2,983.7 915.5,991.2 915.8,1013.3 916.1,999.3 916.4,1000.8 916.7,1013.6 917.0,996.4 917.3,1007.6 917.7,1004.0 918.0,1007.5 918.3,1005.5 918.6,1019.5 918.9,1011.3 919.2,1017.7 919.5,999.7 919.8,1004.0 920.1,1007.2 920.4,1017.5 920.7,1011.1 921.0,1002.5 921.3,992.9 921.6,1002.6 921.9,992.8 922.3,993.1 922.6,995.8 922.9,996.8 923.2,994.7 923.5,1008.5 923.8,998.3 924.1,990.6 924.4,998.5 924.7,985.5 925.0,1000.3 925.3,1001.7 925.6,1001.9 925.9,987.8 926.2,1003.5 926.5,1002.3 926.9,1009.7 927.2,999.6 927.5,994.8 927.8,992.5 928.1,988.6 928.4,986.0 928.7,987.4 929.0,1000.3 929.3,990.4 929.6,991.5 929.9,987.4 930.2,993.7 930.5,996.8 930.8,995.4 931.1,980.5 931.5,987.3 931.8,1005.4 932.1,991.0 932.4,987.1 932.7,982.4 933.0,974.3 933.3,970.6 933.6,981.7 933.9,984.0 934.2,976.2 934.5,981.2 934.8,986.0 935.1,985.0 935.4,989.2 935.7,967.4 936.1,980.4 936.4,982.6 936.7,978.2 937.0,966.1 937.3,962.5 937.6,988.4 937.9,968.9 938.2,975.2 938.5,966.7 938.8,964.3 939.1,973.4 939.4,976.5 939.7,967.4 940.0,964.5 940.4,973.0 940.7,962.8 941.0,961.3 941.3,957.3 941.6,962.7 941.9,958.0 942.2,956.1 942.5,953.6 942.8,956.7 943.1,964.0 943.4,951.1 943.7,943.0 944.0,968.9 944.3,957.1 944.6,942.0 945.0,929.0 945.3,954.5 945.6,934.5 945.9,939.6 946.2,913.3 946.5,943.8 946.8,946.1 947.1,931.7 947.4,929.3 947.7,929.2 948.0,916.0 948.3,914.9 948.6,935.5 948.9,920.0 949.2,921.6 949.6,918.9 949.9,927.0 950.2,916.3 950.5,921.2 950.8,921.5 951.1,906.3 951.4,909.1 951.7,913.8 952.0,917.5 952.3,910.2 952.6,909.3 952.9,891.3 953.2,895.3 953.5,903.1 953.8,893.8 954.2,894.1 954.5,893.6 954.8,907.8 955.1,877.2 955.4,895.0 955.7,890.2 956.0,882.3 956.3,868.3 956.6,874.1 956.9,865.6 957.2,878.8 957.5,867.5 957.8,867.6 958.1,859.0 958.4,858.5 958.8,859.0 959.1,892.5 959.4,859.0 959.7,859.8 960.0,863.0 960.3,859.0 960.6,883.7 960.9,865.9 961.2,866.3 961.5,891.2 961.8,888.3 962.1,865.3 962.4,871.7 962.7,889.9 963.0,894.9 963.4,903.3 963.7,897.5 964.0,915.3 964.3,916.0 964.6,911.0 964.9,909.3 965.2,923.4 965.5,928.5 965.8,918.9 966.1,917.5 966.4,928.3 966.7,917.3 967.0,928.5 967.3,934.9 967.6,918.0 968.0,923.6 968.3,914.1 968.6,929.7 968.9,942.2 969.2,934.9 969.5,946.1 969.8,943.9 970.1,938.2 970.4,960.4 970.7,948.3 971.0,961.0 971.3,957.7 971.6,955.4 971.9,973.4 972.2,956.4 972.6,956.1 972.9,974.9 973.2,968.5 973.5,960.3 973.8,965.3 974.1,958.9 974.4,976.3 974.7,982.6 975.0,978.9 975.3,982.0 975.6,988.3 975.9,980.3 976.2,974.1 976.5,976.0 976.8,985.9 977.2,985.9 977.5,987.0 977.8,977.2 978.1,987.2 978.4,999.8 978.7,989.8 979.0,999.7 979.3,993.5 979.6,989.8 979.9,1001.8 980.2,1006.5 980.5,999.4 980.8,1004.6 981.1,992.5 981.4,987.9 981.8,983.2 982.1,997.7 982.4,1009.3 982.7,994.4 983.0,988.3 983.3,1000.0 983.6,999.9 983.9,1000.0 984.2,993.1 984.5,1012.6 984.8,996.9 985.1,1000.2 985.4,990.5 985.7,1006.8 986.0,1016.0 986.4,1011.4 986.7,995.0 987.0,1009.9 987.3,996.5 987.6,1003.2 987.9,1002.5 988.2,1011.4 988.5,1010.0 988.8,1004.1 989.1,1005.8 989.4,1017.6 989.7,996.2 990.0,1003.4 990.3,1023.5 990.6,1009.2 991.0,1001.6 991.3,1013.1 991.6,1016.3 991.9,1002.6 992.2,1009.1 992.5,1006.3 992.8,1016.3 993.1,1013.1 993.4,1006.9 993.7,1018.2 994.0,1008.2 994.3,1027.3 994.6,1021.4 994.9,1010.1 995.2,1014.1 995.6,1021.1 995.9,1016.5 996.2,1004.8 996.5,1008.6 996.8,1008.8 997.1,1010.4 997.4,999.3 997.7,1017.7 998.0,1037.7 998.3,1013.9 998.6,1013.9 998.9,1011.3 999.2,1017.0 999.5,1008.3 999.8,1010.6 1000.2,1016.9 1000.5,996.3 1000.8,1008.6 1001.1,1025.7 1001.4,1019.5 1001.7,1014.8 1002.0,1015.7 1002.3,995.5 1002.6,1019.3 1002.9,1011.8 1003.2,1023.8 1003.5,1017.6 1003.8,1020.0 1004.1,1004.0 1004.4,1003.4 1004.8,1030.2 1005.1,1013.7 1005.4,1012.4 1005.7,1026.2 1006.0,1020.5 1006.3,1021.0 1006.6,1029.3 1006.9,1018.6 1007.2,1014.8 1007.5,1013.1 1007.8,1000.6 1008.1,1015.5 1008.4,1015.3 1008.7,1011.7 1009.1,1034.6 1009.4,1009.6 1009.7,1013.5 1010.0,1012.3 1010.3,1013.2 1010.6,1021.9 1010.9,1013.8 1011.2,1021.3 1011.5,1035.9 1011.8,1014.6 1012.1,1012.5 1012.4,1013.5 1012.7,1027.1 1013.0,1020.7 1013.3,1020.5 1013.7,1015.2 1014.0,1014.0 1014.3,1032.2 1014.6,1030.6 1014.9,1011.5 1015.2,1011.1 1015.5,1014.1 1015.8,1014.2 1016.1,1024.8 1016.4,1028.8 1016.7,1017.7 1017.0,1011.5 1017.3,1025.5 1017.6,1029.5 1017.9,1007.1 1018.3,1020.6 1018.6,1011.3 1018.9,1011.3 1019.2,1011.7 1019.5,1029.0 1019.8,1021.2 1020.1,1013.4 1020.4,1018.2 1020.7,1021.5 1021.0,1007.8 1021.3,1023.6 1021.6,1011.1 1021.9,1012.9 1022.2,1030.9 1022.5,994.2 1022.9,1027.0 1023.2,1027.4 1023.5,1017.1 1023.8,1027.9 1024.1,1020.7 1024.4,1014.9 1024.7,1022.6 1025.0,1015.8 1025.3,1017.3 1025.6,1013.1 1025.9,1040.5 1026.2,1028.5 1026.5,1018.7 1026.8,1009.0 1027.1,1013.1 1027.5,1013.8 1027.8,1011.5 1028.1,1018.5 1028.4,1019.0 1028.7,1032.7 1029.0,1030.9 1029.3,1009.3 1029.6,1030.7 1029.9,1012.2 1030.2,1027.9 1030.5,1021.2 1030.8,1020.2 1031.1,1022.3 1031.4,1014.8 1031.7,1010.8 1032.1,1034.2 1032.4,1008.8 1032.7,1025.9 1033.0,1013.2 1033.3,1023.7 1033.6,1020.0 1033.9,1021.6 1034.2,1014.3 1034.5,1023.2 1034.8,1034.6 1035.1,1026.6 1035.4,1030.7 1035.7,1016.6 1036.0,1018.2 1036.3,1027.0 1036.7,1008.6 1037.0,1028.7 1037.3,1020.4 1037.6,1019.1 1037.9,1032.3 1038.2,1014.4 1038.5,1031.9 1038.8,1011.8 1039.1,1011.1 1039.4,1028.1 1039.7,1029.2 1040.0,1009.6 1040.3,1021.4 1040.6,1035.8 1040.9,1020.9 1041.3,1010.9 1041.6,1018.1 1041.9,1020.6 1042.2,1019.2 1042.5,1012.0 1042.8,1015.9 1043.1,1023.5 1043.4,1025.6 1043.7,1020.0 1044.0,1024.1 1044.3,1022.2 1044.6,1009.1 1044.9,1032.7 1045.2,1031.5 1045.5,1021.3 1045.9,1019.7 1046.2,1021.5 1046.5,1022.1 1046.8,1027.0 1047.1,1028.3 1047.4,1018.7 1047.7,1013.1 1048.0,1012.7 1048.3,1033.1 1048.6,1019.2 1048.9,1011.6 1049.2,1003.0 1049.5,1025.1 1049.8,1019.5 1050.1,1020.1 1050.5,1010.7 1050.8,1014.9 1051.1,1013.9 1051.4,1019.4 1051.7,1033.6 1052.0,1014.6 1052.3,1009.8 1052.6,1026.0 1052.9,1025.2 1053.2,1015.2 1053.5,1019.6 1053.8,1012.8 1054.1,1033.2 1054.4,1022.6 1054.7,1007.3 1055.1,1026.1 1055.4,1026.9 1055.7,1008.0 1056.0,1019.3 1056.3,1019.2 1056.6,1007.0 1056.9,1005.4 1057.2,1041.4 1057.5,1011.2 1057.8,1024.0 1058.1,1025.2 1058.4,1027.8 1058.7,1026.8 1059.0,1020.6 1059.3,1013.5 1059.7,1010.3 1060.0,1023.6 1060.3,1012.8 1060.6,1027.4 1060.9,1018.3 1061.2,1029.5 1061.5,1007.3 1061.8,1033.1 1062.1,1017.1 1062.4,1023.5 1062.7,1009.4 1063.0,1025.0 1063.3,1021.6 1063.6,1028.6 1063.9,1025.1 1064.3,1036.0 1064.6,1007.8 1064.9,1016.5 1065.2,1009.6 1065.5,1019.1 1065.8,1027.3 1066.1,1027.2 1066.4,1015.0 1066.7,1008.2 1067.0,1019.6 1067.3,1024.4 1067.6,1008.3 1067.9,1020.2 1068.2,1013.5 1068.5,1022.8 1068.9,1014.2 1069.2,1027.7 1069.5,1015.1 1069.8,1020.3 1070.1,1044.2 1070.4,987.4 1070.7,1017.1 1071.0,1018.2 1071.3,1022.4 1071.6,1022.9 1071.9,1020.8 1072.2,1014.2 1072.5,1017.8 1072.8,1023.3 1073.1,1007.2 1073.5,1026.7 1073.8,1018.1 1074.1,1028.6 1074.4,1015.8 1074.7,1022.4 1075.0,1016.8 1075.3,1025.8 1075.6,1027.6 1075.9,1014.4 1076.2,1024.0 1076.5,1017.5 1076.8,1023.5 1077.1,1014.6 1077.4,1014.7 1077.8,1021.6 1078.1,1025.1 1078.4,1019.4 1078.7,1021.2 1079.0,1014.3 1079.3,1025.1 1079.6,1017.1 1079.9,1010.0 1080.2,1029.4 1080.5,1007.6 1080.8,1026.9 1081.1,1018.6 1081.4,1020.8 1081.7,1034.3 1082.0,1012.4 1082.4,1009.1 1082.7,1006.3 1083.0,1016.2 1083.3,1025.0 1083.6,1014.4 1083.9,1015.5 1084.2,1017.1 1084.5,1013.2 1084.8,1016.7 1085.1,1005.1 1085.4,998.2 1085.7,1008.2 1086.0,1009.4 1086.3,1022.3 1086.6,1016.0 1087.0,1005.1 1087.3,1023.0 1087.6,1019.6 1087.9,1007.9 1088.2,1028.2 1088.5,1013.9 1088.8,1006.9 1089.1,1010.2 1089.4,1017.8 1089.7,1014.0 1090.0,1002.5 1090.3,1023.9 1090.6,1010.1 1090.9,1005.0 1091.2,1009.0 1091.6,1012.0 1091.9,1022.9 1092.2,1021.0 1092.5,995.8 1092.8,1006.9 1093.1,1009.4 1093.4,1010.8 1093.7,1016.0 1094.0,1013.5 1094.3,999.4 1094.6,1021.1 1094.9,1013.3 1095.2,992.7 1095.5,1015.1 1095.8,1008.6 1096.2,995.2 1096.5,1006.6 1096.8,1010.2 1097.1,1006.6 1097.4,998.6 1097.7,1002.9 1098.0,1001.6 1098.3,999.7 1098.6,1007.5 1098.9,995.1 1099.2,1004.3 1099.5,1006.2 1099.8,1009.8 1100.1,1005.7 1100.4,998.5 1100.8,997.3 1101.1,995.2 1101.4,1013.6 1101.7,995.7 1102.0,991.9 1102.3,995.3 1102.6,1005.1 1102.9,1005.8 1103.2,984.1 1103.5,1006.3 1103.8,995.9 1104.1,1011.3 1104.4,1008.5 1104.7,989.4 1105.0,986.1 1105.4,985.2 1105.7,989.8 1106.0,995.7 1106.3,995.3 1106.6,995.6 1106.9,997.1 1107.2,988.1 1107.5,989.7 1107.8,993.3 1108.1,999.7 1108.4,986.5 1108.7,982.0 1109.0,994.6 1109.3,989.7 1109.6,991.4 1110.0,985.2 1110.3,989.9 1110.6,981.4 1110.9,977.4 1111.2,985.9 1111.5,969.9 1111.8,988.6 1112.1,1001.4 1112.4,972.2 1112.7,974.2 1113.0,985.9 1113.3,973.9 1113.6,985.3 1113.9,978.8 1114.2,975.8 1114.6,987.6 1114.9,974.6 1115.2,974.8 1115.5,967.0 1115.8,985.1 1116.1,978.8 1116.4,974.9 1116.7,987.7 1117.0,979.4 1117.3,991.5 1117.6,989.4 1117.9,978.0 1118.2,976.7 1118.5,996.2 1118.8,983.0 1119.2,978.5 1119.5,983.9 1119.8,970.2 1120.1,987.9 1120.4,974.7 1120.7,992.5 1121.0,982.2 1121.3,990.2 1121.6,1004.1 1121.9,1000.9 1122.2,987.9 1122.5,994.9 1122.8,982.2 1123.1,995.9 1123.4,1004.8 1123.8,1002.4 1124.1,1004.5 1124.4,999.3 1124.7,986.5 1125.0,997.2 1125.3,988.3 1125.6,1006.2 1125.9,996.7 1126.2,995.1 1126.5,991.0 1126.8,1002.4 1127.1,1005.2 1127.4,1004.4 1127.7,988.2 1128.0,1006.2 1128.4,998.2 1128.7,984.0 1129.0,1008.9 1129.3,1005.6 1129.6,990.9 1129.9,1012.2 1130.2,1009.4 1130.5,1019.9 1130.8,1010.4 1131.1,1007.9 1131.4,993.7 1131.7,1024.7 1132.0,996.3 1132.3,1005.3 1132.6,1014.4 1133.0,1007.1 1133.3,987.1 1133.6,1007.2 1133.9,1006.7 1134.2,1018.9 1134.5,1010.1 1134.8,1023.0 1135.1,1019.6 1135.4,1020.8 1135.7,1018.1 1136.0,1031.3 1136.3,1022.1 1136.6,1022.0 1136.9,1014.5 1137.2,1011.9 1137.6,1004.7 1137.9,1000.1 1138.2,1006.5 1138.5,1022.4 1138.8,1010.7 1139.1,1015.3 1139.4,1013.7 1139.7,1017.6 1140.0,1021.7 1140.3,1030.4 1140.6,1009.0 1140.9,1035.3 1141.2,1018.0 1141.5,1014.3 1141.8,1016.8 1142.2,1030.3 1142.5,1025.8 1142.8,1031.3 1143.1,1017.9 1143.4,1032.3 1143.7,1020.9 1144.0,1026.1 1144.3,1017.4 1144.6,1020.4 1144.9,1018.6 1145.2,1030.7 1145.5,1029.8 1145.8,999.1 1146.1,1025.2 1146.5,1025.2 1146.8,1014.9 1147.1,1015.9 1147.4,1033.8 1147.7,1022.8 1148.0,1032.1 1148.3,1031.8 1148.6,1006.4 1148.9,1036.5 1149.2,1015.7 1149.5,1021.9 1149.8,1025.2 1150.1,1029.9 1150.4,1030.1 1150.7,1024.6 1151.1,1025.5 1151.4,1030.5 1151.7,1034.3 1152.0,1024.6 1152.3,1031.7 1152.6,1031.3 1152.9,1022.8 1153.2,1025.4 1153.5,1026.9 1153.8,1045.8 1154.1,1030.8 1154.4,1034.9 1154.7,1034.9 1155.0,1024.1 1155.3,1032.6 1155.7,1017.1 1156.0,1018.9 1156.3,1032.8 1156.6,1026.3 1156.9,1031.8 1157.2,1034.5 1157.5,1045.6 1157.8,1029.2 1158.1,1030.7 1158.4,1013.3 1158.7,1040.5 1159.0,1030.2 1159.3,1026.0 1159.6,1037.6 1159.9,1030.9 1160.3,1025.4 1160.6,1024.4 1160.9,1036.0 1161.2,1038.5 1161.5,1031.2 1161.8,1030.3 1162.1,1047.8 1162.4,1028.5 1162.7,1024.0 1163.0,1036.7 1163.3,1027.0 1163.6,1021.3 1163.9,1034.2 1164.2,1029.0 1164.5,1045.8 1164.9,1035.6 1165.2,1040.6 1165.5,1042.8 1165.8,1037.8 1166.1,1041.1 1166.4,1024.6 1166.7,1026.2 1167.0,1032.2 1167.3,1041.2 1167.6,1037.6 1167.9,1038.9 1168.2,1041.0 1168.5,1032.5 1168.8,1028.2 1169.1,1027.7 1169.5,1044.9 1169.8,1021.4 1170.1,1023.3 1170.4,1036.7 1170.7,1026.0 1171.0,1038.1 1171.3,1027.5 1171.6,1033.1 1171.9,1026.9 1172.2,1037.8 1172.5,1036.7 1172.8,1045.6 1173.1,1038.9 1173.4,1038.5 1173.7,1027.9 1174.1,1031.9 1174.4,1029.9 1174.7,1021.1 1175.0,1023.5 1175.3,1032.7 1175.6,1036.5 1175.9,1047.1 1176.2,1028.6 1176.5,1023.3 1176.8,1039.6 1177.1,1031.4 1177.4,1028.3 1177.7,1030.8 1178.0,1017.0 1178.3,1033.8 1178.7,1036.0 1179.0,1034.4 1179.3,1030.2 1179.6,1033.3 1179.9,1042.9 1180.2,1028.3 1180.5,1050.6 1180.8,1034.9 1181.1,1037.4 1181.4,1057.1 1181.7,1037.8 1182.0,1032.8 1182.3,1037.9 1182.6,1026.3 1182.9,1046.2 1183.3,1036.8 1183.6,1036.0 1183.9,1030.7 1184.2,1038.5 1184.5,1042.5 1184.8,1015.6 1185.1,1024.9 1185.4,1040.1 1185.7,1031.8 1186.0,1034.8 1186.3,1026.6 1186.6,1027.3 1186.9,1044.7 1187.2,1039.0 1187.5,1040.4 1187.9,1012.7 1188.2,1037.3 1188.5,1038.6 1188.8,1039.3 1189.1,1030.9 1189.4,1043.2 1189.7,1044.6 1190.0,1035.8 1190.3,1016.8 1190.6,1035.4 1190.9,1037.6 1191.2,1041.4 1191.5,1032.7 1191.8,1040.8 1192.1,1034.8 1192.5,1036.0 1192.8,1035.1 1193.1,1040.7 1193.4,1046.0 1193.7,1043.6 1194.0,1029.1 1194.3,1042.5 1194.6,1034.3 1194.9,1039.1 1195.2,1016.5 1195.5,1042.7 1195.8,1034.3 1196.1,1034.4 1196.4,1037.8 1196.7,1028.0 1197.1,1030.0 1197.4,1017.1 1197.7,1039.6 1198.0,1032.7 1198.3,1038.2 1198.6,1040.0 1198.9,1033.1 1199.2,1041.7 1199.5,1020.7 1199.8,1034.1 1200.1,1039.5 1200.4,1030.8 1200.7,1036.9 1201.0,1032.3 1201.3,1042.4 1201.7,1043.5 1202.0,1030.6 1202.3,1032.3 1202.6,1037.3 1202.9,1033.4 1203.2,1037.5 1203.5,1034.7 1203.8,1037.6 1204.1,1027.9 1204.4,1038.2 1204.7,1043.4 1205.0,1027.3 1205.3,1039.2 1205.6,1038.0 1205.9,1040.8 1206.3,1021.0 1206.6,1035.3 1206.9,1033.4 1207.2,1041.1 1207.5,1042.3 1207.8,1015.8 1208.1,1031.0 1208.4,1038.9 1208.7,1039.7 1209.0,1039.7 1209.3,1029.6 1209.6,1032.8 1209.9,1039.2 1210.2,1042.8 1210.5,1038.6 1210.9,1029.9 1211.2,1014.1 1211.5,1032.6 1211.8,1034.7 1212.1,1035.8 1212.4,1040.5 1212.7,1041.5 1213.0,1053.0 1213.3,1038.0 1213.6,1041.2 1213.9,1050.3 1214.2,1045.1 1214.5,1033.6 1214.8,1043.7 1215.2,1029.0 1215.5,1044.0 1215.8,1044.6 1216.1,1034.6 1216.4,1046.3 1216.7,1042.3 1217.0,1034.6 1217.3,1044.7 1217.6,1033.7 1217.9,1038.9 1218.2,1028.4 1218.5,1047.0 1218.8,1035.3 1219.1,1031.8 1219.4,1035.6 1219.8,1045.5 1220.1,1050.9 1220.4,1037.7 1220.7,1032.6 1221.0,1038.2 1221.3,1037.3 1221.6,1041.4 1221.9,1036.5 1222.2,1039.7 1222.5,1022.6 1222.8,1027.5 1223.1,1035.1 1223.4,1027.2 1223.7,1029.5 1224.0,1043.5 1224.4,1035.9 1224.7,1035.8 1225.0,1035.8 1225.3,1032.4 1225.6,1032.0 1225.9,1034.8 1226.2,1040.1 1226.5,1036.8 1226.8,1038.0 1227.1,1046.9 1227.4,1039.3 1227.7,1043.9 1228.0,1040.7 1228.3,1044.7 1228.6,1030.8 1229.0,1028.7 1229.3,1042.8 1229.6,1039.1 1229.9,1042.3 1230.2,1026.3 1230.5,1054.6 1230.8,1036.4 1231.1,1052.3 1231.4,1034.0 1231.7,1034.2 1232.0,1021.0 1232.3,1040.4 1232.6,1037.5 1232.9,1034.3 1233.2,1041.2 1233.6,1032.7 1233.9,1043.4 1234.2,1040.9 1234.5,1040.2 1234.8,1033.4 1235.1,1032.9 1235.4,1047.4 1235.7,1038.3 1236.0,1038.7 1236.3,1038.0 1236.6,1036.3 1236.9,1027.7 1237.2,1040.5 1237.5,1034.6 1237.8,1031.9 1238.2,1046.5 1238.5,1055.5 1238.8,1036.3 1239.1,1041.1 1239.4,1028.4 1239.7,1045.3 1240.0,1038.6 1240.3,1044.0 1240.6,1045.0 1240.9,1035.8 1241.2,1042.6 1241.5,1036.7 1241.8,1040.1 1242.1,1038.2 1242.4,1026.9 1242.8,1030.3 1243.1,1024.4 1243.4,1023.5 1243.7,1039.9 1244.0,1046.7 1244.3,1042.1 1244.6,1034.3 1244.9,1056.5 1245.2,1042.1 1245.5,1047.6 1245.8,1036.1 1246.1,1041.5 1246.4,1030.4 1246.7,1034.7 1247.0,1027.2 1247.4,1038.2 1247.7,1033.1 1248.0,1029.9 1248.3,1042.2 1248.6,1035.3 1248.9,1035.3 1249.2,1038.7 1249.5,1031.1 1249.8,1037.0 1250.1,1035.4 1250.4,1033.5 1250.7,1035.8 1251.0,1042.2 1251.3,1038.2 1251.6,1035.2 1252.0,1030.6 1252.3,1040.6 1252.6,1045.2 1252.9,1035.9 1253.2,1028.0 1253.5,1053.3 1253.8,1037.7 1254.1,1050.8 1254.4,1025.3 1254.7,1025.6 1255.0,1029.8 1255.3,1032.0 1255.6,1015.6 1255.9,1022.4 1256.2,1036.3 1256.6,1030.0 1256.9,1038.7 1257.2,1033.1 1257.5,1029.1 1257.8,1034.9 1258.1,1035.9 1258.4,1028.0 1258.7,1039.6 1259.0,1038.6 1259.3,1037.7 1259.6,1034.0 1259.9,1035.5 1260.2,1038.2 1260.5,1038.9 1260.8,1036.3 1261.2,1048.3 1261.5,1041.0 1261.8,1048.2 1262.1,1046.7 1262.4,1028.0 1262.7,1052.7 1263.0,1025.3 1263.3,1040.2 1263.6,1033.0 1263.9,1035.4 1264.2,1044.1 1264.5,1044.1 1264.8,1041.0 1265.1,1032.8 1265.4,1039.5 1265.8,1035.8 1266.1,1035.4 1266.4,1030.0 1266.7,1032.4 1267.0,1042.6 1267.3,1030.3 1267.6,1027.3 1267.9,1040.0 1268.2,1039.3 1268.5,1033.8 1268.8,1047.2 1269.1,1038.4 1269.4,1038.9 1269.7,1016.9 1270.0,1038.2 1270.4,1045.1 1270.7,1028.2 1271.0,1042.2 1271.3,1034.4 1271.6,1033.8 1271.9,1033.0 1272.2,1025.8 1272.5,1020.0 1272.8,1021.4 1273.1,1043.3 1273.4,1037.5 1273.7,1023.5 1274.0,1040.5 1274.3,1039.0 1274.6,1033.1 1275.0,1040.2 1275.3,1040.2 1275.6,1038.2 1275.9,1044.1 1276.2,1030.0 1276.5,1037.3 1276.8,1048.0 1277.1,1051.5 1277.4,1037.8 1277.7,1049.3 1278.0,1034.0 1278.3,1026.3 1278.6,1042.2 1278.9,1046.2 1279.2,1033.7 1279.6,1045.2 1279.9,1025.5 1280.2,1028.3 1280.5,1031.9 1280.8,1035.3 1281.1,1037.2 1281.4,1038.3 1281.7,1042.5 1282.0,1031.2 1282.3,1033.4 1282.6,1049.0 1282.9,1035.5 1283.2,1042.3 1283.5,1038.3 1283.9,1036.3 1284.2,1041.1 1284.5,1030.9 1284.8,1038.2 1285.1,1041.8 1285.4,1038.3 1285.7,1034.1 1286.0,1032.3 1286.3,1034.8 1286.6,1044.3 1286.9,1039.7 1287.2,1031.6 1287.5,1046.3 1287.8,1032.3 1288.1,1042.4 1288.5,1034.9 1288.8,1024.3 1289.1,1034.1 1289.4,1030.8 1289.7,1033.7 1290.0,1034.0 1290.3,1031.3 1290.6,1036.5 1290.9,1034.4 1291.2,1026.9 1291.5,1037.9 1291.8,1038.6 1292.1,1032.0 1292.4,1035.0 1292.7,1032.2 1293.1,1030.4 1293.4,1034.5 1293.7,1040.1 1294.0,1038.8 1294.3,1025.9 1294.6,1034.8 1294.9,1041.6 1295.2,1044.9 1295.5,1033.2 1295.8,1039.3 1296.1,1036.5 1296.4,1027.6 1296.7,1038.5 1297.0,1030.8 1297.3,1027.0 1297.7,1047.3 1298.0,1044.7 1298.3,1038.3 1298.6,1027.9 1298.9,1041.2 1299.2,1034.6 1299.5,1039.5 1299.8,1035.6 1300.1,1038.5 1300.4,1026.8 1300.7,1036.9 1301.0,1038.5 1301.3,1045.5 1301.6,1023.8 1301.9,1050.9 1302.3,1052.3 1302.6,1036.9 1302.9,1033.0 1303.2,1045.7 1303.5,1025.0 1303.8,1035.4 1304.1,1044.1 1304.4,1049.5 1304.7,1043.5 1305.0,1038.5 1305.3,1037.6 1305.6,1039.3 1305.9,1045.2 1306.2,1022.3 1306.5,1036.3 1306.9,1038.7 1307.2,1033.9 1307.5,1037.0 1307.8,1046.2 1308.1,1035.6 1308.4,1034.8 1308.7,1047.0 1309.0,1037.0 1309.3,1033.8 1309.6,1026.9 1309.9,1035.5 1310.2,1025.8 1310.5,1033.6 1310.8,1040.6 1311.1,1032.8 1311.5,1035.9 1311.8,1040.8 1312.1,1044.4 1312.4,1050.0 1312.7,1047.3 1313.0,1042.4 1313.3,1040.9 1313.6,1037.4 1313.9,1032.6 1314.2,1017.7 1314.5,1039.6 1314.8,1031.5 1315.1,1045.8 1315.4,1027.0 1315.7,1023.8 1316.1,1032.8 1316.4,1044.9 1316.7,1034.8 1317.0,1033.9 1317.3,1044.6 1317.6,1035.7 1317.9,1040.0 1318.2,1034.6 1318.5,1036.4 1318.8,1062.1 1319.1,1024.4 1319.4,1048.0 1319.7,1021.7 1320.0,1022.8 1320.3,1044.3 1320.7,1035.7 1321.0,1037.0 1321.3,1043.2 1321.6,1033.3 1321.9,1024.4 1322.2,1037.9 1322.5,1031.2 1322.8,1048.5 1323.1,1038.7 1323.4,1041.2 1323.7,1026.6 1324.0,1037.8 1324.3,1038.8 1324.6,1041.7 1324.9,1028.4 1325.3,1041.0 1325.6,1045.3 1325.9,1034.9 1326.2,1033.6 1326.5,1040.9 1326.8,1044.3 1327.1,1035.2 1327.4,1044.2 1327.7,1050.2 1328.0,1040.7 1328.3,1036.6 1328.6,1043.4 1328.9,1048.2 1329.2,1047.1 1329.5,1039.1 1329.9,1042.8 1330.2,1033.1 1330.5,1038.0 1330.8,1034.0 1331.1,1032.9 1331.4,1037.0 1331.7,1033.4 1332.0,1037.3 1332.3,1037.1 1332.6,1028.6 1332.9,1033.0 1333.2,1041.1 1333.5,1034.1 1333.8,1049.8 1334.1,1053.6 1334.5,1043.1 1334.8,1039.5 1335.1,1039.9 1335.4,1026.6 1335.7,1034.1 1336.0,1022.8 1336.3,1040.3 1336.6,1043.5 1336.9,1038.4 1337.2,1035.8 1337.5,1032.2 1337.8,1039.9 1338.1,1028.4 1338.4,1044.4 1338.7,1027.7 1339.1,1025.4 1339.4,1034.3 1339.7,1038.5 1340.0,1031.8 1340.3,1035.2 1340.6,1038.8 1340.9,1031.4 1341.2,1043.2 1341.5,1035.3 1341.8,1040.6 1342.1,1031.9 1342.4,1024.0 1342.7,1040.5 1343.0,1042.9 1343.3,1031.1 1343.7,1035.7 1344.0,1027.0 1344.3,1025.3 1344.6,1046.0 1344.9,1047.4 1345.2,1032.4 1345.5,1049.6 1345.8,1032.5 1346.1,1040.4 1346.4,1036.8 1346.7,1037.4 1347.0,1018.5 1347.3,1047.2 1347.6,1030.1 1347.9,1035.5 1348.3,1044.3 1348.6,1027.5 1348.9,1036.1 1349.2,1035.7 1349.5,1035.2 1349.8,1028.0 1350.1,1039.4 1350.4,1027.4 1350.7,1036.0 1351.0,1048.2 1351.3,1037.0 1351.6,1026.9 1351.9,1037.8 1352.2,1027.0 1352.6,1030.7 1352.9,1037.8 1353.2,1031.0 1353.5,1035.0 1353.8,1014.2 1354.1,1036.0 1354.4,1044.0 1354.7,1022.7 1355.0,1035.4 1355.3,1045.2 1355.6,1039.8 1355.9,1037.7 1356.2,1038.8 1356.5,1040.1 1356.8,1044.5 1357.2,1050.8 1357.5,1040.2 1357.8,1035.3 1358.1,1046.7 1358.4,1044.2 1358.7,1041.5 1359.0,1040.4 1359.3,1034.9 1359.6,1028.0 1359.9,1045.1 1360.2,1030.6 1360.5,1028.8 1360.8,1031.2 1361.1,1039.4 1361.4,1043.9 1361.8,1040.9 1362.1,1050.0 1362.4,1018.7 1362.7,1049.3 1363.0,1036.8 1363.3,1045.3 1363.6,1019.5 1363.9,1037.0 1364.2,1059.1 1364.5,1034.3 1364.8,1049.7 1365.1,1038.9 1365.4,1042.3 1365.7,1029.3 1366.0,1037.9 1366.4,1053.2 1366.7,1048.0 1367.0,1035.6 1367.3,1040.8 1367.6,1038.2 1367.9,1045.3 1368.2,1046.7 1368.5,1042.3 1368.8,1038.1 1369.1,1042.1 1369.4,1040.8 1369.7,1039.8 1370.0,1039.0 1370.3,1028.7 1370.6,1034.6 1371.0,1033.6 1371.3,1043.1 1371.6,1038.6 1371.9,1042.6 1372.2,1039.8 1372.5,1029.7 1372.8,1039.3 1373.1,1037.2 1373.4,1044.1 1373.7,1035.3 1374.0,1044.6 1374.3,1031.3 1374.6,1042.9 1374.9,1039.3 1375.2,1035.1 1375.6,1028.1 1375.9,1025.0 1376.2,1054.1 1376.5,1029.6 1376.8,1045.5 1377.1,1034.0 1377.4,1041.0 1377.7,1042.2 1378.0,1035.5 1378.3,1042.5 1378.6,1030.5 1378.9,1044.8 1379.2,1047.4 1379.5,1033.9 1379.8,1039.8 1380.2,1040.8 1380.5,1040.0 1380.8,1039.8 1381.1,1035.4 1381.4,1039.4 1381.7,1033.3 1382.0,1033.3 1382.3,1042.8 1382.6,1033.9 1382.9,1034.3 1383.2,1033.8 1383.5,1044.6 1383.8,1029.5 1384.1,1048.4 1384.4,1054.3 1384.8,1038.5 1385.1,1042.1 1385.4,1051.6 1385.7,1035.7 1386.0,1034.8 1386.3,1044.4 1386.6,1039.5 1386.9,1056.9 1387.2,1030.3 1387.5,1025.9 1387.8,1040.4 1388.1,1037.3 1388.4,1028.9 1388.7,1045.6 1389.0,1040.3 1389.4,1056.1 1389.7,1027.0 1390.0,1029.2 1390.3,1038.4 1390.6,1036.0 1390.9,1050.6 1391.2,1041.1 1391.5,1047.4 1391.8,1032.1 1392.1,1042.1 1392.4,1043.8 1392.7,1043.1 1393.0,1041.5 1393.3,1039.3 1393.6,1059.9 1394.0,1042.0 1394.3,1041.9 1394.6,1036.4 1394.9,1040.1 1395.2,1043.5 1395.5,1031.8 1395.8,1051.8 1396.1,1040.5 1396.4,1049.8 1396.7,1031.5 1397.0,1046.7 1397.3,1030.1 1397.6,1044.4 1397.9,1048.3 1398.2,1056.3 1398.6,1029.3 1398.9,1047.3 1399.2,1051.7 1399.5,1033.3 1399.8,1030.4 1400.1,1033.4 1400.4,1042.3 1400.7,1033.7 1401.0,1030.6 1401.3,1046.6 1401.6,1042.7 1401.9,1037.4 1402.2,1042.4 1402.5,1027.1 1402.8,1036.0 1403.2,1041.6 1403.5,1042.6 1403.8,1032.9 1404.1,1044.2 1404.4,1026.1 1404.7,1036.2 1405.0,1033.5 1405.3,1050.2 1405.6,1057.9 1405.9,1042.9 1406.2,1026.2 1406.5,1027.8 1406.8,1046.2 1407.1,1053.6 1407.4,1037.0 1407.8,1043.0 1408.1,1030.5 1408.4,1029.7 1408.7,1048.0 1409.0,1052.4 1409.3,1042.9 1409.6,1041.7 1409.9,1041.0 1410.2,1037.4 1410.5,1037.7 1410.8,1050.1 1411.1,1043.5 1411.4,1042.5 1411.7,1042.0 1412.0,1033.1 1412.4,1036.7 1412.7,1042.5 1413.0,1036.1 1413.3,1029.3 1413.6,1045.3 1413.9,1042.3 1414.2,1034.4 1414.5,1038.7 1414.8,1045.5 1415.1,1040.6 1415.4,1044.9 1415.7,1042.0 1416.0,1044.9 1416.3,1042.9 1416.6,1044.1 1417.0,1047.0 1417.3,1047.7 1417.6,1052.6 1417.9,1052.7 1418.2,1038.9 1418.5,1026.4 1418.8,1039.9 1419.1,1049.5 1419.4,1041.4 1419.7,1036.0 1420.0,1028.8 1420.3,1036.7 1420.6,1043.2 1420.9,1045.5 1421.2,1037.0 1421.6,1030.7 1421.9,1049.3 1422.2,1027.0 1422.5,1054.2 1422.8,1041.7 1423.1,1037.8 1423.4,1034.3 1423.7,1041.5 1424.0,1033.7 1424.3,1043.7 1424.6,1036.5 1424.9,1045.0 1425.2,1034.4 1425.5,1031.5 1425.9,1030.6 1426.2,1050.8 1426.5,1041.3 1426.8,1040.3 1427.1,1053.1 1427.4,1034.5 1427.7,1046.0 1428.0,1043.7 1428.3,1043.6 1428.6,1047.2 1428.9,1045.7 1429.2,1054.2 1429.5,1036.7 1429.8,1030.7 1430.1,1043.8 1430.5,1034.8 1430.8,1048.4 1431.1,1039.0 1431.4,1048.9 1431.7,1055.8 1432.0,1042.3 1432.3,1040.5 1432.6,1038.6 1432.9,1042.9 1433.2,1035.8 1433.5,1046.8 1433.8,1049.2 1434.1,1033.7 1434.4,1058.5 1434.7,1038.4 1435.1,1043.0 1435.4,1043.4 1435.7,1035.4 1436.0,1054.8 1436.3,1025.0 1436.6,1037.2 1436.9,1030.0 1437.2,1041.9 1437.5,1049.4 1437.8,1047.4 1438.1,1031.3 1438.4,1038.9 1438.7,1038.2 1439.0,1038.4 1439.3,1030.4 1439.7,1043.9 1440.0,1022.8 1440.3,1057.3 1440.6,1041.6 1440.9,1037.5 1441.2,1035.5 1441.5,1050.9 1441.8,1038.3 1442.1,1049.8 1442.4,1033.6 1442.7,1039.2 1443.0,1036.8 1443.3,1042.6 1443.6,1047.7 1443.9,1031.6 1444.3,1049.6 1444.6,1035.7 1444.9,1043.1 1445.2,1029.4 1445.5,1038.2 1445.8,1037.6 1446.1,1041.5 1446.4,1053.0 1446.7,1046.5 1447.0,1042.4 1447.3,1045.0 1447.6,1043.3 1447.9,1038.1 1448.2,1042.3 1448.5,1053.7 1448.9,1045.9 1449.2,1043.7 1449.5,1052.6 1449.8,1035.1 1450.1,1037.8 1450.4,1031.2 1450.7,1043.8 1451.0,1040.9 1451.3,1030.1 1451.6,1036.7 1451.9,1038.4 1452.2,1036.4 1452.5,1055.3 1452.8,1044.2 1453.1,1041.8 1453.5,1047.2 1453.8,1047.9 1454.1,1028.8 1454.4,1033.5 1454.7,1040.0 1455.0,1021.6 1455.3,1042.0 1455.6,1037.8 1455.9,1035.0 1456.2,1040.6 1456.5,1047.0 1456.8,1045.0 1457.1,1039.8 1457.4,1040.9 1457.7,1046.0 1458.1,1035.5 1458.4,1044.6 1458.7,1035.7 1459.0,1039.4 1459.3,1045.0 1459.6,1040.0 1459.9,1029.7 1460.2,1039.9 1460.5,1030.6 1460.8,1035.2 1461.1,1036.7 1461.4,1040.9 1461.7,1035.1 1462.0,1051.8 1462.3,1042.8 1462.7,1044.3 1463.0,1041.4 1463.3,1043.8 1463.6,1033.7 1463.9,1037.1 1464.2,1049.0 1464.5,1047.9 1464.8,1042.9 1465.1,1053.5 1465.4,1031.5 1465.7,1030.1 1466.0,1032.4 1466.3,1045.3 1466.6,1025.6 1466.9,1044.9 1467.3,1035.0 1467.6,1046.7 1467.9,1048.2 1468.2,1041.4 1468.5,1031.8 1468.8,1032.9 1469.1,1050.2 1469.4,1046.6 1469.7,1039.2 1470.0,1041.6 1470.3,1054.0 1470.6,1043.9 1470.9,1052.0 1471.2,1038.1 1471.5,1037.4 1471.9,1037.5 1472.2,1039.6 1472.5,1050.5 1472.8,1032.9 1473.1,1050.2 1473.4,1035.4 1473.7,1045.8 1474.0,1034.3 1474.3,1039.6 1474.6,1062.2 1474.9,1035.9 1475.2,1042.6 1475.5,1039.2 1475.8,1026.5 1476.1,1046.3 1476.5,1037.3 1476.8,1031.0 1477.1,1037.0 1477.4,1048.4 1477.7,1026.1 1478.0,1049.7 1478.3,1026.7 1478.6,1045.5 1478.9,1033.8 1479.2,1030.6 1479.5,1055.6 1479.8,1042.3 1480.1,1043.8 1480.4,1032.9 1480.7,1050.3 1481.1,1048.4 1481.4,1042.2 1481.7,1037.2 1482.0,1046.8 1482.3,1036.1 1482.6,1047.5 1482.9,1047.2 1483.2,1048.6 1483.5,1025.2 1483.8,1043.7 1484.1,1039.2 1484.4,1036.3 1484.7,1047.6 1485.0,1036.6 1485.3,1040.9 1485.7,1044.8 1486.0,1040.0 1486.3,1052.2 1486.6,1044.8 1486.9,1049.4 1487.2,1031.8 1487.5,1047.1 1487.8,1042.1 1488.1,1051.5 1488.4,1040.3 1488.7,1045.4 1489.0,1035.9 1489.3,1038.1 1489.6,1034.6 1490.0,1055.5 1490.3,1037.5 1490.6,1041.9 1490.9,1040.6 1491.2,1040.5 1491.5,1047.2 1491.8,1044.7 1492.1,1041.0 1492.4,1042.8 1492.7,1051.9 1493.0,1036.9 1493.3,1032.4 1493.6,1037.6 1493.9,1046.5 1494.2,1048.9 1494.6,1036.4 1494.9,1044.3 1495.2,1037.2 1495.5,1045.6 1495.8,1037.0 1496.1,1045.2 1496.4,1041.3 1496.7,1029.0 1497.0,1039.2 1497.3,1037.4 1497.6,1058.3 1497.9,1037.9 1498.2,1047.3 1498.5,1032.6 1498.8,1059.3 1499.2,1049.9 1499.5,1040.0 1499.8,1034.1 1500.1,1039.1 1500.4,1033.4 1500.7,1047.3 1501.0,1026.2 1501.3,1044.5 1501.6,1056.3 1501.9,1047.4 1502.2,1054.2 1502.5,1044.3 1502.8,1041.5 1503.1,1040.3 1503.4,1038.3 1503.8,1056.4 1504.1,1037.4 1504.4,1035.8 1504.7,1045.2 1505.0,1042.0 1505.3,1049.9 1505.6,1049.8 1505.9,1059.8 1506.2,1020.5 1506.5,1044.9 1506.8,1041.0 1507.1,1039.1 1507.4,1043.8 1507.7,1043.2 1508.0,1045.0 1508.4,1044.1 1508.7,1053.0 1509.0,1058.2 1509.3,1037.2 1509.6,1042.9 1509.9,1046.3 1510.2,1042.0 1510.5,1036.8 1510.8,1044.2 1511.1,1031.4 1511.4,1047.1 1511.7,1033.5 1512.0,1036.7 1512.3,1041.5 1512.6,1056.2 1513.0,1054.1 1513.3,1047.1 1513.6,1053.2 1513.9,1047.6 1514.2,1037.4 1514.5,1042.2 1514.8,1042.1 1515.1,1038.6 1515.4,1047.4 1515.7,1039.7 1516.0,1038.0 1516.3,1041.4 1516.6,1042.7 1516.9,1033.8 1517.2,1050.3 1517.6,1046.8 1517.9,1030.0 1518.2,1038.7 1518.5,1058.0 1518.8,1033.5 1519.1,1044.6 1519.4,1050.0 1519.7,1032.1 1520.0,1051.7 1520.3,1042.9 1520.6,1045.1 1520.9,1041.4 1521.2,1050.5 1521.5,1051.3 1521.8,1054.9 1522.2,1041.0 1522.5,1040.3 1522.8,1046.9 1523.1,1039.1 1523.4,1045.3 1523.7,1035.3 1524.0,1037.7 1524.3,1044.0 1524.6,1043.1 1524.9,1031.5 1525.2,1031.6 1525.5,1048.6 1525.8,1041.5 1526.1,1045.7 1526.4,1042.6 1526.8,1026.6 1527.1,1043.5 1527.4,1067.4 1527.7,1042.5 1528.0,1035.5 1528.3,1033.7 1528.6,1044.6 1528.9,1052.2 1529.2,1033.5 1529.5,1052.6 1529.8,1053.0 1530.1,1042.3 1530.4,1058.3 1530.7,1038.9 1531.0,1037.7 1531.4,1042.9 1531.7,1049.6 1532.0,1041.1 1532.3,1040.8 1532.6,1049.1 1532.9,1034.7 1533.2,1039.4 1533.5,1056.4 1533.8,1039.8 1534.1,1045.5 1534.4,1040.7 1534.7,1045.7 1535.0,1041.4 1535.3,1041.1 1535.6,1033.5 1536.0,1047.2 1536.3,1049.6 1536.6,1041.9 1536.9,1046.0 1537.2,1046.9 1537.5,1042.5 1537.8,1049.9 1538.1,1040.2 1538.4,1047.0 1538.7,1041.3 1539.0,1032.2 1539.3,1028.9 1539.6,1039.2 1539.9,1030.3 1540.2,1040.5 1540.6,1044.5 1540.9,1036.1 1541.2,1035.9 1541.5,1055.7 1541.8,1043.0 1542.1,1041.7 1542.4,1043.4 1542.7,1036.4 1543.0,1028.7 1543.3,1049.9 1543.6,1027.9 1543.9,1039.0 1544.2,1044.3 1544.5,1045.3 1544.8,1042.2 1545.2,1028.0 1545.5,1044.1 1545.8,1048.6 1546.1,1036.5 1546.4,1040.8 1546.7,1050.0 1547.0,1038.2 1547.3,1044.3 1547.6,1038.3 1547.9,1045.1 1548.2,1049.0 1548.5,1041.1 1548.8,1033.5 1549.1,1039.0 1549.4,1041.6 1549.8,1040.7 1550.1,1040.4 1550.4,1049.9 1550.7,1043.0 1551.0,1046.5 1551.3,1048.1 1551.6,1050.0 1551.9,1045.1 1552.2,1043.4 1552.5,1044.8 1552.8,1048.7 1553.1,1043.1 1553.4,1032.7 1553.7,1053.7 1554.0,1041.4 1554.4,1049.4 1554.7,1032.3 1555.0,1044.6 1555.3,1032.2 1555.6,1044.6 1555.9,1047.1 1556.2,1042.6 1556.5,1037.0 1556.8,1054.8 1557.1,1045.5 1557.4,1032.8 1557.7,1037.1 1558.0,1056.7 1558.3,1033.4 1558.7,1030.6 1559.0,1056.2 1559.3,1043.9 1559.6,1058.3 1559.9,1039.5 1560.2,1045.9 1560.5,1047.8 1560.8,1044.9 1561.1,1037.6 1561.4,1050.4 1561.7,1049.2 1562.0,1048.0 1562.3,1039.6 1562.6,1039.9 1562.9,1034.7 1563.3,1038.1 1563.6,1040.2 1563.9,1051.8 1564.2,1044.7 1564.5,1045.6 1564.8,1052.3 1565.1,1036.3 1565.4,1058.4 1565.7,1046.2 1566.0,1057.4 1566.3,1052.3 1566.6,1039.2 1566.9,1044.5 1567.2,1032.6 1567.5,1040.4 1567.9,1052.0 1568.2,1047.8 1568.5,1037.2 1568.8,1047.3 1569.1,1041.2 1569.4,1038.9 1569.7,1044.0 1570.0,1045.0 1570.3,1036.8 1570.6,1047.7 1570.9,1040.6 1571.2,1041.4 1571.5,1029.7 1571.8,1045.3 1572.1,1052.1 1572.5,1047.3 1572.8,1038.0 1573.1,1049.2 1573.4,1033.2 1573.7,1049.9 1574.0,1048.3 1574.3,1032.1 1574.6,1049.2 1574.9,1040.7 1575.2,1037.8 1575.5,1047.0 1575.8,1041.5 1576.1,1029.4 1576.4,1040.3 1576.7,1044.7 1577.1,1038.9 1577.4,1047.3 1577.7,1048.4 1578.0,1046.7 1578.3,1032.3 1578.6,1045.1 1578.9,1040.8 1579.2,1038.5 1579.5,1042.2 1579.8,1046.5 1580.1,1052.0 1580.4,1044.8 1580.7,1049.3 1581.0,1033.4 1581.3,1042.7 1581.7,1030.8 1582.0,1038.6 1582.3,1052.1 1582.6,1041.2 1582.9,1033.9 1583.2,1039.9 1583.5,1042.6 1583.8,1042.5 1584.1,1047.4 1584.4,1032.0 1584.7,1046.6 1585.0,1039.8 1585.3,1044.4 1585.6,1038.9 1585.9,1049.7 1586.3,1035.1 1586.6,1042.8 1586.9,1044.5 1587.2,1044.2 1587.5,1040.9 1587.8,1032.0 1588.1,1038.3 1588.4,1031.0 1588.7,1038.2 1589.0,1048.6 1589.3,1043.1 1589.6,1043.6 1589.9,1051.8 1590.2,1040.1 1590.5,1039.8 1590.9,1046.6 1591.2,1044.2 1591.5,1043.1 1591.8,1036.9 1592.1,1038.6 1592.4,1038.7 1592.7,1042.7 1593.0,1044.7 1593.3,1045.0 1593.6,1032.5 1593.9,1046.8 1594.2,1031.6 1594.5,1043.4 1594.8,1038.5 1595.1,1033.7 1595.5,1034.7 1595.8,1030.7 1596.1,1037.8 1596.4,1042.0 1596.7,1038.7 1597.0,1039.4 1597.3,1042.7 1597.6,1037.4 1597.9,1035.8 1598.2,1040.1 1598.5,1044.3 1598.8,1023.6 1599.1,1040.9 1599.4,1040.7 1599.7,1028.4 1600.1,1055.1 1600.4,1048.2 1600.7,1042.2 1601.0,1043.9 1601.3,1053.5 1601.6,1044.0 1601.9,1050.5 1602.2,1042.4 1602.5,1041.4 1602.8,1042.9 1603.1,1035.9 1603.4,1047.2 1603.7,1037.7 1604.0,1050.5 1604.3,1042.2 1604.7,1036.3 1605.0,1059.6 1605.3,1030.8 1605.6,1029.8 1605.9,1052.6 1606.2,1035.2 1606.5,1051.2 1606.8,1045.1 1607.1,1041.2 1607.4,1045.7 1607.7,1037.3 1608.0,1028.3 1608.3,1042.5 1608.6,1053.0 1608.9,1034.4 1609.3,1036.5 1609.6,1031.0 1609.9,1049.3 1610.2,1035.0 1610.5,1035.7 1610.8,1058.3 1611.1,1034.4 1611.4,1028.2 1611.7,1055.6 1612.0,1034.8 1612.3,1031.1 1612.6,1031.9 1612.9,1048.9 1613.2,1054.0 1613.5,1039.0 1613.9,1034.6 1614.2,1042.5 1614.5,1029.0 1614.8,1039.9 1615.1,1026.3 1615.4,1043.2 1615.7,1036.3 1616.0,1028.9 1616.3,1043.9 1616.6,1040.3 1616.9,1039.6 1617.2,1041.4 1617.5,1040.6 1617.8,1027.4 1618.1,1029.3 1618.5,1038.1 1618.8,1038.2 1619.1,1033.1 1619.4,1040.8 1619.7,1037.1 1620.0,1057.3 1620.3,1040.8 1620.6,1036.2 1620.9,1040.4 1621.2,1037.8 1621.5,1033.9 1621.8,1040.9 1622.1,1038.2 1622.4,1027.5 1622.7,1028.9 1623.1,1039.4 1623.4,1039.5 1623.7,1035.8 1624.0,1021.6 1624.3,1036.6 1624.6,1029.0 1624.9,1031.2 1625.2,1033.8 1625.5,1043.1 1625.8,1037.4 1626.1,1028.2 1626.4,1042.0 1626.7,1032.5 1627.0,1029.0 1627.4,1042.6 1627.7,1026.8 1628.0,1041.6 1628.3,1023.5 1628.6,1028.9 1628.9,1039.6 1629.2,1028.0 1629.5,1024.6 1629.8,1029.5 1630.1,1035.2 1630.4,1028.9 1630.7,1032.8 1631.0,1023.3 1631.3,1021.8 1631.6,1030.1 1632.0,1033.5 1632.3,1034.2 1632.6,1036.7 1632.9,1021.2 1633.2,1026.0 1633.5,1035.1 1633.8,1028.6 1634.1,1027.5 1634.4,1024.3 1634.7,1026.7 1635.0,1022.4 1635.3,1015.6 1635.6,1024.0 1635.9,1031.1 1636.2,1019.5 1636.6,1031.2 1636.9,1029.3 1637.2,1025.9 1637.5,1035.2 1637.8,1020.9 1638.1,1028.4 1638.4,1027.4 1638.7,1027.4 1639.0,1021.0 1639.3,1031.5 1639.6,1033.9 1639.9,1038.4 1640.2,1022.7 1640.5,1025.9 1640.8,1033.1 1641.2,1029.8 1641.5,1031.7 1641.8,1024.6 1642.1,1017.6 1642.4,1034.3 1642.7,1026.7 1643.0,1013.4 1643.3,1027.5 1643.6,1022.0 1643.9,1029.8 1644.2,1028.1 1644.5,1024.9 1644.8,1032.8 1645.1,1029.0 1645.4,1027.0 1645.8,1045.6 1646.1,1036.5 1646.4,1023.0 1646.7,1033.8 1647.0,1026.6 1647.3,1029.7 1647.6,1019.5 1647.9,1014.3 1648.2,1020.0 1648.5,1031.5 1648.8,1025.5 1649.1,1033.5 1649.4,1015.3 1649.7,1038.9 1650.0,1038.5 1650.4,1036.9 1650.7,1035.8 1651.0,1036.7 1651.3,1021.7 1651.6,1020.5 1651.9,1032.4 1652.2,1028.1 1652.5,1035.5 1652.8,1012.1 1653.1,1020.3 1653.4,1033.2 1653.7,1033.3 1654.0,1025.7 1654.3,1036.2 1654.6,1025.1 1655.0,1038.5 1655.3,1028.6 1655.6,1029.4 1655.9,1019.0 1656.2,1022.4 1656.5,1031.2 1656.8,1026.4 1657.1,1027.6 1657.4,1020.9 1657.7,1029.1 1658.0,1033.0 1658.3,1037.0 1658.6,1032.1 1658.9,1044.8 1659.2,1034.3 1659.6,1030.7 1659.9,1037.0 1660.2,1040.6 1660.5,1030.5 1660.8,1043.4 1661.1,1033.0 1661.4,1032.6 1661.7,1023.8 1662.0,1038.6 1662.3,1050.4 1662.6,1043.5 1662.9,1033.5 1663.2,1033.5 1663.5,1034.1 1663.8,1025.1 1664.2,1026.1 1664.5,1040.3 1664.8,1034.8 1665.1,1034.1 1665.4,1039.5 1665.7,1037.4 1666.0,1034.9 1666.3,1034.9 1666.6,1039.2 1666.9,1025.0 1667.2,1034.6 1667.5,1036.6 1667.8,1048.0 1668.1,1048.1 1668.4,1041.7 1668.8,1038.4 1669.1,1039.6 1669.4,1046.5 1669.7,1029.8 1670.0,1042.5 1670.3,1036.3 1670.6,1048.8 1670.9,1050.2 1671.2,1032.2 1671.5,1035.9 1671.8,1055.1 1672.1,1052.0 1672.4,1049.0 1672.7,1041.1 1673.0,1029.5 1673.4,1026.6 1673.7,1038.1 1674.0,1041.8 1674.3,1044.0 1674.6,1032.6 1674.9,1028.7 1675.2,1043.7 1675.5,1060.2 1675.8,1058.2 1676.1,1043.5 1676.4,1037.6 1676.7,1048.1 1677.0,1037.3 1677.3,1052.7 1677.6,1038.7 1678.0,1056.1 1678.3,1037.2 1678.6,1039.5 1678.9,1034.7 1679.2,1044.4 1679.5,1047.2 1679.8,1047.1 1680.1,1045.6 1680.4,1037.2 1680.7,1047.8 1681.0,1053.7 1681.3,1046.5 1681.6,1053.9 1681.9,1040.0 1682.2,1038.9 1682.6,1049.4 1682.9,1033.7 1683.2,1035.2 1683.5,1041.5 1683.8,1050.3 1684.1,1040.6 1684.4,1032.9 1684.7,1052.3 1685.0,1041.7 1685.3,1045.4 1685.6,1042.8 1685.9,1041.7 1686.2,1050.2 1686.5,1037.2 1686.8,1047.4 1687.2,1048.9 1687.5,1045.0 1687.8,1048.9 1688.1,1032.1 1688.4,1050.1 1688.7,1050.1 1689.0,1050.9 1689.3,1038.0 1689.6,1038.0 1689.9,1033.9 1690.2,1039.5 1690.5,1048.2 1690.8,1035.5 1691.1,1040.1 1691.4,1049.0 1691.8,1039.7 1692.1,1056.2 1692.4,1049.1 1692.7,1055.4 1693.0,1048.3 1693.3,1042.8 1693.6,1052.1 1693.9,1051.3 1694.2,1049.8 1694.5,1047.6 1694.8,1057.5 1695.1,1044.7 1695.4,1035.3 1695.7,1047.4 1696.1,1041.5 1696.4,1049.1 1696.7,1050.5 1697.0,1059.9 1697.3,1046.8 1697.6,1050.1 1697.9,1048.4 1698.2,1049.2 1698.5,1052.4 1698.8,1059.7 1699.1,1057.4 1699.4,1046.4 1699.7,1033.7 1700.0,1041.6 1700.3,1051.4 1700.7,1048.0 1701.0,1053.7 1701.3,1055.9 1701.6,1057.3 1701.9,1047.1 1702.2,1058.0 1702.5,1033.3 1702.8,1045.7 1703.1,1052.6 1703.4,1045.0 1703.7,1045.6 1704.0,1060.7 1704.3,1037.8 1704.6,1062.2 1704.9,1043.7 1705.3,1048.3 1705.6,1041.4 1705.9,1053.7 1706.2,1047.7 1706.5,1041.9 1706.8,1044.8 1707.1,1031.8 1707.4,1044.9 1707.7,1044.0 1708.0,1061.2 1708.3,1043.8 1708.6,1047.8 1708.9,1046.2 1709.2,1050.9 1709.5,1055.9 1709.9,1043.8 1710.2,1050.0 1710.5,1050.9 1710.8,1056.9 1711.1,1050.2 1711.4,1054.9 1711.7,1049.9 1712.0,1051.8 1712.3,1047.7 1712.6,1044.8 1712.9,1053.7 1713.2,1045.5 1713.5,1041.3 1713.8,1057.0 1714.1,1040.0 1714.5,1067.1 1714.8,1048.8 1715.1,1044.7 1715.4,1046.2 1715.7,1047.3 1716.0,1047.7 1716.3,1055.6 1716.6,1057.8 1716.9,1064.0 1717.2,1056.3 1717.5,1049.4 1717.8,1051.9 1718.1,1047.6 1718.4,1071.1 1718.7,1046.3 1719.1,1045.1 1719.4,1062.5 1719.7,1051.9 1720.0,1050.6 1720.3,1038.1 1720.6,1053.7 1720.9,1054.7 1721.2,1048.5 1721.5,1049.7 1721.8,1049.0 1722.1,1051.8 1722.4,1050.1 1722.7,1055.5 1723.0,1052.0 1723.3,1048.6 1723.7,1050.1 1724.0,1050.6 1724.3,1049.0 1724.6,1051.6 1724.9,1050.9 1725.2,1051.6 1725.5,1039.1 1725.8,1052.8 1726.1,1050.9 1726.4,1063.1 1726.7,1050.0 1727.0,1050.4 1727.3,1049.0 1727.6,1054.5 1727.9,1061.5 1728.3,1045.8 1728.6,1052.8 1728.9,1059.9 1729.2,1054.9 1729.5,1038.6 1729.8,1034.3 1730.1,1056.2 1730.4,1044.3 1730.7,1060.6 1731.0,1056.0 1731.3,1061.2 1731.6,1055.5 1731.9,1061.9 1732.2,1055.1 1732.5,1052.7 1732.9,1054.3 1733.2,1050.1 1733.5,1056.2 1733.8,1036.9 1734.1,1057.3 1734.4,1053.9 1734.7,1046.0 1735.0,1062.1 1735.3,1040.5 1735.6,1042.2 1735.9,1058.7 1736.2,1048.9 1736.5,1050.0 1736.8,1051.0 1737.1,1052.4 1737.5,1060.2 1737.8,1055.3 1738.1,1056.4 1738.4,1061.3 1738.7,1058.8 1739.0,1051.7 1739.3,1045.7 1739.6,1046.7 1739.9,1053.6 1740.2,1055.5 1740.5,1050.8 1740.8,1059.7 1741.1,1057.7 1741.4,1043.8 1741.7,1051.9 1742.1,1051.0 1742.4,1054.1 1742.7,1045.8 1743.0,1048.5 1743.3,1041.2 1743.6,1049.4 1743.9,1046.9 1744.2,1059.2 1744.5,1058.0 1744.8,1061.8 1745.1,1056.0 1745.4,1047.1 1745.7,1061.9 1746.0,1047.1 1746.3,1057.2 1746.7,1059.7 1747.0,1054.2 1747.3,1050.5 1747.6,1052.8 1747.9,1048.9 1748.2,1055.9 1748.5,1050.6 1748.8,1058.8 1749.1,1050.0 1749.4,1041.1 1749.7,1055.6 1750.0,1053.6 1750.3,1063.2 1750.6,1068.3 1750.9,1058.4 1751.3,1050.7 1751.6,1041.5 1751.9,1065.0 1752.2,1050.0 1752.5,1062.5 1752.8,1038.9 1753.1,1064.2 1753.4,1049.9 1753.7,1057.7 1754.0,1050.3 1754.3,1055.4 1754.6,1058.0 1754.9,1049.1 1755.2,1055.7 1755.5,1046.9 1755.9,1046.8 1756.2,1051.0 1756.5,1056.7 1756.8,1059.8 1757.1,1056.0 1757.4,1063.5 1757.7,1060.7 1758.0,1039.8 1758.3,1046.7 1758.6,1056.9 1758.9,1056.6 1759.2,1061.3 1759.5,1057.0 1759.8,1048.4 1760.1,1052.7 1760.5,1057.6 1760.8,1057.3 1761.1,1061.2 1761.4,1061.1 1761.7,1064.2 1762.0,1055.3 1762.3,1056.7 1762.6,1058.7 1762.9,1046.5 1763.2,1048.9 1763.5,1057.7 1763.8,1067.5 1764.1,1051.7 1764.4,1059.0 1764.8,1056.6 1765.1,1057.0 1765.4,1061.7 1765.7,1058.4 1766.0,1052.7 1766.3,1061.8 1766.6,1062.5 1766.9,1056.0 1767.2,1046.7 1767.5,1061.1 1767.8,1044.0 1768.1,1059.1 1768.4,1055.6 1768.7,1055.6 1769.0,1056.5 1769.4,1065.0 1769.7,1055.7 1770.0,1068.9 1770.3,1052.7 1770.6,1051.5 1770.9,1062.7 1771.2,1056.9 1771.5,1061.9 1771.8,1056.4 1772.1,1055.9 1772.4,1058.8 1772.7,1058.2 1773.0,1056.9 1773.3,1049.0 1773.6,1047.8 1774.0,1068.3 1774.3,1054.2 1774.6,1051.3 1774.9,1055.0 1775.2,1053.0 1775.5,1056.7 1775.8,1053.0 1776.1,1058.4 1776.4,1046.6 1776.7,1061.6 1777.0,1067.5 1777.3,1052.3 1777.6,1062.0 1777.9,1067.5 1778.2,1058.2 1778.6,1051.8 1778.9,1072.6 1779.2,1064.2 1779.5,1059.3 1779.8,1052.2 1780.1,1047.5 1780.4,1053.4 1780.7,1069.7 1781.0,1052.0 1781.3,1067.4 1781.6,1058.7 1781.9,1059.3 1782.2,1058.5 1782.5,1057.1 1782.8,1068.9 1783.2,1050.6 1783.5,1053.4 1783.8,1067.3 1784.1,1060.4 1784.4,1060.6 1784.7,1064.0 1785.0,1051.6 1785.3,1061.6 1785.6,1049.4 1785.9,1055.9 1786.2,1055.3 1786.5,1059.5 1786.8,1064.9 1787.1,1063.4 1787.4,1057.0 1787.8,1057.0 1788.1,1066.6 1788.4,1048.7 1788.7,1058.3 1789.0,1067.6 1789.3,1054.5 1789.6,1056.9 1789.9,1060.6 1790.2,1072.9 1790.5,1071.8 1790.8,1064.0 1791.1,1067.1 1791.4,1053.2 1791.7,1056.1 1792.0,1051.3 1792.4,1055.7 1792.7,1062.9 1793.0,1061.8 1793.3,1060.6 1793.6,1065.0 1793.9,1058.3 1794.2,1060.1 1794.5,1068.3 1794.8,1066.3 1795.1,1064.9 1795.4,1056.1 1795.7,1054.6 1796.0,1072.6 1796.3,1061.9 1796.6,1060.1 1797.0,1070.9 1797.3,1058.7 1797.6,1065.0 1797.9,1055.7 1798.2,1058.3 1798.5,1073.9 1798.8,1062.6 1799.1,1056.2 1799.4,1067.6 1799.7,1059.4 1800.0,1056.4 1800.3,1068.3 1800.6,1066.6 1800.9,1062.1 1801.2,1065.1 1801.6,1060.4 1801.9,1071.8 1802.2,1068.1 1802.5,1057.0 1802.8,1067.9 1803.1,1053.4 1803.4,1055.0 1803.7,1059.4 1804.0,1051.1 1804.3,1062.3 1804.6,1066.6 1804.9,1063.5 1805.2,1066.2 1805.5,1067.3 1805.8,1060.6 1806.2,1081.7 1806.5,1067.5 1806.8,1066.0 1807.1,1060.4 1807.4,1062.2 1807.7,1060.0 1808.0,1061.3 1808.3,1046.7 1808.6,1063.7 1808.9,1053.1 1809.2,1058.0 1809.5,1060.6 1809.8,1062.8 1810.1,1063.4 1810.4,1064.4 1810.8,1066.7 1811.1,1063.4 1811.4,1067.2 1811.7,1067.1 1812.0,1054.2 1812.3,1065.6 1812.6,1073.3 1812.9,1057.3 1813.2,1069.7 1813.5,1056.4 1813.8,1056.3 1814.1,1065.3 1814.4,1065.7 1814.7,1057.7 1815.0,1069.2 1815.4,1065.6 1815.7,1064.8 1816.0,1063.9 1816.3,1059.6 1816.6,1067.3 1816.9,1066.7 1817.2,1061.3 1817.5,1067.9 1817.8,1061.8 1818.1,1069.7 1818.4,1063.4 1818.7,1061.0 1819.0,1063.5 1819.3,1068.6 1819.6,1076.0 1820.0,1058.9 1820.3,1065.3 1820.6,1058.5 1820.9,1058.6 1821.2,1061.0 1821.5,1059.3 1821.8,1074.9 1822.1,1066.4 1822.4,1060.3 1822.7,1060.5 1823.0,1065.2 1823.3,1064.5 1823.6,1060.8 1823.9,1061.5 1824.2,1075.3 1824.6,1057.4 1824.9,1067.4 1825.2,1044.8 1825.5,1064.5 1825.8,1067.4 1826.1,1067.4 1826.4,1059.3 1826.7,1060.5 1827.0,1076.1 1827.3,1057.2 1827.6,1058.6 1827.9,1066.6 1828.2,1072.5 1828.5,1052.8 1828.8,1062.7 1829.2,1065.7 1829.5,1076.5 1829.8,1065.7 1830.1,1060.2 1830.4,1057.6 1830.7,1068.8 1831.0,1066.4 1831.3,1065.9 1831.6,1065.6 1831.9,1057.0 1832.2,1067.0 1832.5,1060.6 1832.8,1064.5 1833.1,1064.0 1833.5,1059.2 1833.8,1055.2 1834.1,1059.1 1834.4,1062.5 1834.7,1069.7 1835.0,1063.8 1835.3,1055.1 1835.6,1063.4 1835.9,1059.9 1836.2,1066.3 1836.5,1064.4 1836.8,1059.3 1837.1,1065.9 1837.4,1059.6 1837.7,1061.6 1838.1,1056.4 1838.4,1056.2 1838.7,1076.3 1839.0,1063.4 1839.3,1062.5 1839.6,1051.8 1839.9,1065.0 1840.2,1058.7 1840.5,1051.8 1840.8,1063.7 1841.1,1069.2 1841.4,1068.4 1841.7,1065.1 1842.0,1063.7 1842.3,1066.6 1842.7,1057.9 1843.0,1073.1 1843.3,1056.7 1843.6,1061.2 1843.9,1061.9 1844.2,1055.9 1844.5,1064.4 1844.8,1063.6 1845.1,1058.4 1845.4,1058.2 1845.7,1070.6 1846.0,1050.7 1846.3,1062.6 1846.6,1068.7 1846.9,1068.9 1847.3,1064.4 1847.6,1055.0 1847.9,1061.3 1848.2,1056.2 1848.5,1055.4 1848.8,1065.4 1849.1,1054.8 1849.4,1068.0 1849.7,1052.6 1850.0,1062.5 1850.3,1064.2 1850.6,1061.2 1850.9,1072.2 1851.2,1057.6 1851.5,1063.2 1851.9,1067.6 1852.2,1068.1 1852.5,1061.2 1852.8,1067.7 1853.1,1066.1 1853.4,1070.6 1853.7,1053.6 1854.0,1067.8 1854.3,1060.7 1854.6,1062.7 1854.9,1062.6 1855.2,1063.2 1855.5,1067.7 1855.8,1069.2 1856.1,1067.2 1856.5,1065.5 1856.8,1070.1 1857.1,1054.1 1857.4,1067.3 1857.7,1069.9 1858.0,1071.0 1858.3,1074.0 1858.6,1070.8 1858.9,1068.3 1859.2,1066.7 1859.5,1068.7 1859.8,1061.8 1860.1,1068.7 1860.4,1063.4 1860.7,1051.2 1861.1,1065.0 1861.4,1058.4 1861.7,1069.6 1862.0,1068.6 1862.3,1069.3 1862.6,1058.3 1862.9,1069.5 1863.2,1066.9 1863.5,1059.3 1863.8,1060.7 1864.1,1065.6 1864.4,1061.5 1864.7,1068.2 1865.0,1064.8 1865.3,1075.9 1865.7,1071.0 1866.0,1070.3 1866.3,1065.5 1866.6,1070.8 1866.9,1067.0 1867.2,1056.1 1867.5,1066.3 1867.8,1068.0 1868.1,1061.7 1868.4,1068.2 1868.7,1066.3 1869.0,1055.2 1869.3,1065.4 1869.6,1076.0 1869.9,1062.8 1870.3,1060.9 1870.6,1060.8 1870.9,1073.0 1871.2,1062.3 1871.5,1064.0 1871.8,1066.3 1872.1,1071.5 1872.4,1062.6 1872.7,1063.2 1873.0,1060.1 1873.3,1075.1 1873.6,1060.6 1873.9,1069.0 1874.2,1060.1 1874.5,1059.1 1874.9,1067.1 1875.2,1073.1 1875.5,1066.0 1875.8,1062.8 1876.1,1070.5 1876.4,1066.4 1876.7,1063.9 1877.0,1066.7 1877.3,1070.0 1877.6,1078.9 1877.9,1064.2 1878.2,1070.1 1878.5,1073.8 1878.8,1070.9 1879.1,1064.8 1879.5,1076.1 1879.8,1068.7 1880.1,1074.2 1880.4,1071.4 1880.7,1061.7 1881.0,1074.7 1881.3,1077.2 1881.6,1059.3 1881.9,1063.5 1882.2,1067.6 1882.5,1070.7 1882.8,1071.4 1883.1,1061.6 1883.4,1076.3 1883.7,1067.9 1884.1,1060.1 1884.4,1066.0 1884.7,1079.7 1885.0,1064.7 1885.3,1067.1 1885.6,1063.5 1885.9,1064.4 1886.2,1064.8 1886.5,1076.8 1886.8,1072.9 1887.1,1077.8 1887.4,1067.0 1887.7,1073.8 1888.0,1062.9 1888.3,1065.1 1888.7,1068.7 1889.0,1073.6 1889.3,1059.7 1889.6,1069.7 1889.9,1058.5 1890.2,1062.6 1890.5,1068.5 1890.8,1063.0 1891.1,1070.8 1891.4,1075.6 1891.7,1069.0 1892.0,1084.7 1892.3,1073.3 1892.6,1067.4 1892.9,1062.0 1893.3,1074.3 1893.6,1072.2 1893.9,1070.1 1894.2,1066.6 1894.5,1073.3 1894.8,1066.3 1895.1,1078.3 1895.4,1078.6 1895.7,1074.5 1896.0,1074.8 1896.3,1074.0 1896.6,1071.4 1896.9,1068.8 1897.2,1072.2 1897.5,1049.5 1897.9,1074.6 1898.2,1076.0 1898.5,1061.1 1898.8,1078.3 1899.1,1073.3 1899.4,1074.1 1899.7,1060.3 1900.0,1061.5 1900.3,1070.1 1900.6,1075.6 1900.9,1077.5 1901.2,1072.5 1901.5,1074.1 1901.8,1074.0 1902.2,1070.4 1902.5,1073.2 1902.8,1069.1 1903.1,1072.1 1903.4,1082.6 1903.7,1068.1 1904.0,1063.5 1904.3,1066.5 1904.6,1071.1 1904.9,1070.8 1905.2,1062.8 1905.5,1066.4 1905.8,1074.9 1906.1,1070.9 1906.4,1064.0 1906.8,1078.7 1907.1,1082.5 1907.4,1070.9 1907.7,1067.7 1908.0,1080.7 1908.3,1080.1 1908.6,1076.5 1908.9,1080.2 1909.2,1075.4 1909.5,1072.5 1909.8,1074.7 1910.1,1069.2 1910.4,1075.0 1910.7,1076.4 1911.0,1068.3 1911.4,1072.7 1911.7,1068.3 1912.0,1074.4 1912.3,1077.3 1912.6,1080.0 1912.9,1069.9 1913.2,1073.5 1913.5,1080.1 1913.8,1069.1 1914.1,1076.3 1914.4,1073.4 1914.7,1058.0 1915.0,1060.3 1915.3,1077.5 1915.6,1067.5 1916.0,1077.9 1916.3,1078.1 1916.6,1078.8 1916.9,1072.4 1917.2,1067.1 1917.5,1075.3 1917.8,1070.2 1918.1,1075.3 1918.4,1072.0 1918.7,1073.7 1919.0,1070.5 1919.3,1087.9 1919.6,1062.2 1919.9,1060.6 1920.2,1075.6 1920.6,1070.2 1920.9,1067.7 1921.2,1067.3 1921.5,1074.1 1921.8,1069.7 1922.1,1077.3 1922.4,1078.8 1922.7,1075.3 1923.0,1083.6 1923.3,1075.2 1923.6,1063.2 1923.9,1076.6 1924.2,1082.4 1924.5,1075.8 1924.8,1077.6 1925.2,1066.1 1925.5,1075.3 1925.8,1070.6 1926.1,1061.4 1926.4,1062.5 1926.7,1069.1 1927.0,1069.0 1927.3,1069.5 1927.6,1076.4 1927.9,1078.0 1928.2,1070.1 1928.5,1075.5 1928.8,1077.6 1929.1,1072.3 1929.4,1082.1 1929.8,1065.5 1930.1,1066.4 1930.4,1074.8 1930.7,1066.8 1931.0,1074.5 1931.3,1079.1 1931.6,1071.9 1931.9,1072.5 1932.2,1072.3 1932.5,1070.9 1932.8,1060.2 1933.1,1057.6 1933.4,1069.8 1933.7,1064.6 1934.0,1075.2 1934.4,1067.3 1934.7,1072.9 1935.0,1075.6 1935.3,1063.2 1935.6,1076.6 1935.9,1070.6 1936.2,1076.4 1936.5,1061.1"/>
<polyline class="curve" stroke="#0000ff" points="219.0,818.3 219.3,828.9 219.6,827.8 219.9,813.9 220.2,815.6 220.5,813.7 220.8,822.5 221.1,817.5 221.5,823.9 221.8,803.1 222.1,830.4 222.4,817.1 222.7,823.3 223.0,816.7 223.3,814.8 223.6,821.5 223.9,824.4 224.2,816.2 224.5,816.5 224.8,823.2 225.1,810.8 225.4,805.6 225.7,820.9 226.1,812.3 226.4,802.3 226.7,811.2 227.0,813.9 227.3,808.1 227.6,805.7 227.9,817.9 228.2,824.8 228.5,815.7 228.8,811.7 229.1,820.7 229.4,823.3 229.7,815.2 230.0,821.9 230.3,825.9 230.7,815.9 231.0,811.0 231.3,820.3 231.6,819.5 231.9,826.3 232.2,807.3 232.5,812.2 232.8,810.8 233.1,803.7 233.4,818.5 233.7,821.7 234.0,811.6 234.3,828.6 234.6,824.1 234.9,822.5 235.3,820.7 235.6,825.1 235.9,806.9 236.2,822.4 236.5,822.3 236.8,803.4 237.1,820.3 237.4,815.5 237.7,823.7 238.0,814.0 238.3,817.4 238.6,820.2 238.9,810.5 239.2,822.3 239.5,816.7 239.9,821.4 240.2,813.3 240.5,826.2 240.8,822.3 241.1,816.1 241.4,822.5 241.7,827.6 242.0,831.8 242.3,804.9 242.6,824.5 242.9,821.2 243.2,816.8 243.5,809.5 243.8,827.5 244.1,807.4 244.5,822.0 244.8,827.9 245.1,804.7 245.4,815.1 245.7,807.1 246.0,819.4 246.3,829.6 246.6,833.6 246.9,803.3 247.2,812.9 247.5,823.1 247.8,830.1 248.1,820.9 248.4,811.5 248.7,819.9 249.1,817.4 249.4,815.9 249.7,811.6 250.0,820.6 250.3,820.0 250.6,816.8 250.9,815.7 251.2,807.3 251.5,813.6 251.8,827.1 252.1,816.0 252.4,806.0 252.7,828.1 253.0,821.7 253.3,834.3 253.7,818.0 254.0,813.8 254.3,806.0 254.6,828.1 254.9,838.0 255.2,811.0 255.5,812.3 255.8,822.3 256.1,810.9 256.4,815.3 256.7,814.7 257.0,819.0 257.3,826.2 257.6,817.7 258.0,824.8 258.3,814.2 258.6,820.1 258.9,800.5 259.2,805.9 259.5,823.8 259.8,812.8 260.1,822.1 260.4,821.8 260.7,828.0 261.0,824.0 261.3,825.6 261.6,816.6 261.9,811.9 262.2,811.7 262.6,813.6 262.9,808.5 263.2,813.1 263.5,816.8 263.8,819.5 264.1,814.8 264.4,802.2 264.7,816.9 265.0,819.3 265.3,826.1 265.6,822.1 265.9,812.3 266.2,811.7 266.5,833.5 266.8,823.5 267.2,832.0 267.5,834.4 267.8,810.9 268.1,820.5 268.4,821.1 268.7,821.9 269.0,821.7 269.3,819.0 269.6,818.8 269.9,805.5 270.2,816.1 270.5,811.5 270.8,818.4 271.1,813.7 271.4,822.3 271.8,823.9 272.1,819.8 272.4,819.9 272.7,818.1 273.0,813.8 273.3,816.0 273.6,813.4 273.9,820.4 274.2,817.4 274.5,821.9 274.8,806.7 275.1,824.4 275.4,811.2 275.7,811.4 276.0,815.7 276.4,812.8 276.7,819.6 277.0,812.7 277.3,808.7 277.6,810.5 277.9,827.7 278.2,817.6 278.5,807.9 278.8,817.3 279.1,804.8 279.4,831.4 279.7,805.1 280.0,821.0 280.3,821.5 280.6,805.6 281.0,819.5 281.3,825.1 281.6,820.8 281.9,819.2 282.2,824.6 282.5,818.4 282.8,819.8 283.1,816.1 283.4,822.1 283.7,809.6 284.0,823.3 284.3,813.0 284.6,808.3 284.9,819.9 285.2,830.4 285.6,824.6 285.9,812.9 286.2,822.5 286.5,813.3 286.8,815.9 287.1,817.6 287.4,798.5 287.7,818.4 288.0,808.6 288.3,811.2 288.6,805.0 288.9,804.7 289.2,809.2 289.5,823.2 289.8,829.8 290.2,816.4 290.5,825.2 290.8,814.4 291.1,801.3 291.4,817.6 291.7,819.9 292.0,812.9 292.3,818.7 292.6,820.8 292.9,809.3 293.2,804.4 293.5,814.3 293.8,814.3 294.1,813.2 294.4,823.7 294.8,829.5 295.1,812.5 295.4,821.3 295.7,823.1 296.0,821.3 296.3,823.9 296.6,812.4 296.9,821.3 297.2,831.4 297.5,821.7 297.8,810.3 298.1,820.0 298.4,825.1 298.7,818.0 299.0,810.5 299.4,827.1 299.7,804.9 300.0,818.8 300.3,814.6 300.6,805.2 300.9,824.2 301.2,817.3 301.5,805.2 301.8,819.1 302.1,810.9 302.4,799.1 302.7,808.7 303.0,816.2 303.3,819.0 303.6,815.2 304.0,814.2 304.3,817.5 304.6,812.0 304.9,823.0 305.2,814.8 305.5,815.8 305.8,817.7 306.1,805.0 306.4,807.7 306.7,825.3 307.0,815.8 307.3,810.8 307.6,815.7 307.9,809.1 308.2,815.1 308.6,807.5 308.9,814.9 309.2,800.2 309.5,823.2 309.8,808.5 310.1,800.0 310.4,810.6 310.7,809.4 311.0,813.5 311.3,803.1 311.6,815.3 311.9,840.8 312.2,801.9 312.5,814.6 312.8,809.4 313.2,813.3 313.5,797.4 313.8,802.6 314.1,815.2 314.4,811.2 314.7,824.4 315.0,805.8 315.3,812.7 315.6,834.3 315.9,805.1 316.2,804.0 316.5,810.8 316.8,810.6 317.1,817.6 317.4,811.8 317.8,804.8 318.1,812.3 318.4,831.5 318.7,820.6 319.0,788.4 319.3,809.3 319.6,803.4 319.9,815.2 320.2,808.8 320.5,825.4 320.8,817.4 321.1,817.0 321.4,811.3 321.7,809.4 322.1,812.4 322.4,819.9 322.7,813.8 323.0,806.7 323.3,819.5 323.6,810.8 323.9,808.6 324.2,802.9 324.5,804.6 324.8,803.9 325.1,786.8 325.4,816.8 325.7,813.2 326.0,806.9 326.3,816.8 326.7,811.9 327.0,811.3 327.3,788.7 327.6,806.4 327.9,812.3 328.2,820.8 328.5,822.5 328.8,819.1 329.1,798.6 329.4,790.3 329.7,812.1 330.0,807.7 330.3,815.0 330.6,806.3 330.9,809.0 331.3,795.3 331.6,810.6 331.9,803.4 332.2,809.6 332.5,810.4 332.8,805.8 333.1,809.1 333.4,806.4 333.7,812.4 334.0,810.3 334.3,801.9 334.6,801.5 334.9,819.8 335.2,805.1 335.5,813.7 335.9,808.8 336.2,801.2 336.5,799.6 336.8,806.4 337.1,807.4 337.4,810.1 337.7,795.1 338.0,800.3 338.3,804.2 338.6,817.4 338.9,786.0 339.2,808.0 339.5,800.2 339.8,807.8 340.1,800.4 340.5,807.0 340.8,816.4 341.1,806.7 341.4,807.2 341.7,806.6 342.0,797.6 342.3,807.7 342.6,801.7 342.9,796.8 343.2,802.8 343.5,801.2 343.8,808.8 344.1,802.4 344.4,798.4 344.7,814.0 345.1,810.2 345.4,812.3 345.7,806.9 346.0,801.1 346.3,798.6 346.6,799.5 346.9,809.1 347.2,802.4 347.5,789.7 347.8,800.9 348.1,789.9 348.4,802.3 348.7,791.4 349.0,790.8 349.3,801.5 349.7,799.9 350.0,787.2 350.3,806.1 350.6,817.2 350.9,788.3 351.2,814.2 351.5,794.3 351.8,795.7 352.1,798.0 352.4,787.9 352.7,809.4 353.0,802.9 353.3,793.0 353.6,796.6 353.9,786.7 354.3,795.8 354.6,805.8 354.9,784.7 355.2,794.7 355.5,799.1 355.8,806.1 356.1,808.3 356.4,794.0 356.7,791.6 357.0,800.9 357.3,794.3 357.6,794.6 357.9,805.4 358.2,810.1 358.5,798.7 358.9,795.0 359.2,800.9 359.5,781.4 359.8,796.0 360.1,787.6 360.4,814.7 360.7,801.4 361.0,796.7 361.3,793.9 361.6,775.5 361.9,800.8 362.2,807.9 362.5,789.2 362.8,800.2 363.1,800.4 363.5,782.3 363.8,801.8 364.1,804.9 364.4,795.9 364.7,793.5 365.0,800.1 365.3,781.6 365.6,794.4 365.9,801.8 366.2,783.6 366.5,801.1 366.8,789.8 367.1,776.6 367.4,792.0 367.7,785.1 368.1,795.1 368.4,783.3 368.7,800.6 369.0,786.4 369.3,794.9 369.6,787.3 369.9,789.3 370.2,801.1 370.5,793.3 370.8,788.3 371.1,781.5 371.4,800.3 371.7,796.8 372.0,788.3 372.3,792.7 372.7,782.5 373.0,782.5 373.3,783.9 373.6,793.0 373.9,792.4 374.2,784.1 374.5,795.6 374.8,795.8 375.1,790.9 375.4,797.5 375.7,787.0 376.0,788.2 376.3,792.6 376.6,788.5 376.9,794.9 377.3,778.6 377.6,799.5 377.9,782.0 378.2,786.7 378.5,777.0 378.8,792.4 379.1,797.5 379.4,795.8 379.7,793.7 380.0,774.8 380.3,780.7 380.6,783.0 380.9,779.1 381.2,795.2 381.5,787.6 381.9,785.8 382.2,789.6 382.5,778.1 382.8,778.3 383.1,778.3 383.4,789.0 383.7,787.5 384.0,789.2 384.3,792.9 384.6,773.6 384.9,779.6 385.2,785.0 385.5,773.0 385.8,779.2 386.1,791.2 386.5,791.6 386.8,791.2 387.1,782.8 387.4,780.6 387.7,790.5 388.0,778.8 388.3,784.1 388.6,791.6 388.9,778.0 389.2,775.8 389.5,780.2 389.8,784.7 390.1,783.5 390.4,780.6 390.8,783.5 391.1,766.2 391.4,771.7 391.7,779.4 392.0,770.5 392.3,767.0 392.6,767.7 392.9,769.6 393.2,775.1 393.5,768.1 393.8,777.7 394.1,788.8 394.4,774.0 394.7,784.8 395.0,776.7 395.4,765.3 395.7,771.7 396.0,765.6 396.3,779.0 396.6,763.5 396.9,782.6 397.2,776.4 397.5,755.6 397.8,777.3 398.1,782.9 398.4,764.2 398.7,777.7 399.0,755.5 399.3,771.2 399.6,755.8 400.0,772.3 400.3,754.1 400.6,747.1 400.9,770.5 401.2,785.0 401.5,762.0 401.8,772.8 402.1,766.8 402.4,763.0 402.7,770.0 403.0,777.7 403.3,754.7 403.6,768.5 403.9,766.4 404.2,752.1 404.6,775.6 404.9,777.9 405.2,754.8 405.5,775.5 405.8,762.0 406.1,759.9 406.4,772.6 406.7,762.3 407.0,762.7 407.3,771.7 407.6,769.6 407.9,766.1 408.2,747.8 408.5,746.2 408.8,767.0 409.2,750.6 409.5,758.7 409.8,748.8 410.1,755.5 410.4,746.6 410.7,769.1 411.0,748.0 411.3,754.8 411.6,753.9 411.9,764.6 412.2,743.7 412.5,754.3 412.8,752.6 413.1,758.1 413.4,757.3 413.8,749.7 414.1,754.9 414.4,749.8 414.7,756.1 415.0,751.3 415.3,746.7 415.6,751.3 415.9,754.1 416.2,768.7 416.5,746.8 416.8,752.8 417.1,761.6 417.4,733.6 417.7,735.9 418.0,740.0 418.4,748.1 418.7,767.9 419.0,751.6 419.3,757.7 419.6,746.2 419.9,728.4 420.2,729.3 420.5,755.2 420.8,748.4 421.1,736.5 421.4,755.2 421.7,734.2 422.0,754.9 422.3,757.1 422.6,739.5 423.0,736.6 423.3,751.7 423.6,736.3 423.9,751.4 424.2,735.0 424.5,750.5 424.8,744.7 425.1,740.4 425.4,736.5 425.7,745.2 426.0,728.3 426.3,740.7 426.6,739.6 426.9,747.8 427.2,732.5 427.6,755.5 427.9,739.4 428.2,732.8 428.5,752.3 428.8,754.3 429.1,739.6 429.4,733.9 429.7,740.8 430.0,735.1 430.3,737.9 430.6,752.3 430.9,743.0 431.2,740.9 431.5,742.3 431.8,738.9 432.2,745.8 432.5,745.9 432.8,735.9 433.1,739.5 433.4,757.3 433.7,741.6 434.0,736.6 434.3,753.9 434.6,737.8 434.9,729.0 435.2,742.6 435.5,730.1 435.8,733.1 436.1,739.4 436.4,735.6 436.8,730.5 437.1,731.9 437.4,731.4 437.7,744.9 438.0,730.0 438.3,731.0 438.6,751.2 438.9,730.7 439.2,746.5 439.5,744.9 439.8,733.3 440.1,723.2 440.4,737.6 440.7,739.1 441.0,741.3 441.4,734.1 441.7,742.7 442.0,744.0 442.3,724.7 442.6,744.0 442.9,734.0 443.2,728.1 443.5,729.8 443.8,746.9 444.1,739.7 444.4,717.9 444.7,732.4 445.0,730.5 445.3,730.1 445.6,727.4 446.0,719.9 446.3,737.9 446.6,723.8 446.9,728.1 447.2,726.3 447.5,725.2 447.8,736.6 448.1,733.7 448.4,725.4 448.7,723.2 449.0,726.9 449.3,738.0 449.6,731.4 449.9,732.2 450.2,727.7 450.6,728.2 450.9,731.9 451.2,715.8 451.5,742.7 451.8,723.9 452.1,725.6 452.4,740.4 452.7,731.6 453.0,730.2 453.3,725.3 453.6,717.6 453.9,731.2 454.2,739.0 454.5,722.6 454.8,740.2 455.2,720.8 455.5,723.8 455.8,733.4 456.1,729.4 456.4,734.8 456.7,723.6 457.0,721.3 457.3,714.7 457.6,719.9 457.9,720.8 458.2,718.1 458.5,731.6 458.8,723.9 459.1,713.6 459.5,748.4 459.8,722.5 460.1,719.2 460.4,738.6 460.7,738.0 461.0,719.9 461.3,717.4 461.6,721.0 461.9,737.6 462.2,726.3 462.5,722.4 462.8,728.5 463.1,738.0 463.4,717.8 463.7,725.6 464.1,717.8 464.4,745.4 464.7,742.7 465.0,735.9 465.3,727.4 465.6,733.5 465.9,712.0 466.2,730.5 466.5,717.9 466.8,717.9 467.1,722.7 467.4,725.5 467.7,732.7 468.0,733.6 468.3,730.2 468.7,720.8 469.0,733.4 469.3,727.1 469.6,737.3 469.9,720.9 470.2,706.5 470.5,724.3 470.8,744.8 471.1,731.7 471.4,726.5 471.7,734.9 472.0,731.9 472.3,731.6 472.6,724.0 472.9,728.6 473.3,729.6 473.6,723.0 473.9,719.3 474.2,729.1 474.5,735.6 474.8,733.1 475.1,731.9 475.4,732.0 475.7,748.2 476.0,730.1 476.3,736.3 476.6,743.4 476.9,728.6 477.2,730.3 477.5,736.4 477.9,741.4 478.2,730.7 478.5,731.1 478.8,729.0 479.1,719.0 479.4,737.1 479.7,726.5 480.0,715.1 480.3,727.4 480.6,715.1 480.9,720.7 481.2,728.7 481.5,721.5 481.8,737.0 482.1,717.3 482.5,730.8 482.8,733.1 483.1,740.2 483.4,736.0 483.7,730.7 484.0,729.6 484.3,728.5 484.6,737.9 484.9,723.9 485.2,733.2 485.5,728.4 485.8,731.1 486.1,727.2 486.4,745.9 486.7,724.2 487.1,731.3 487.4,731.6 487.7,734.2 488.0,733.0 488.3,732.9 488.6,737.3 488.9,718.0 489.2,729.9 489.5,720.3 489.8,731.7 490.1,720.8 490.4,722.6 490.7,729.7 491.0,741.1 491.3,734.8 491.7,732.7 492.0,741.4 492.3,723.2 492.6,714.4 492.9,727.5 493.2,728.7 493.5,740.5 493.8,747.6 494.1,720.8 494.4,750.5 494.7,743.5 495.0,737.9 495.3,734.4 495.6,750.5 495.9,732.4 496.3,728.2 496.6,733.0 496.9,721.4 497.2,735.8 497.5,731.4 497.8,735.0 498.1,735.4 498.4,724.5 498.7,743.1 499.0,725.1 499.3,740.1 499.6,721.0 499.9,736.4 500.2,727.3 500.5,734.2 500.9,729.0 501.2,717.3 501.5,725.8 501.8,735.2 502.1,739.7 502.4,723.7 502.7,718.8 503.0,728.8 503.3,734.1 503.6,731.1 503.9,730.0 504.2,743.1 504.5,744.2 504.8,742.7 505.1,729.9 505.5,738.0 505.8,736.2 506.1,726.9 506.4,745.0 506.7,739.1 507.0,734.9 507.3,749.9 507.6,745.1 507.9,746.1 508.2,749.0 508.5,745.5 508.8,730.4 509.1,737.4 509.4,748.5 509.7,735.0 510.1,741.4 510.4,744.5 510.7,752.8 511.0,752.0 511.3,749.2 511.6,741.0 511.9,749.8 512.2,747.1 512.5,742.1 512.8,754.2 513.1,747.8 513.4,738.4 513.7,754.4 514.0,742.9 514.3,749.8 514.7,733.7 515.0,745.6 515.3,738.8 515.6,738.9 515.9,731.9 516.2,763.7 516.5,746.2 516.8,749.5 517.1,756.6 517.4,747.3 517.7,752.5 518.0,738.3 518.3,750.7 518.6,746.2 518.9,753.6 519.3,751.4 519.6,739.5 519.9,736.2 520.2,742.9 520.5,756.7 520.8,754.5 521.1,754.6 521.4,736.0 521.7,731.0 522.0,747.2 522.3,749.7 522.6,747.8 522.9,755.4 523.2,751.5 523.5,743.8 523.9,746.4 524.2,754.5 524.5,754.2 524.8,753.2 525.1,771.6 525.4,752.1 525.7,755.3 526.0,746.9 526.3,752.0 526.6,759.0 526.9,759.5 527.2,754.1 527.5,758.5 527.8,756.1 528.2,741.3 528.5,730.6 528.8,774.0 529.1,762.7 529.4,756.0 529.7,743.1 530.0,746.9 530.3,767.4 530.6,735.4 530.9,754.6 531.2,764.0 531.5,758.5 531.8,763.3 532.1,756.5 532.4,776.2 532.8,749.8 533.1,747.2 533.4,760.0 533.7,769.0 534.0,757.5 534.3,766.1 534.6,753.9 534.9,748.8 535.2,768.8 535.5,770.1 535.8,769.9 536.1,754.6 536.4,749.0 536.7,748.9 537.0,756.2 537.4,762.5 537.7,761.9 538.0,746.8 538.3,759.4 538.6,758.0 538.9,758.6 539.2,757.7 539.5,756.3 539.8,762.4 540.1,758.8 540.4,759.5 540.7,752.4 541.0,760.8 541.3,756.8 541.6,741.3 542.0,761.4 542.3,755.6 542.6,764.7 542.9,756.3 543.2,756.8 543.5,759.1 543.8,757.3 544.1,753.9 544.4,743.5 544.7,771.6 545.0,745.1 545.3,754.6 545.6,762.2 545.9,760.1 546.2,761.5 546.6,763.0 546.9,766.8 547.2,759.3 547.5,779.4 547.8,749.0 548.1,758.5 548.4,753.9 548.7,752.4 549.0,758.7 549.3,767.7 549.6,750.8 549.9,750.7 550.2,761.7 550.5,760.1 550.8,770.9 551.2,763.6 551.5,757.3 551.8,752.8 552.1,756.9 552.4,753.7 552.7,744.4 553.0,754.8 553.3,753.2 553.6,752.6 553.9,750.9 554.2,767.1 554.5,759.2 554.8,760.9 555.1,748.8 555.4,745.4 555.8,751.0 556.1,754.8 556.4,750.1 556.7,751.2 557.0,759.8 557.3,754.5 557.6,744.4 557.9,748.5 558.2,746.6 558.5,752.8 558.8,742.2 559.1,749.5 559.4,756.0 559.7,750.6 560.0,743.0 560.4,745.0 560.7,750.4 561.0,752.8 561.3,755.1 561.6,747.1 561.9,737.5 562.2,758.1 562.5,748.8 562.8,748.9 563.1,747.3 563.4,736.0 563.7,740.6 564.0,743.9 564.3,748.7 564.6,739.6 565.0,711.8 565.3,729.5 565.6,728.9 565.9,731.0 566.2,721.9 566.5,732.5 566.8,702.5 567.1,723.1 567.4,722.0 567.7,706.9 568.0,727.6 568.3,729.4 568.6,724.3 568.9,736.0 569.2,737.4 569.6,733.3 569.9,738.6 570.2,740.1 570.5,746.3 570.8,743.4 571.1,752.7 571.4,735.3 571.7,749.4 572.0,740.0 572.3,750.5 572.6,759.4 572.9,756.7 573.2,756.8 573.5,759.3 573.8,772.0 574.2,752.4 574.5,768.8 574.8,751.3 575.1,760.3 575.4,766.2 575.7,759.3 576.0,768.3 576.3,773.2 576.6,759.3 576.9,768.8 577.2,767.3 577.5,756.1 577.8,770.5 578.1,766.6 578.4,783.9 578.8,767.7 579.1,788.3 579.4,772.0 579.7,791.9 580.0,781.9 580.3,782.1 580.6,785.7 580.9,787.2 581.2,791.9 581.5,795.2 581.8,779.9 582.1,773.7 582.4,763.4 582.7,781.6 583.0,791.1 583.4,788.7 583.7,787.1 584.0,784.0 584.3,782.3 584.6,785.4 584.9,791.0 585.2,774.9 585.5,794.4 585.8,778.0 586.1,788.4 586.4,785.0 586.7,787.4 587.0,782.5 587.3,782.0 587.6,789.4 588.0,783.1 588.3,810.7 588.6,788.8 588.9,787.3 589.2,788.3 589.5,784.6 589.8,774.2 590.1,791.4 590.4,796.0 590.7,782.3 591.0,794.1 591.3,785.0 591.6,794.3 591.9,797.5 592.2,798.7 592.6,798.6 592.9,790.0 593.2,802.4 593.5,792.4 593.8,798.7 594.1,801.7 594.4,794.1 594.7,786.8 595.0,801.6 595.3,788.5 595.6,790.4 595.9,789.0 596.2,804.1 596.5,796.6 596.9,780.7 597.2,803.8 597.5,814.3 597.8,812.4 598.1,794.4 598.4,799.5 598.7,803.0 599.0,806.1 599.3,799.7 599.6,791.2 599.9,805.6 600.2,804.7 600.5,789.9 600.8,797.5 601.1,802.6 601.5,800.7 601.8,804.9 602.1,807.1 602.4,805.3 602.7,800.5 603.0,791.2 603.3,806.4 603.6,812.6 603.9,817.2 604.2,801.9 604.5,802.0 604.8,813.6 605.1,813.7 605.4,805.4 605.7,808.4 606.1,797.2 606.4,807.7 606.7,797.0 607.0,802.4 607.3,802.7 607.6,800.2 607.9,787.7 608.2,797.7 608.5,806.8 608.8,803.9 609.1,801.5 609.4,807.9 609.7,810.1 610.0,811.4 610.3,798.8 610.7,805.3 611.0,802.7 611.3,798.7 611.6,794.1 611.9,804.9 612.2,799.1 612.5,822.4 612.8,805.3 613.1,804.4 613.4,803.2 613.7,820.8 614.0,799.3 614.3,805.4 614.6,800.9 614.9,805.9 615.3,806.7 615.6,815.6 615.9,796.4 616.2,807.2 616.5,819.9 616.8,803.7 617.1,806.3 617.4,801.0 617.7,787.9 618.0,807.2 618.3,817.2 618.6,804.7 618.9,794.2 619.2,810.5 619.5,809.2 619.9,816.4 620.2,815.8 620.5,806.9 620.8,812.1 621.1,795.3 621.4,817.8 621.7,810.8 622.0,817.8 622.3,817.7 622.6,807.5 622.9,808.6 623.2,803.2 623.5,794.2 623.8,809.1 624.1,811.4 624.5,802.0 624.8,815.9 625.1,811.3 625.4,814.1 625.7,804.8 626.0,797.3 626.3,816.9 626.6,815.7 626.9,810.3 627.2,808.0 627.5,809.2 627.8,810.4 628.1,807.6 628.4,796.2 628.7,817.7 629.1,800.4 629.4,809.4 629.7,809.7 630.0,814.2 630.3,799.9 630.6,821.6 630.9,817.5 631.2,818.5 631.5,822.4 631.8,806.7 632.1,788.9 632.4,815.6 632.7,823.2 633.0,822.1 633.3,809.3 633.7,812.8 634.0,815.8 634.3,799.8 634.6,808.7 634.9,809.0 635.2,826.1 635.5,809.1 635.8,826.3 636.1,814.5 636.4,801.6 636.7,831.5 637.0,807.3 637.3,819.5 637.6,828.0 637.9,810.9 638.3,805.7 638.6,823.2 638.9,815.9 639.2,806.1 639.5,807.3 639.8,812.7 640.1,823.2 640.4,813.7 640.7,821.0 641.0,828.7 641.3,825.9 641.6,827.3 641.9,825.8 642.2,804.2 642.5,826.0 642.9,819.3 643.2,815.9 643.5,808.7 643.8,804.9 644.1,808.7 644.4,817.1 644.7,808.4 645.0,811.2 645.3,812.9 645.6,822.8 645.9,815.5 646.2,816.8 646.5,828.2 646.8,815.7 647.1,822.8 647.5,810.2 647.8,821.0 648.1,819.5 648.4,820.0 648.7,815.2 649.0,811.0 649.3,816.7 649.6,815.5 649.9,827.1 650.2,826.2 650.5,810.2 650.8,824.3 651.1,815.9 651.4,823.2 651.7,816.1 652.1,808.6 652.4,827.8 652.7,823.6 653.0,810.8 653.3,805.9 653.6,816.3 653.9,811.5 654.2,817.8 654.5,825.5 654.8,832.0 655.1,818.2 655.4,831.5 655.7,830.0 656.0,817.9 656.3,808.6 656.7,827.9 657.0,826.2 657.3,839.6 657.6,832.7 657.9,827.8 658.2,834.8 658.5,814.0 658.8,823.6 659.1,820.2 659.4,835.6 659.7,826.8 660.0,799.2 660.3,833.1 660.6,815.8 660.9,828.8 661.3,819.3 661.6,824.9 661.9,828.0 662.2,824.8 662.5,816.1 662.8,834.2 663.1,826.6 663.4,823.6 663.7,829.2 664.0,819.8 664.3,838.4 664.6,825.8 664.9,827.0 665.2,827.0 665.5,817.4 665.9,815.6 666.2,826.3 666.5,827.4 666.8,835.1 667.1,828.4 667.4,816.7 667.7,829.1 668.0,831.5 668.3,833.0 668.6,828.0 668.9,816.2 669.2,834.5 669.5,820.1 669.8,830.2 670.2,813.9 670.5,831.8 670.8,820.1 671.1,834.4 671.4,839.7 671.7,835.3 672.0,817.6 672.3,819.4 672.6,820.0 672.9,831.8 673.2,829.5 673.5,828.1 673.8,829.4 674.1,831.5 674.4,832.2 674.8,840.2 675.1,827.0 675.4,829.0 675.7,813.4 676.0,817.6 676.3,822.4 676.6,818.8 676.9,829.6 677.2,835.9 677.5,824.7 677.8,824.4 678.1,824.3 678.4,829.3 678.7,824.2 679.0,831.7 679.4,830.8 679.7,831.3 680.0,834.5 680.3,829.0 680.6,830.0 680.9,842.4 681.2,828.7 681.5,835.2 681.8,829.6 682.1,825.8 682.4,825.9 682.7,823.2 683.0,829.6 683.3,825.0 683.6,826.4 684.0,839.0 684.3,828.8 684.6,838.6 684.9,832.0 685.2,836.6 685.5,825.5 685.8,831.3 686.1,850.3 686.4,836.6 686.7,838.0 687.0,832.2 687.3,837.1 687.6,821.8 687.9,824.2 688.2,834.0 688.6,837.1 688.9,827.8 689.2,829.5 689.5,828.3 689.8,829.7 690.1,822.0 690.4,820.3 690.7,830.7 691.0,818.1 691.3,824.0 691.6,826.5 691.9,823.6 692.2,833.4 692.5,828.3 692.8,831.1 693.2,824.1 693.5,826.2 693.8,835.8 694.1,834.8 694.4,828.5 694.7,834.9 695.0,833.6 695.3,833.5 695.6,844.4 695.9,829.3 696.2,835.6 696.5,835.7 696.8,830.8 697.1,823.8 697.4,837.9 697.8,834.7 698.1,833.2 698.4,833.0 698.7,833.1 699.0,826.2 699.3,835.2 699.6,819.4 699.9,832.9 700.2,821.8 700.5,830.6 700.8,838.7 701.1,831.4 701.4,829.8 701.7,837.4 702.0,831.5 702.4,830.5 702.7,830.6 703.0,845.1 703.3,838.8 703.6,837.4 703.9,824.8 704.2,838.6 704.5,824.2 704.8,837.6 705.1,825.6 705.4,848.9 705.7,821.4 706.0,843.5 706.3,840.3 706.6,820.9 707.0,832.5 707.3,845.3 707.6,843.1 707.9,822.0 708.2,830.7 708.5,825.8 708.8,826.9 709.1,829.9 709.4,848.7 709.7,835.8 710.0,833.2 710.3,832.4 710.6,840.0 710.9,840.2 711.2,828.2 711.6,846.2 711.9,827.0 712.2,833.1 712.5,838.7 712.8,848.2 713.1,832.8 713.4,837.6 713.7,845.3 714.0,840.2 714.3,844.0 714.6,843.4 714.9,837.6 715.2,840.4 715.5,842.6 715.8,835.6 716.2,847.8 716.5,821.0 716.8,829.0 717.1,846.8 717.4,839.2 717.7,831.2 718.0,838.9 718.3,844.3 718.6,832.0 718.9,842.0 719.2,835.4 719.5,835.5 719.8,835.8 720.1,844.7 720.4,828.1 720.8,833.7 721.1,841.5 721.4,827.4 721.7,824.8 722.0,840.9 722.3,836.7 722.6,835.6 722.9,837.8 723.2,829.5 723.5,858.6 723.8,829.5 724.1,833.7 724.4,826.3 724.7,833.9 725.0,848.4 725.4,837.2 725.7,841.5 726.0,833.5 726.3,850.7 726.6,838.4 726.9,827.9 727.2,843.0 727.5,834.6 727.8,841.9 728.1,838.4 728.4,839.4 728.7,838.5 729.0,830.8 729.3,826.4 729.6,844.8 730.0,836.6 730.3,839.8 730.6,834.2 730.9,822.7 731.2,828.2 731.5,848.1 731.8,832.0 732.1,835.0 732.4,827.0 732.7,834.0 733.0,835.2 733.3,836.3 733.6,837.4 733.9,833.3 734.2,833.8 734.6,838.0 734.9,840.5 735.2,837.1 735.5,851.1 735.8,839.7 736.1,839.4 736.4,833.4 736.7,845.9 737.0,830.7 737.3,826.4 737.6,831.1 737.9,843.0 738.2,830.0 738.5,848.0 738.9,838.3 739.2,827.3 739.5,836.8 739.8,851.7 740.1,832.2 740.4,828.9 740.7,842.4 741.0,848.3 741.3,846.2 741.6,836.3 741.9,840.1 742.2,841.2 742.5,847.4 742.8,854.6 743.1,838.0 743.5,848.4 743.8,836.4 744.1,843.2 744.4,832.1 744.7,833.3 745.0,842.0 745.3,832.4 745.6,845.5 745.9,835.0 746.2,839.6 746.5,838.5 746.8,836.7 747.1,840.1 747.4,847.1 747.7,862.0 748.1,830.5 748.4,841.4 748.7,838.0 749.0,832.6 749.3,841.4 749.6,832.9 749.9,838.8 750.2,848.4 750.5,824.6 750.8,841.2 751.1,842.7 751.4,832.4 751.7,843.3 752.0,842.1 752.3,837.0 752.7,848.4 753.0,830.0 753.3,844.3 753.6,837.9 753.9,831.9 754.2,838.3 754.5,837.1 754.8,845.7 755.1,828.8 755.4,838.3 755.7,836.4 756.0,851.2 756.3,831.6 756.6,847.5 756.9,827.0 757.3,842.4 757.6,838.9 757.9,842.6 758.2,834.8 758.5,825.7 758.8,828.7 759.1,849.5 759.4,841.5 759.7,833.7 760.0,846.6 760.3,834.6 760.6,834.7 760.9,831.3 761.2,848.7 761.5,854.4 761.9,833.2 762.2,842.3 762.5,847.3 762.8,855.6 763.1,822.9 763.4,841.3 763.7,845.0 764.0,829.6 764.3,843.3 764.6,841.8 764.9,845.7 765.2,836.2 765.5,843.5 765.8,836.2 766.1,845.0 766.5,841.7 766.8,837.9 767.1,830.4 767.4,852.6 767.7,848.8 768.0,847.2 768.3,836.0 768.6,838.4 768.9,853.0 769.2,846.3 769.5,834.9 769.8,841.4 770.1,842.1 770.4,839.7 770.7,834.4 771.1,850.3 771.4,845.6 771.7,839.9 772.0,830.1 772.3,837.3 772.6,841.5 772.9,847.8 773.2,839.0 773.5,849.7 773.8,842.8 774.1,836.5 774.4,821.8 774.7,833.5 775.0,831.3 775.3,841.0 775.7,844.5 776.0,852.1 776.3,842.1 776.6,834.0 776.9,859.2 777.2,844.6 777.5,840.6 777.8,840.6 778.1,832.9 778.4,847.2 778.7,845.4 779.0,854.1 779.3,850.7 779.6,849.1 779.9,851.9 780.3,841.0 780.6,839.9 780.9,842.8 781.2,834.3 781.5,842.2 781.8,840.9 782.1,848.1 782.4,843.3 782.7,829.9 783.0,843.8 783.3,853.7 783.6,830.6 783.9,838.3 784.2,843.9 784.5,834.4 784.9,840.0 785.2,844.4 785.5,834.6 785.8,846.2 786.1,847.1 786.4,835.2 786.7,844.5 787.0,852.0 787.3,843.1 787.6,847.5 787.9,849.1 788.2,842.9 788.5,851.6 788.8,847.4 789.1,837.7 789.5,848.5 789.8,851.0 790.1,850.6 790.4,840.4 790.7,848.3 791.0,854.8 791.3,846.8 791.6,853.6 791.9,854.5 792.2,845.0 792.5,850.0 792.8,843.4 793.1,853.1 793.4,844.9 793.7,841.7 794.1,845.5 794.4,845.2 794.7,848.5 795.0,849.1 795.3,837.6 795.6,841.3 795.9,848.6 796.2,849.5 796.5,846.7 796.8,864.8 797.1,854.2 797.4,845.8 797.7,851.5 798.0,855.9 798.3,849.1 798.7,834.3 799.0,847.3 799.3,847.1 799.6,861.8 799.9,833.9 800.2,857.8 800.5,845.9 800.8,853.6 801.1,845.0 801.4,848.4 801.7,855.2 802.0,847.9 802.3,854.8 802.6,846.8 803.0,844.6 803.3,846.0 803.6,844.0 803.9,846.8 804.2,857.3 804.5,839.5 804.8,836.1 805.1,847.7 805.4,859.7 805.7,855.3 806.0,857.3 806.3,856.8 806.6,843.0 806.9,849.0 807.2,829.6 807.6,844.0 807.9,852.6 808.2,837.5 808.5,834.0 808.8,839.4 809.1,850.1 809.4,856.8 809.7,866.7 810.0,858.7 810.3,838.2 810.6,832.6 810.9,849.9 811.2,856.3 811.5,837.7 811.8,845.4 812.2,845.9 812.5,849.4 812.8,847.9 813.1,852.8 813.4,856.7 813.7,849.8 814.0,854.6 814.3,863.3 814.6,842.3 814.9,842.2 815.2,853.1 815.5,862.5 815.8,850.8 816.1,857.3 816.4,847.6 816.8,856.1 817.1,845.4 817.4,854.5 817.7,852.6 818.0,852.7 818.3,859.5 818.6,857.4 818.9,845.9 819.2,856.3 819.5,838.3 819.8,857.1 820.1,869.3 820.4,854.0 820.7,853.8 821.0,850.8 821.4,856.2 821.7,847.3 822.0,855.2 822.3,848.7 822.6,847.6 822.9,851.5 823.2,850.3 823.5,838.7 823.8,865.1 824.1,851.7 824.4,839.1 824.7,858.3 825.0,850.7 825.3,852.3 825.6,855.8 826.0,844.8 826.3,830.6 826.6,850.3 826.9,852.7 827.2,858.0 827.5,845.8 827.8,849.2 828.1,853.9 828.4,848.9 828.7,849.4 829.0,852.9 829.3,844.3 829.6,862.1 829.9,844.9 830.2,851.5 830.6,849.0 830.9,846.4 831.2,855.0 831.5,858.3 831.8,861.4 832.1,855.4 832.4,848.3 832.7,857.3 833.0,841.5 833.3,851.8 833.6,855.0 833.9,855.3 834.2,843.6 834.5,841.2 834.8,862.9 835.2,848.0 835.5,840.2 835.8,843.0 836.1,851.6 836.4,859.6 836.7,851.5 837.0,859.8 837.3,853.1 837.6,854.8 837.9,858.3 838.2,849.0 838.5,853.6 838.8,849.0 839.1,847.3 839.4,856.1 839.8,846.1 840.1,852.2 840.4,846.3 840.7,851.1 841.0,848.1 841.3,859.2 841.6,852.3 841.9,852.3 842.2,863.0 842.5,832.0 842.8,844.1 843.1,833.1 843.4,851.7 843.7,854.7 844.0,856.2 844.4,853.6 844.7,845.9 845.0,863.7 845.3,853.9 845.6,850.1 845.9,844.2 846.2,854.7 846.5,848.5 846.8,848.8 847.1,853.3 847.4,853.4 847.7,846.3 848.0,860.4 848.3,845.2 848.6,844.4 849.0,854.1 849.3,852.9 849.6,852.5 849.9,849.2 850.2,852.3 850.5,848.3 850.8,840.9 851.1,857.1 851.4,845.3 851.7,850.6 852.0,857.1 852.3,852.3 852.6,870.7 852.9,842.8 853.2,847.2 853.6,852.8 853.9,861.4 854.2,850.6 854.5,842.6 854.8,860.0 855.1,846.1 855.4,851.0 855.7,858.3 856.0,847.9 856.3,849.3 856.6,855.7 856.9,851.0 857.2,854.3 857.5,846.1 857.8,851.6 858.2,845.1 858.5,842.0 858.8,864.3 859.1,855.5 859.4,858.6 859.7,846.0 860.0,852.3 860.3,851.1 860.6,843.0 860.9,856.2 861.2,847.7 861.5,851.2 861.8,842.3 862.1,859.2 862.4,857.6 862.8,855.2 863.1,846.4 863.4,848.9 863.7,860.7 864.0,850.7 864.3,854.3 864.6,853.5 864.9,845.0 865.2,862.7 865.5,839.2 865.8,854.0 866.1,851.9 866.4,841.7 866.7,854.7 867.0,856.0 867.4,852.8 867.7,846.9 868.0,855.5 868.3,859.9 868.6,853.9 868.9,863.9 869.2,858.2 869.5,857.6 869.8,861.7 870.1,848.0 870.4,848.9 870.7,855.8 871.0,855.8 871.3,862.4 871.7,860.0 872.0,853.5 872.3,853.8 872.6,850.5 872.9,849.9 873.2,849.3 873.5,858.3 873.8,849.2 874.1,849.9 874.4,853.3 874.7,848.9 875.0,850.7 875.3,837.8 875.6,854.7 875.9,850.2 876.3,853.5 876.6,854.7 876.9,839.9 877.2,868.2 877.5,853.3 877.8,853.5 878.1,840.5 878.4,856.5 878.7,855.2 879.0,850.1 879.3,854.2 879.6,861.0 879.9,850.4 880.2,846.6 880.5,861.4 880.9,854.4 881.2,851.5 881.5,867.8 881.8,853.7 882.1,851.5 882.4,854.4 882.7,849.9 883.0,854.0 883.3,853.5 883.6,848.2 883.9,850.7 884.2,854.4 884.5,854.9 884.8,856.2 885.1,857.5 885.5,853.9 885.8,855.6 886.1,849.7 886.4,850.4 886.7,858.9 887.0,839.1 887.3,854.4 887.6,872.7 887.9,839.7 888.2,861.7 888.5,840.2 888.8,854.1 889.1,862.3 889.4,861.3 889.7,845.5 890.1,842.9 890.4,841.9 890.7,855.9 891.0,848.6 891.3,851.1 891.6,852.7 891.9,853.6 892.2,854.3 892.5,851.6 892.8,840.2 893.1,860.1 893.4,832.5 893.7,858.5 894.0,846.4 894.3,848.9 894.7,846.7 895.0,847.6 895.3,849.8 895.6,848.0 895.9,842.6 896.2,855.2 896.5,845.7 896.8,858.2 897.1,848.3 897.4,844.6 897.7,851.9 898.0,854.8 898.3,842.9 898.6,846.9 898.9,858.0 899.3,842.1 899.6,842.9 899.9,849.4 900.2,840.3 900.5,832.1 900.8,837.2 901.1,850.3 901.4,852.0 901.7,851.5 902.0,850.1 902.3,839.4 902.6,851.7 902.9,854.6 903.2,842.5 903.5,853.0 903.9,844.4 904.2,847.8 904.5,848.8 904.8,836.7 905.1,855.7 905.4,840.4 905.7,845.2 906.0,842.5 906.3,848.5 906.6,848.1 906.9,845.3 907.2,854.2 907.5,846.7 907.8,842.1 908.1,825.8 908.5,842.5 908.8,842.2 909.1,838.3 909.4,838.2 909.7,847.4 910.0,850.2 910.3,855.5 910.6,850.5 910.9,838.3 911.2,844.4 911.5,833.7 911.8,847.1 912.1,844.5 912.4,838.1 912.7,841.2 913.1,840.1 913.4,837.5 913.7,850.0 914.0,861.4 914.3,846.5 914.6,847.8 914.9,841.9 915.2,838.4 915.5,854.7 915.8,838.0 916.1,842.8 916.4,839.3 916.7,843.7 917.0,839.4 917.3,843.4 917.7,831.3 918.0,838.6 918.3,848.0 918.6,832.3 918.9,834.5 919.2,847.5 919.5,841.1 919.8,845.2 920.1,823.8 920.4,839.0 920.7,829.7 921.0,828.8 921.3,840.2 921.6,845.1 921.9,827.6 922.3,830.0 922.6,833.2 922.9,836.0 923.2,828.1 923.5,851.1 923.8,840.2 924.1,833.9 924.4,832.8 924.7,851.0 925.0,850.3 925.3,832.6 925.6,837.8 925.9,843.6 926.2,827.7 926.5,831.4 926.9,843.8 927.2,830.5 927.5,832.0 927.8,826.0 928.1,829.7 928.4,838.9 928.7,829.0 929.0,825.7 929.3,830.0 929.6,845.4 929.9,834.9 930.2,830.0 930.5,834.5 930.8,836.3 931.1,834.1 931.5,821.5 931.8,834.9 932.1,831.5 932.4,838.2 932.7,823.8 933.0,839.2 933.3,829.1 933.6,821.1 933.9,840.6 934.2,828.5 934.5,834.1 934.8,830.5 935.1,838.4 935.4,838.4 935.7,838.3 936.1,835.5 936.4,820.3 936.7,819.7 937.0,831.6 937.3,824.0 937.6,833.0 937.9,830.8 938.2,820.4 938.5,822.7 938.8,821.8 939.1,823.2 939.4,827.3 939.7,832.8 940.0,836.8 940.4,821.6 940.7,824.0 941.0,837.3 941.3,832.8 941.6,828.2 941.9,811.2 942.2,819.5 942.5,826.7 942.8,821.5 943.1,837.7 943.4,825.0 943.7,825.9 944.0,816.5 944.3,816.4 944.6,818.3 945.0,818.0 945.3,820.0 945.6,823.4 945.9,821.9 946.2,826.2 946.5,810.3 946.8,819.6 947.1,819.0 947.4,826.9 947.7,814.3 948.0,816.8 948.3,808.3 948.6,815.1 948.9,813.7 949.2,805.6 949.6,805.2 949.9,806.0 950.2,807.9 950.5,794.5 950.8,804.9 951.1,794.0 951.4,804.8 951.7,797.7 952.0,780.6 952.3,773.2 952.6,785.9 952.9,765.6 953.2,755.0 953.5,736.7 953.8,724.6 954.2,714.3 954.5,694.3 954.8,663.7 955.1,653.1 955.4,620.6 955.7,583.7 956.0,565.5 956.3,526.0 956.6,499.8 956.9,459.8 957.2,436.8 957.5,399.7 957.8,394.7 958.1,378.1 958.4,377.6 958.8,378.1 959.1,408.6 959.4,437.7 959.7,464.8 960.0,500.8 960.3,518.5 960.6,567.6 960.9,598.6 961.2,609.5 961.5,638.7 961.8,664.2 962.1,689.2 962.4,709.4 962.7,708.8 963.0,742.6 963.4,749.3 963.7,754.6 964.0,775.8 964.3,774.8 964.6,790.3 964.9,791.6 965.2,790.4 965.5,803.6 965.8,804.4 966.1,798.7 966.4,793.9 966.7,802.8 967.0,812.0 967.3,808.2 967.6,822.5 968.0,814.2 968.3,815.0 968.6,817.4 968.9,810.2 969.2,816.0 969.5,813.4 969.8,803.5 970.1,807.8 970.4,824.6 970.7,817.8 971.0,820.6 971.3,812.7 971.6,819.0 971.9,828.5 972.2,824.8 972.6,821.6 972.9,835.3 973.2,825.9 973.5,824.7 973.8,834.9 974.1,817.1 974.4,832.3 974.7,822.3 975.0,825.0 975.3,826.2 975.6,831.9 975.9,832.3 976.2,834.0 976.5,833.8 976.8,841.9 977.2,844.1 977.5,838.3 977.8,839.0 978.1,832.2 978.4,828.0 978.7,839.1 979.0,835.9 979.3,841.5 979.6,824.8 979.9,853.8 980.2,829.1 980.5,837.7 980.8,844.1 981.1,829.4 981.4,835.0 981.8,826.0 982.1,830.0 982.4,827.1 982.7,840.4 983.0,841.9 983.3,838.4 983.6,848.7 983.9,849.8 984.2,841.2 984.5,840.1 984.8,840.0 985.1,839.2 985.4,850.6 985.7,844.1 986.0,840.7 986.4,841.6 986.7,846.8 987.0,841.0 987.3,845.8 987.6,843.8 987.9,852.8 988.2,851.8 988.5,835.7 988.8,843.9 989.1,849.6 989.4,842.4 989.7,850.6 990.0,847.8 990.3,849.6 990.6,845.6 991.0,848.1 991.3,849.7 991.6,837.3 991.9,840.9 992.2,840.5 992.5,857.7 992.8,849.2 993.1,849.8 993.4,848.7 993.7,844.5 994.0,843.2 994.3,853.4 994.6,845.9 994.9,858.3 995.2,849.8 995.6,849.2 995.9,847.4 996.2,848.5 996.5,849.3 996.8,858.8 997.1,864.1 997.4,842.2 997.7,851.2 998.0,854.2 998.3,844.2 998.6,846.0 998.9,847.2 999.2,835.1 999.5,854.5 999.8,850.2 1000.2,850.0 1000.5,851.2 1000.8,852.4 1001.1,865.5 1001.4,852.2 1001.7,856.4 1002.0,847.9 1002.3,853.5 1002.6,849.4 1002.9,850.6 1003.2,845.9 1003.5,846.6 1003.8,854.7 1004.1,856.6 1004.4,854.9 1004.8,847.8 1005.1,854.1 1005.4,836.3 1005.7,858.3 1006.0,852.2 1006.3,854.2 1006.6,859.9 1006.9,850.0 1007.2,858.8 1007.5,850.1 1007.8,856.3 1008.1,850.4 1008.4,855.0 1008.7,862.2 1009.1,849.1 1009.4,849.5 1009.7,851.3 1010.0,855.3 1010.3,870.7 1010.6,850.0 1010.9,840.9 1011.2,849.6 1011.5,843.9 1011.8,850.3 1012.1,854.0 1012.4,847.9 1012.7,849.7 1013.0,842.4 1013.3,855.2 1013.7,849.5 1014.0,861.0 1014.3,860.8 1014.6,848.8 1014.9,852.0 1015.2,854.7 1015.5,859.1 1015.8,844.0 1016.1,854.0 1016.4,866.1 1016.7,854.0 1017.0,856.0 1017.3,854.6 1017.6,847.2 1017.9,860.6 1018.3,856.4 1018.6,855.8 1018.9,859.3 1019.2,859.7 1019.5,843.1 1019.8,857.9 1020.1,851.3 1020.4,856.0 1020.7,850.5 1021.0,849.6 1021.3,861.0 1021.6,855.0 1021.9,853.4 1022.2,853.4 1022.5,855.7 1022.9,855.1 1023.2,840.5 1023.5,849.9 1023.8,853.8 1024.1,860.0 1024.4,863.9 1024.7,849.6 1025.0,867.5 1025.3,856.1 1025.6,858.6 1025.9,852.2 1026.2,851.8 1026.5,864.5 1026.8,854.3 1027.1,855.0 1027.5,862.9 1027.8,866.4 1028.1,846.5 1028.4,854.6 1028.7,855.8 1029.0,867.1 1029.3,871.2 1029.6,855.6 1029.9,858.3 1030.2,861.3 1030.5,863.1 1030.8,854.0 1031.1,861.4 1031.4,851.7 1031.7,839.5 1032.1,847.6 1032.4,857.5 1032.7,861.1 1033.0,842.2 1033.3,845.1 1033.6,856.1 1033.9,835.4 1034.2,859.8 1034.5,862.8 1034.8,837.9 1035.1,861.2 1035.4,855.3 1035.7,865.3 1036.0,858.3 1036.3,855.1 1036.7,857.3 1037.0,862.5 1037.3,857.8 1037.6,856.9 1037.9,847.8 1038.2,859.7 1038.5,857.0 1038.8,868.2 1039.1,856.8 1039.4,856.3 1039.7,853.0 1040.0,861.4 1040.3,855.7 1040.6,852.6 1040.9,866.9 1041.3,868.1 1041.6,854.3 1041.9,850.8 1042.2,864.1 1042.5,852.0 1042.8,874.7 1043.1,856.4 1043.4,863.2 1043.7,849.2 1044.0,857.1 1044.3,864.1 1044.6,860.1 1044.9,854.1 1045.2,872.6 1045.5,862.0 1045.9,856.1 1046.2,853.8 1046.5,855.9 1046.8,865.9 1047.1,852.8 1047.4,857.8 1047.7,852.6 1048.0,865.4 1048.3,856.7 1048.6,863.0 1048.9,861.2 1049.2,854.2 1049.5,862.1 1049.8,863.6 1050.1,850.8 1050.5,862.2 1050.8,879.9 1051.1,856.1 1051.4,861.9 1051.7,849.7 1052.0,860.8 1052.3,854.4 1052.6,862.8 1052.9,857.7 1053.2,850.8 1053.5,864.9 1053.8,856.8 1054.1,851.9 1054.4,858.6 1054.7,852.2 1055.1,860.6 1055.4,857.8 1055.7,855.9 1056.0,862.4 1056.3,850.4 1056.6,864.3 1056.9,845.9 1057.2,868.3 1057.5,859.5 1057.8,856.7 1058.1,853.8 1058.4,861.8 1058.7,857.4 1059.0,857.3 1059.3,864.8 1059.7,855.7 1060.0,857.0 1060.3,861.1 1060.6,865.1 1060.9,857.5 1061.2,859.4 1061.5,858.7 1061.8,863.0 1062.1,867.7 1062.4,852.7 1062.7,857.6 1063.0,858.2 1063.3,862.1 1063.6,867.7 1063.9,858.4 1064.3,859.8 1064.6,865.4 1064.9,850.7 1065.2,853.7 1065.5,855.6 1065.8,858.4 1066.1,859.8 1066.4,855.2 1066.7,869.2 1067.0,854.0 1067.3,857.1 1067.6,865.1 1067.9,863.1 1068.2,858.3 1068.5,860.7 1068.9,863.4 1069.2,858.2 1069.5,862.3 1069.8,852.6 1070.1,858.7 1070.4,848.1 1070.7,852.7 1071.0,851.1 1071.3,865.9 1071.6,855.3 1071.9,860.0 1072.2,852.4 1072.5,856.8 1072.8,856.3 1073.1,852.8 1073.5,863.3 1073.8,847.7 1074.1,861.8 1074.4,874.4 1074.7,852.8 1075.0,858.1 1075.3,848.2 1075.6,857.7 1075.9,847.0 1076.2,861.6 1076.5,854.7 1076.8,846.2 1077.1,849.6 1077.4,847.7 1077.8,855.7 1078.1,862.7 1078.4,854.9 1078.7,850.0 1079.0,852.1 1079.3,857.9 1079.6,842.0 1079.9,860.6 1080.2,859.4 1080.5,841.6 1080.8,864.0 1081.1,846.5 1081.4,855.2 1081.7,863.7 1082.0,846.2 1082.4,844.8 1082.7,849.2 1083.0,849.3 1083.3,855.0 1083.6,852.5 1083.9,852.6 1084.2,852.6 1084.5,854.3 1084.8,850.0 1085.1,857.2 1085.4,855.1 1085.7,848.7 1086.0,866.2 1086.3,846.9 1086.6,859.2 1087.0,849.9 1087.3,856.7 1087.6,857.6 1087.9,859.5 1088.2,862.9 1088.5,848.8 1088.8,871.6 1089.1,856.3 1089.4,848.6 1089.7,845.2 1090.0,867.9 1090.3,863.5 1090.6,853.1 1090.9,857.8 1091.2,861.1 1091.6,853.4 1091.9,850.0 1092.2,852.2 1092.5,857.5 1092.8,852.3 1093.1,844.4 1093.4,856.5 1093.7,840.9 1094.0,846.8 1094.3,858.9 1094.6,852.5 1094.9,852.3 1095.2,851.3 1095.5,856.8 1095.8,849.9 1096.2,838.0 1096.5,851.3 1096.8,830.6 1097.1,836.7 1097.4,858.9 1097.7,855.3 1098.0,845.8 1098.3,847.9 1098.6,848.7 1098.9,854.0 1099.2,842.8 1099.5,841.9 1099.8,843.2 1100.1,847.6 1100.4,848.1 1100.8,843.8 1101.1,850.6 1101.4,839.3 1101.7,844.8 1102.0,840.6 1102.3,838.3 1102.6,851.7 1102.9,841.7 1103.2,837.0 1103.5,843.0 1103.8,836.1 1104.1,845.5 1104.4,846.5 1104.7,847.1 1105.0,833.7 1105.4,838.8 1105.7,850.5 1106.0,837.2 1106.3,845.7 1106.6,846.7 1106.9,828.2 1107.2,843.5 1107.5,839.9 1107.8,839.9 1108.1,843.9 1108.4,835.4 1108.7,831.8 1109.0,833.8 1109.3,826.4 1109.6,829.7 1110.0,812.2 1110.3,832.8 1110.6,816.0 1110.9,819.2 1111.2,813.8 1111.5,807.9 1111.8,802.5 1112.1,796.0 1112.4,778.4 1112.7,776.9 1113.0,778.5 1113.3,754.7 1113.6,743.5 1113.9,751.1 1114.2,733.0 1114.6,722.6 1114.9,700.6 1115.2,691.1 1115.5,684.7 1115.8,676.8 1116.1,662.0 1116.4,662.5 1116.7,670.5 1117.0,673.3 1117.3,702.2 1117.6,701.9 1117.9,715.8 1118.2,731.3 1118.5,742.1 1118.8,757.0 1119.2,760.9 1119.5,765.4 1119.8,794.3 1120.1,787.3 1120.4,795.7 1120.7,799.9 1121.0,806.7 1121.3,814.7 1121.6,823.1 1121.9,815.4 1122.2,826.4 1122.5,823.0 1122.8,836.5 1123.1,823.5 1123.4,833.2 1123.8,838.3 1124.1,826.9 1124.4,837.0 1124.7,838.2 1125.0,833.3 1125.3,837.6 1125.6,845.7 1125.9,842.0 1126.2,838.7 1126.5,840.6 1126.8,845.2 1127.1,850.9 1127.4,848.6 1127.7,848.8 1128.0,854.5 1128.4,836.2 1128.7,837.4 1129.0,832.9 1129.3,852.2 1129.6,833.8 1129.9,847.8 1130.2,853.1 1130.5,840.5 1130.8,845.3 1131.1,848.1 1131.4,854.4 1131.7,841.2 1132.0,852.5 1132.3,855.1 1132.6,852.0 1133.0,852.3 1133.3,859.1 1133.6,853.2 1133.9,852.0 1134.2,850.3 1134.5,856.5 1134.8,851.0 1135.1,856.9 1135.4,853.8 1135.7,860.1 1136.0,848.8 1136.3,854.2 1136.6,856.0 1136.9,856.5 1137.2,861.0 1137.6,856.7 1137.9,859.9 1138.2,866.4 1138.5,859.8 1138.8,848.6 1139.1,846.5 1139.4,859.2 1139.7,853.1 1140.0,857.2 1140.3,854.5 1140.6,863.4 1140.9,862.9 1141.2,849.1 1141.5,857.6 1141.8,854.3 1142.2,848.4 1142.5,860.1 1142.8,855.5 1143.1,859.1 1143.4,871.3 1143.7,864.5 1144.0,863.3 1144.3,854.4 1144.6,849.9 1144.9,864.4 1145.2,855.2 1145.5,857.4 1145.8,855.0 1146.1,857.9 1146.5,871.6 1146.8,855.6 1147.1,855.8 1147.4,858.8 1147.7,859.3 1148.0,850.6 1148.3,847.2 1148.6,854.4 1148.9,856.6 1149.2,853.3 1149.5,852.1 1149.8,852.5 1150.1,855.7 1150.4,857.4 1150.7,848.5 1151.1,855.0 1151.4,860.4 1151.7,857.6 1152.0,850.3 1152.3,856.3 1152.6,858.4 1152.9,863.1 1153.2,849.0 1153.5,862.7 1153.8,856.0 1154.1,859.9 1154.4,862.8 1154.7,853.7 1155.0,854.1 1155.3,858.3 1155.7,863.3 1156.0,855.8 1156.3,850.7 1156.6,855.0 1156.9,861.4 1157.2,866.0 1157.5,856.3 1157.8,857.4 1158.1,858.3 1158.4,858.6 1158.7,853.8 1159.0,856.9 1159.3,860.8 1159.6,860.2 1159.9,859.7 1160.3,853.7 1160.6,856.5 1160.9,855.6 1161.2,866.0 1161.5,868.4 1161.8,861.9 1162.1,869.3 1162.4,858.3 1162.7,858.3 1163.0,852.5 1163.3,861.5 1163.6,857.5 1163.9,860.8 1164.2,863.2 1164.5,858.9 1164.9,853.8 1165.2,860.2 1165.5,860.1 1165.8,860.7 1166.1,864.6 1166.4,859.4 1166.7,859.2 1167.0,870.9 1167.3,867.1 1167.6,860.4 1167.9,855.5 1168.2,858.4 1168.5,863.3 1168.8,866.0 1169.1,875.2 1169.5,859.8 1169.8,862.2 1170.1,859.3 1170.4,861.9 1170.7,859.3 1171.0,855.3 1171.3,867.5 1171.6,862.4 1171.9,869.2 1172.2,858.9 1172.5,863.4 1172.8,865.7 1173.1,851.1 1173.4,854.4 1173.7,866.4 1174.1,862.7 1174.4,851.5 1174.7,858.0 1175.0,856.2 1175.3,859.5 1175.6,871.3 1175.9,859.1 1176.2,874.2 1176.5,861.1 1176.8,858.4 1177.1,871.7 1177.4,868.2 1177.7,870.7 1178.0,874.1 1178.3,869.0 1178.7,870.0 1179.0,853.0 1179.3,858.3 1179.6,865.6 1179.9,864.3 1180.2,867.4 1180.5,860.5 1180.8,869.7 1181.1,875.0 1181.4,866.8 1181.7,868.3 1182.0,866.4 1182.3,868.9 1182.6,864.8 1182.9,860.7 1183.3,864.8 1183.6,864.4 1183.9,855.0 1184.2,865.2 1184.5,864.0 1184.8,865.1 1185.1,860.7 1185.4,866.7 1185.7,867.6 1186.0,859.9 1186.3,865.9 1186.6,868.6 1186.9,868.4 1187.2,858.8 1187.5,858.2 1187.9,864.3 1188.2,858.1 1188.5,878.6 1188.8,859.5 1189.1,859.6 1189.4,867.9 1189.7,861.5 1190.0,850.7 1190.3,863.3 1190.6,858.5 1190.9,861.2 1191.2,854.9 1191.5,859.0 1191.8,863.2 1192.1,863.7 1192.5,857.7 1192.8,860.0 1193.1,859.3 1193.4,865.0 1193.7,863.3 1194.0,857.0 1194.3,867.9 1194.6,860.2 1194.9,866.4 1195.2,859.0 1195.5,865.9 1195.8,863.5 1196.1,864.6 1196.4,867.2 1196.7,866.8 1197.1,865.3 1197.4,865.3 1197.7,857.1 1198.0,864.0 1198.3,851.8 1198.6,851.6 1198.9,862.6 1199.2,863.2 1199.5,873.0 1199.8,868.3 1200.1,870.9 1200.4,862.8 1200.7,867.1 1201.0,871.3 1201.3,867.7 1201.7,866.7 1202.0,865.3 1202.3,859.5 1202.6,859.7 1202.9,856.6 1203.2,867.2 1203.5,863.3 1203.8,861.0 1204.1,866.9 1204.4,861.7 1204.7,870.9 1205.0,875.9 1205.3,867.6 1205.6,861.1 1205.9,856.5 1206.3,876.6 1206.6,867.7 1206.9,858.4 1207.2,871.3 1207.5,855.6 1207.8,862.6 1208.1,863.8 1208.4,863.1 1208.7,858.7 1209.0,878.9 1209.3,863.0 1209.6,867.4 1209.9,865.5 1210.2,856.1 1210.5,862.1 1210.9,866.5 1211.2,870.7 1211.5,863.3 1211.8,867.4 1212.1,863.4 1212.4,868.7 1212.7,851.2 1213.0,868.8 1213.3,861.8 1213.6,862.1 1213.9,849.1 1214.2,859.3 1214.5,868.9 1214.8,878.7 1215.2,861.4 1215.5,861.6 1215.8,868.2 1216.1,867.1 1216.4,862.1 1216.7,864.5 1217.0,863.2 1217.3,869.0 1217.6,870.0 1217.9,875.6 1218.2,870.7 1218.5,869.3 1218.8,866.4 1219.1,870.9 1219.4,859.8 1219.8,877.9 1220.1,867.1 1220.4,873.6 1220.7,860.9 1221.0,871.4 1221.3,867.8 1221.6,864.4 1221.9,861.6 1222.2,860.4 1222.5,875.9 1222.8,872.5 1223.1,866.2 1223.4,866.6 1223.7,861.3 1224.0,854.9 1224.4,855.2 1224.7,862.0 1225.0,864.6 1225.3,858.8 1225.6,870.1 1225.9,868.5 1226.2,866.4 1226.5,855.4 1226.8,864.3 1227.1,865.3 1227.4,858.2 1227.7,852.9 1228.0,876.6 1228.3,869.1 1228.6,863.3 1229.0,874.7 1229.3,871.9 1229.6,868.1 1229.9,866.8 1230.2,870.0 1230.5,874.0 1230.8,865.9 1231.1,864.2 1231.4,868.9 1231.7,849.2 1232.0,866.0 1232.3,863.2 1232.6,865.4 1232.9,864.5 1233.2,867.5 1233.6,866.1 1233.9,865.9 1234.2,864.8 1234.5,868.1 1234.8,862.6 1235.1,871.2 1235.4,855.8 1235.7,866.7 1236.0,868.1 1236.3,858.2 1236.6,863.0 1236.9,873.2 1237.2,864.8 1237.5,860.4 1237.8,848.3 1238.2,867.5 1238.5,866.1 1238.8,869.1 1239.1,877.4 1239.4,865.5 1239.7,866.3 1240.0,861.6 1240.3,865.2 1240.6,865.4 1240.9,869.9 1241.2,868.7 1241.5,861.1 1241.8,862.8 1242.1,873.5 1242.4,860.0 1242.8,869.8 1243.1,874.9 1243.4,869.3 1243.7,867.0 1244.0,873.4 1244.3,867.6 1244.6,865.5 1244.9,864.4 1245.2,872.2 1245.5,869.5 1245.8,874.4 1246.1,863.6 1246.4,863.7 1246.7,863.0 1247.0,867.1 1247.4,861.5 1247.7,870.9 1248.0,867.5 1248.3,859.9 1248.6,848.4 1248.9,855.0 1249.2,873.8 1249.5,865.2 1249.8,866.4 1250.1,863.1 1250.4,867.8 1250.7,854.4 1251.0,854.0 1251.3,856.1 1251.6,865.9 1252.0,869.6 1252.3,868.2 1252.6,864.8 1252.9,858.1 1253.2,870.1 1253.5,863.9 1253.8,865.4 1254.1,865.1 1254.4,862.8 1254.7,861.3 1255.0,862.1 1255.3,858.0 1255.6,866.9 1255.9,864.5 1256.2,871.4 1256.6,855.0 1256.9,872.3 1257.2,865.1 1257.5,864.6 1257.8,860.8 1258.1,860.8 1258.4,856.9 1258.7,870.7 1259.0,864.3 1259.3,869.6 1259.6,870.3 1259.9,862.6 1260.2,864.1 1260.5,863.5 1260.8,871.4 1261.2,866.2 1261.5,866.5 1261.8,869.6 1262.1,865.1 1262.4,877.3 1262.7,860.1 1263.0,872.7 1263.3,873.6 1263.6,858.9 1263.9,870.5 1264.2,867.1 1264.5,870.5 1264.8,858.6 1265.1,866.9 1265.4,859.8 1265.8,863.6 1266.1,873.7 1266.4,864.7 1266.7,852.5 1267.0,857.4 1267.3,858.9 1267.6,871.4 1267.9,861.5 1268.2,856.5 1268.5,871.9 1268.8,866.9 1269.1,867.5 1269.4,860.9 1269.7,873.7 1270.0,864.8 1270.4,854.1 1270.7,858.9 1271.0,860.6 1271.3,864.6 1271.6,869.9 1271.9,861.3 1272.2,862.0 1272.5,878.2 1272.8,865.9 1273.1,862.4 1273.4,865.7 1273.7,858.2 1274.0,868.5 1274.3,871.0 1274.6,862.1 1275.0,871.2 1275.3,863.8 1275.6,867.1 1275.9,861.2 1276.2,860.8 1276.5,856.8 1276.8,866.7 1277.1,863.8 1277.4,863.9 1277.7,858.9 1278.0,858.7 1278.3,861.7 1278.6,868.1 1278.9,867.1 1279.2,861.4 1279.6,867.0 1279.9,875.5 1280.2,866.0 1280.5,877.0 1280.8,867.8 1281.1,873.0 1281.4,862.3 1281.7,872.1 1282.0,858.5 1282.3,866.7 1282.6,863.4 1282.9,853.8 1283.2,857.4 1283.5,871.8 1283.9,868.1 1284.2,872.7 1284.5,866.4 1284.8,848.5 1285.1,866.6 1285.4,861.9 1285.7,862.3 1286.0,862.6 1286.3,860.8 1286.6,859.6 1286.9,872.3 1287.2,867.7 1287.5,861.4 1287.8,862.7 1288.1,870.7 1288.5,867.3 1288.8,866.2 1289.1,858.0 1289.4,862.6 1289.7,858.5 1290.0,854.0 1290.3,870.2 1290.6,863.1 1290.9,862.6 1291.2,859.5 1291.5,869.3 1291.8,877.0 1292.1,868.3 1292.4,870.3 1292.7,857.8 1293.1,865.9 1293.4,866.2 1293.7,873.5 1294.0,864.9 1294.3,859.4 1294.6,864.5 1294.9,862.3 1295.2,873.1 1295.5,868.6 1295.8,866.8 1296.1,865.8 1296.4,869.6 1296.7,861.9 1297.0,859.5 1297.3,853.9 1297.7,871.5 1298.0,867.6 1298.3,868.4 1298.6,864.9 1298.9,874.2 1299.2,859.0 1299.5,871.6 1299.8,859.8 1300.1,862.0 1300.4,857.6 1300.7,865.1 1301.0,862.9 1301.3,867.0 1301.6,861.2 1301.9,856.5 1302.3,867.8 1302.6,871.9 1302.9,868.7 1303.2,864.1 1303.5,866.8 1303.8,854.7 1304.1,862.5 1304.4,871.1 1304.7,867.0 1305.0,859.5 1305.3,869.3 1305.6,863.6 1305.9,868.5 1306.2,856.2 1306.5,861.3 1306.9,866.2 1307.2,866.0 1307.5,867.4 1307.8,864.2 1308.1,863.1 1308.4,866.9 1308.7,869.2 1309.0,855.5 1309.3,862.3 1309.6,863.0 1309.9,865.1 1310.2,870.0 1310.5,856.5 1310.8,867.2 1311.1,854.2 1311.5,859.8 1311.8,861.1 1312.1,862.5 1312.4,860.6 1312.7,861.1 1313.0,862.1 1313.3,862.5 1313.6,853.5 1313.9,856.0 1314.2,861.5 1314.5,867.0 1314.8,869.7 1315.1,880.3 1315.4,864.6 1315.7,859.5 1316.1,865.0 1316.4,867.8 1316.7,864.7 1317.0,857.9 1317.3,863.3 1317.6,863.7 1317.9,855.8 1318.2,857.0 1318.5,870.7 1318.8,851.1 1319.1,864.8 1319.4,862.3 1319.7,871.7 1320.0,867.3 1320.3,858.9 1320.7,871.0 1321.0,860.6 1321.3,875.1 1321.6,873.2 1321.9,863.3 1322.2,868.1 1322.5,864.8 1322.8,858.5 1323.1,869.7 1323.4,866.1 1323.7,868.5 1324.0,869.7 1324.3,871.7 1324.6,869.5 1324.9,863.1 1325.3,864.1 1325.6,865.9 1325.9,862.9 1326.2,862.2 1326.5,874.2 1326.8,866.3 1327.1,874.3 1327.4,859.1 1327.7,863.3 1328.0,861.0 1328.3,861.3 1328.6,861.8 1328.9,862.7 1329.2,861.0 1329.5,873.7 1329.9,867.2 1330.2,859.2 1330.5,860.3 1330.8,867.6 1331.1,866.4 1331.4,859.9 1331.7,868.6 1332.0,855.2 1332.3,860.6 1332.6,873.1 1332.9,848.5 1333.2,862.1 1333.5,868.8 1333.8,862.4 1334.1,858.8 1334.5,858.1 1334.8,851.4 1335.1,855.6 1335.4,863.5 1335.7,859.9 1336.0,863.1 1336.3,862.3 1336.6,864.7 1336.9,853.7 1337.2,861.3 1337.5,861.2 1337.8,861.3 1338.1,858.0 1338.4,850.6 1338.7,866.6 1339.1,867.7 1339.4,876.5 1339.7,867.2 1340.0,872.3 1340.3,866.4 1340.6,860.9 1340.9,865.8 1341.2,856.4 1341.5,864.4 1341.8,862.4 1342.1,857.0 1342.4,869.9 1342.7,869.3 1343.0,865.6 1343.3,867.6 1343.7,872.3 1344.0,862.3 1344.3,855.3 1344.6,857.6 1344.9,867.0 1345.2,864.3 1345.5,854.6 1345.8,870.5 1346.1,864.3 1346.4,872.2 1346.7,869.5 1347.0,860.6 1347.3,863.7 1347.6,859.0 1347.9,858.4 1348.3,861.5 1348.6,866.0 1348.9,871.0 1349.2,858.2 1349.5,867.2 1349.8,863.5 1350.1,862.0 1350.4,869.7 1350.7,861.3 1351.0,871.2 1351.3,861.5 1351.6,858.2 1351.9,867.8 1352.2,855.2 1352.6,856.8 1352.9,862.5 1353.2,863.6 1353.5,862.1 1353.8,852.4 1354.1,856.1 1354.4,866.6 1354.7,866.8 1355.0,858.0 1355.3,865.3 1355.6,864.9 1355.9,869.6 1356.2,859.7 1356.5,872.1 1356.8,862.2 1357.2,872.1 1357.5,869.2 1357.8,858.2 1358.1,862.2 1358.4,865.6 1358.7,869.8 1359.0,856.2 1359.3,861.3 1359.6,867.7 1359.9,866.9 1360.2,858.2 1360.5,859.1 1360.8,866.7 1361.1,858.4 1361.4,865.6 1361.8,869.5 1362.1,864.4 1362.4,849.1 1362.7,871.0 1363.0,870.9 1363.3,872.5 1363.6,869.3 1363.9,854.9 1364.2,872.5 1364.5,866.5 1364.8,869.9 1365.1,863.6 1365.4,863.2 1365.7,863.2 1366.0,873.7 1366.4,866.2 1366.7,863.5 1367.0,857.4 1367.3,867.3 1367.6,864.7 1367.9,865.6 1368.2,870.3 1368.5,868.8 1368.8,864.8 1369.1,866.0 1369.4,865.3 1369.7,868.9 1370.0,868.7 1370.3,865.6 1370.6,860.0 1371.0,869.6 1371.3,870.0 1371.6,858.8 1371.9,867.1 1372.2,862.7 1372.5,852.4 1372.8,864.7 1373.1,870.3 1373.4,860.8 1373.7,860.9 1374.0,870.7 1374.3,858.7 1374.6,859.6 1374.9,863.1 1375.2,868.5 1375.6,868.6 1375.9,862.0 1376.2,863.2 1376.5,865.5 1376.8,862.8 1377.1,860.1 1377.4,858.8 1377.7,869.1 1378.0,863.8 1378.3,881.4 1378.6,868.6 1378.9,860.8 1379.2,865.1 1379.5,867.1 1379.8,867.4 1380.2,867.7 1380.5,867.7 1380.8,864.4 1381.1,868.9 1381.4,877.6 1381.7,862.7 1382.0,863.0 1382.3,869.3 1382.6,872.3 1382.9,869.9 1383.2,872.2 1383.5,865.0 1383.8,864.0 1384.1,869.0 1384.4,869.1 1384.8,874.8 1385.1,874.2 1385.4,854.9 1385.7,869.8 1386.0,861.5 1386.3,853.4 1386.6,867.6 1386.9,864.4 1387.2,863.4 1387.5,858.1 1387.8,859.6 1388.1,864.2 1388.4,856.9 1388.7,864.8 1389.0,866.0 1389.4,864.5 1389.7,867.1 1390.0,865.0 1390.3,858.8 1390.6,859.6 1390.9,866.2 1391.2,870.9 1391.5,866.3 1391.8,862.6 1392.1,866.4 1392.4,855.2 1392.7,859.8 1393.0,863.3 1393.3,865.1 1393.6,863.7 1394.0,864.0 1394.3,858.8 1394.6,862.3 1394.9,866.9 1395.2,855.1 1395.5,858.7 1395.8,863.6 1396.1,874.0 1396.4,869.4 1396.7,874.5 1397.0,873.2 1397.3,863.1 1397.6,865.2 1397.9,859.0 1398.2,872.3 1398.6,869.8 1398.9,869.0 1399.2,869.4 1399.5,868.3 1399.8,866.9 1400.1,867.3 1400.4,872.6 1400.7,861.3 1401.0,859.8 1401.3,865.8 1401.6,872.4 1401.9,867.1 1402.2,864.6 1402.5,870.5 1402.8,866.5 1403.2,855.0 1403.5,860.1 1403.8,854.0 1404.1,864.6 1404.4,863.3 1404.7,868.4 1405.0,877.9 1405.3,862.5 1405.6,866.0 1405.9,863.8 1406.2,850.0 1406.5,861.7 1406.8,861.9 1407.1,867.6 1407.4,861.3 1407.8,858.7 1408.1,869.4 1408.4,865.7 1408.7,861.0 1409.0,861.8 1409.3,864.4 1409.6,870.8 1409.9,874.2 1410.2,858.7 1410.5,872.8 1410.8,866.5 1411.1,868.2 1411.4,871.7 1411.7,860.8 1412.0,871.1 1412.4,858.8 1412.7,863.6 1413.0,861.5 1413.3,875.9 1413.6,875.6 1413.9,870.6 1414.2,869.3 1414.5,863.4 1414.8,876.3 1415.1,874.3 1415.4,871.5 1415.7,865.8 1416.0,864.5 1416.3,866.0 1416.6,874.0 1417.0,861.2 1417.3,867.2 1417.6,875.8 1417.9,871.6 1418.2,876.5 1418.5,869.0 1418.8,869.1 1419.1,874.5 1419.4,870.4 1419.7,868.7 1420.0,863.9 1420.3,858.4 1420.6,875.3 1420.9,864.5 1421.2,862.7 1421.6,871.8 1421.9,862.0 1422.2,859.4 1422.5,863.8 1422.8,866.7 1423.1,868.6 1423.4,870.0 1423.7,872.6 1424.0,866.5 1424.3,869.3 1424.6,866.6 1424.9,863.7 1425.2,869.6 1425.5,869.3 1425.9,877.8 1426.2,870.8 1426.5,863.5 1426.8,870.8 1427.1,866.1 1427.4,876.4 1427.7,857.9 1428.0,863.8 1428.3,863.9 1428.6,868.3 1428.9,866.9 1429.2,858.7 1429.5,857.2 1429.8,868.8 1430.1,876.0 1430.5,876.0 1430.8,865.6 1431.1,870.4 1431.4,863.0 1431.7,859.8 1432.0,874.8 1432.3,871.8 1432.6,866.1 1432.9,865.9 1433.2,873.2 1433.5,869.9 1433.8,866.2 1434.1,869.7 1434.4,868.1 1434.7,865.9 1435.1,864.2 1435.4,873.4 1435.7,865.6 1436.0,861.7 1436.3,878.5 1436.6,875.4 1436.9,871.3 1437.2,868.1 1437.5,869.5 1437.8,860.4 1438.1,868.4 1438.4,870.0 1438.7,867.4 1439.0,871.0 1439.3,864.3 1439.7,869.6 1440.0,859.8 1440.3,868.5 1440.6,865.2 1440.9,861.2 1441.2,866.4 1441.5,868.8 1441.8,865.4 1442.1,873.9 1442.4,864.8 1442.7,873.9 1443.0,872.8 1443.3,865.4 1443.6,876.7 1443.9,861.2 1444.3,871.8 1444.6,869.2 1444.9,873.1 1445.2,860.1 1445.5,862.2 1445.8,864.2 1446.1,868.9 1446.4,869.3 1446.7,868.9 1447.0,867.4 1447.3,864.9 1447.6,861.2 1447.9,866.5 1448.2,871.8 1448.5,874.6 1448.9,866.1 1449.2,874.9 1449.5,861.4 1449.8,873.3 1450.1,862.9 1450.4,870.3 1450.7,863.7 1451.0,863.6 1451.3,866.0 1451.6,876.9 1451.9,865.4 1452.2,872.5 1452.5,869.9 1452.8,870.8 1453.1,870.9 1453.5,872.6 1453.8,862.5 1454.1,869.4 1454.4,871.1 1454.7,866.0 1455.0,871.2 1455.3,863.6 1455.6,873.3 1455.9,865.4 1456.2,867.7 1456.5,873.7 1456.8,875.3 1457.1,866.2 1457.4,865.8 1457.7,874.8 1458.1,853.4 1458.4,876.8 1458.7,876.5 1459.0,863.5 1459.3,876.0 1459.6,871.4 1459.9,872.0 1460.2,856.6 1460.5,866.7 1460.8,868.4 1461.1,867.2 1461.4,867.3 1461.7,867.9 1462.0,853.6 1462.3,868.4 1462.7,865.6 1463.0,869.0 1463.3,866.7 1463.6,869.5 1463.9,871.1 1464.2,879.4 1464.5,864.9 1464.8,878.9 1465.1,868.2 1465.4,864.6 1465.7,861.5 1466.0,874.3 1466.3,861.1 1466.6,874.6 1466.9,871.4 1467.3,866.4 1467.6,865.8 1467.9,872.2 1468.2,870.4 1468.5,873.6 1468.8,869.5 1469.1,866.7 1469.4,872.5 1469.7,862.8 1470.0,874.1 1470.3,869.7 1470.6,863.2 1470.9,863.7 1471.2,867.5 1471.5,859.2 1471.9,877.0 1472.2,874.6 1472.5,863.1 1472.8,868.5 1473.1,878.6 1473.4,871.3 1473.7,863.4 1474.0,857.0 1474.3,859.8 1474.6,875.5 1474.9,870.6 1475.2,861.5 1475.5,872.7 1475.8,866.7 1476.1,864.9 1476.5,865.7 1476.8,865.9 1477.1,877.8 1477.4,863.1 1477.7,866.1 1478.0,875.7 1478.3,876.6 1478.6,862.7 1478.9,879.6 1479.2,874.2 1479.5,859.7 1479.8,878.0 1480.1,859.6 1480.4,871.6 1480.7,861.3 1481.1,857.7 1481.4,872.3 1481.7,869.9 1482.0,867.0 1482.3,868.5 1482.6,866.7 1482.9,865.8 1483.2,861.2 1483.5,870.4 1483.8,867.2 1484.1,865.7 1484.4,863.8 1484.7,865.3 1485.0,858.3 1485.3,865.1 1485.7,861.2 1486.0,873.9 1486.3,861.3 1486.6,864.1 1486.9,866.6 1487.2,870.9 1487.5,869.0 1487.8,866.5 1488.1,878.5 1488.4,866.2 1488.7,868.1 1489.0,881.6 1489.3,861.2 1489.6,871.6 1490.0,868.6 1490.3,858.7 1490.6,862.6 1490.9,870.8 1491.2,857.9 1491.5,865.0 1491.8,871.3 1492.1,864.7 1492.4,867.5 1492.7,862.3 1493.0,862.5 1493.3,862.6 1493.6,864.0 1493.9,869.6 1494.2,866.5 1494.6,877.1 1494.9,869.1 1495.2,867.6 1495.5,878.7 1495.8,865.5 1496.1,861.6 1496.4,867.0 1496.7,860.1 1497.0,869.1 1497.3,873.9 1497.6,869.8 1497.9,864.0 1498.2,865.5 1498.5,869.1 1498.8,873.0 1499.2,864.2 1499.5,864.2 1499.8,872.6 1500.1,867.8 1500.4,868.6 1500.7,869.4 1501.0,862.4 1501.3,866.0 1501.6,872.8 1501.9,866.0 1502.2,865.8 1502.5,868.7 1502.8,869.2 1503.1,881.3 1503.4,862.6 1503.8,868.0 1504.1,878.6 1504.4,867.5 1504.7,869.5 1505.0,859.3 1505.3,872.9 1505.6,872.4 1505.9,872.2 1506.2,866.6 1506.5,869.8 1506.8,867.4 1507.1,872.6 1507.4,867.8 1507.7,872.3 1508.0,860.5 1508.4,866.2 1508.7,852.1 1509.0,867.3 1509.3,872.5 1509.6,866.8 1509.9,881.5 1510.2,862.8 1510.5,866.5 1510.8,863.3 1511.1,865.7 1511.4,865.9 1511.7,860.3 1512.0,863.1 1512.3,880.0 1512.6,867.2 1513.0,873.8 1513.3,861.6 1513.6,868.1 1513.9,871.8 1514.2,867.9 1514.5,866.0 1514.8,867.8 1515.1,869.1 1515.4,873.6 1515.7,875.7 1516.0,861.6 1516.3,857.5 1516.6,867.9 1516.9,869.0 1517.2,873.0 1517.6,875.0 1517.9,865.3 1518.2,880.6 1518.5,870.5 1518.8,859.1 1519.1,874.4 1519.4,870.6 1519.7,870.6 1520.0,860.1 1520.3,867.3 1520.6,869.9 1520.9,868.2 1521.2,872.9 1521.5,876.1 1521.8,877.6 1522.2,876.0 1522.5,868.2 1522.8,878.7 1523.1,870.5 1523.4,873.8 1523.7,867.7 1524.0,861.2 1524.3,856.3 1524.6,870.1 1524.9,865.2 1525.2,869.0 1525.5,874.0 1525.8,860.5 1526.1,859.1 1526.4,870.5 1526.8,871.1 1527.1,867.5 1527.4,866.1 1527.7,860.1 1528.0,868.5 1528.3,864.9 1528.6,871.4 1528.9,874.3 1529.2,865.9 1529.5,871.3 1529.8,870.1 1530.1,872.9 1530.4,877.6 1530.7,872.7 1531.0,873.0 1531.4,873.5 1531.7,866.6 1532.0,869.0 1532.3,871.0 1532.6,876.0 1532.9,876.3 1533.2,881.7 1533.5,862.9 1533.8,868.8 1534.1,859.3 1534.4,866.0 1534.7,859.8 1535.0,875.6 1535.3,873.2 1535.6,863.0 1536.0,870.9 1536.3,873.2 1536.6,878.8 1536.9,873.7 1537.2,869.7 1537.5,868.5 1537.8,872.5 1538.1,870.7 1538.4,866.3 1538.7,862.2 1539.0,874.9 1539.3,865.0 1539.6,867.5 1539.9,873.5 1540.2,868.7 1540.6,875.4 1540.9,862.7 1541.2,873.3 1541.5,861.6 1541.8,860.6 1542.1,863.2 1542.4,869.7 1542.7,865.2 1543.0,861.3 1543.3,875.7 1543.6,863.6 1543.9,868.4 1544.2,870.4 1544.5,866.4 1544.8,871.1 1545.2,872.5 1545.5,868.5 1545.8,874.9 1546.1,865.7 1546.4,863.1 1546.7,870.2 1547.0,863.7 1547.3,871.2 1547.6,868.5 1547.9,866.5 1548.2,872.4 1548.5,872.1 1548.8,852.6 1549.1,867.4 1549.4,870.0 1549.8,871.9 1550.1,866.2 1550.4,862.8 1550.7,869.9 1551.0,873.1 1551.3,857.7 1551.6,860.9 1551.9,866.0 1552.2,854.8 1552.5,866.0 1552.8,874.0 1553.1,863.4 1553.4,870.2 1553.7,864.4 1554.0,871.8 1554.4,873.1 1554.7,876.8 1555.0,869.9 1555.3,875.4 1555.6,871.8 1555.9,866.9 1556.2,877.8 1556.5,866.2 1556.8,870.5 1557.1,883.3 1557.4,874.5 1557.7,865.0 1558.0,871.3 1558.3,866.6 1558.7,868.9 1559.0,861.3 1559.3,870.9 1559.6,861.0 1559.9,871.8 1560.2,871.9 1560.5,874.5 1560.8,882.3 1561.1,860.5 1561.4,863.1 1561.7,864.2 1562.0,866.7 1562.3,874.8 1562.6,868.0 1562.9,866.6 1563.3,863.6 1563.6,866.4 1563.9,867.5 1564.2,869.3 1564.5,861.9 1564.8,869.5 1565.1,873.1 1565.4,871.9 1565.7,863.0 1566.0,874.6 1566.3,874.5 1566.6,871.7 1566.9,863.1 1567.2,861.7 1567.5,870.2 1567.9,864.2 1568.2,862.5 1568.5,875.0 1568.8,875.1 1569.1,873.6 1569.4,877.3 1569.7,875.0 1570.0,863.5 1570.3,876.4 1570.6,870.6 1570.9,872.4 1571.2,878.7 1571.5,872.4 1571.8,878.7 1572.1,870.2 1572.5,867.7 1572.8,865.9 1573.1,869.1 1573.4,860.4 1573.7,869.4 1574.0,869.1 1574.3,866.7 1574.6,857.2 1574.9,857.6 1575.2,873.6 1575.5,864.3 1575.8,877.3 1576.1,865.6 1576.4,871.6 1576.7,861.4 1577.1,865.9 1577.4,868.2 1577.7,872.7 1578.0,878.9 1578.3,874.8 1578.6,861.2 1578.9,869.4 1579.2,868.4 1579.5,865.7 1579.8,872.5 1580.1,878.1 1580.4,866.6 1580.7,875.4 1581.0,876.9 1581.3,863.1 1581.7,879.0 1582.0,878.5 1582.3,870.6 1582.6,878.5 1582.9,870.3 1583.2,875.4 1583.5,872.5 1583.8,864.0 1584.1,870.3 1584.4,867.8 1584.7,866.0 1585.0,862.2 1585.3,864.3 1585.6,861.7 1585.9,875.0 1586.3,857.6 1586.6,869.0 1586.9,865.1 1587.2,861.5 1587.5,872.5 1587.8,863.9 1588.1,875.2 1588.4,867.4 1588.7,870.2 1589.0,867.6 1589.3,871.9 1589.6,873.5 1589.9,865.7 1590.2,868.1 1590.5,878.0 1590.9,864.9 1591.2,878.3 1591.5,865.9 1591.8,865.0 1592.1,858.6 1592.4,863.3 1592.7,858.3 1593.0,864.8 1593.3,871.9 1593.6,867.6 1593.9,864.6 1594.2,862.2 1594.5,864.1 1594.8,859.7 1595.1,860.8 1595.5,878.8 1595.8,869.2 1596.1,862.7 1596.4,871.6 1596.7,876.2 1597.0,864.2 1597.3,867.2 1597.6,860.7 1597.9,858.8 1598.2,875.5 1598.5,886.9 1598.8,863.6 1599.1,858.6 1599.4,875.6 1599.7,873.6 1600.1,870.3 1600.4,875.9 1600.7,865.8 1601.0,869.2 1601.3,872.0 1601.6,865.9 1601.9,870.3 1602.2,866.3 1602.5,870.1 1602.8,868.5 1603.1,856.5 1603.4,868.0 1603.7,859.5 1604.0,862.7 1604.3,858.2 1604.7,872.0 1605.0,865.6 1605.3,865.3 1605.6,874.4 1605.9,871.4 1606.2,866.2 1606.5,855.8 1606.8,871.0 1607.1,865.9 1607.4,865.3 1607.7,871.4 1608.0,863.8 1608.3,866.8 1608.6,872.2 1608.9,870.4 1609.3,863.8 1609.6,875.3 1609.9,873.5 1610.2,877.6 1610.5,866.8 1610.8,868.3 1611.1,872.9 1611.4,869.5 1611.7,867.8 1612.0,866.4 1612.3,865.3 1612.6,863.3 1612.9,863.3 1613.2,869.1 1613.5,865.1 1613.9,858.9 1614.2,867.0 1614.5,875.8 1614.8,874.1 1615.1,855.4 1615.4,861.8 1615.7,870.7 1616.0,866.8 1616.3,866.6 1616.6,865.4 1616.9,866.4 1617.2,860.4 1617.5,872.4 1617.8,860.1 1618.1,865.0 1618.5,874.1 1618.8,871.5 1619.1,865.4 1619.4,865.3 1619.7,862.0 1620.0,862.4 1620.3,863.8 1620.6,872.3 1620.9,862.5 1621.2,867.9 1621.5,867.1 1621.8,866.8 1622.1,863.0 1622.4,868.4 1622.7,865.2 1623.1,864.8 1623.4,861.5 1623.7,852.3 1624.0,867.9 1624.3,868.0 1624.6,861.0 1624.9,862.7 1625.2,865.1 1625.5,858.2 1625.8,867.2 1626.1,867.2 1626.4,867.8 1626.7,868.1 1627.0,852.7 1627.4,865.8 1627.7,860.4 1628.0,868.8 1628.3,868.4 1628.6,867.0 1628.9,862.0 1629.2,877.6 1629.5,862.0 1629.8,856.6 1630.1,867.4 1630.4,854.2 1630.7,872.4 1631.0,867.4 1631.3,868.9 1631.6,867.3 1632.0,863.7 1632.3,854.3 1632.6,858.0 1632.9,864.2 1633.2,859.9 1633.5,862.8 1633.8,856.8 1634.1,856.0 1634.4,861.6 1634.7,863.7 1635.0,859.3 1635.3,853.5 1635.6,849.3 1635.9,868.5 1636.2,850.7 1636.6,851.3 1636.9,851.0 1637.2,858.6 1637.5,848.3 1637.8,853.7 1638.1,850.6 1638.4,840.8 1638.7,845.4 1639.0,835.4 1639.3,838.3 1639.6,840.0 1639.9,831.4 1640.2,824.2 1640.5,823.1 1640.8,820.4 1641.2,819.2 1641.5,801.2 1641.8,799.7 1642.1,808.6 1642.4,802.1 1642.7,792.5 1643.0,799.1 1643.3,795.8 1643.6,793.9 1643.9,797.4 1644.2,801.8 1644.5,802.2 1644.8,803.4 1645.1,801.1 1645.4,811.7 1645.8,808.2 1646.1,814.9 1646.4,823.4 1646.7,827.3 1647.0,836.3 1647.3,838.9 1647.6,840.3 1647.9,839.2 1648.2,843.8 1648.5,845.3 1648.8,858.2 1649.1,853.6 1649.4,849.6 1649.7,850.3 1650.0,862.8 1650.4,852.9 1650.7,860.6 1651.0,860.6 1651.3,866.1 1651.6,856.5 1651.9,864.2 1652.2,863.4 1652.5,867.0 1652.8,870.4 1653.1,864.1 1653.4,862.7 1653.7,868.8 1654.0,857.0 1654.3,865.6 1654.6,859.6 1655.0,858.6 1655.3,856.8 1655.6,856.6 1655.9,869.8 1656.2,870.2 1656.5,866.2 1656.8,871.3 1657.1,866.1 1657.4,863.4 1657.7,860.4 1658.0,870.2 1658.3,870.6 1658.6,873.0 1658.9,862.2 1659.2,865.0 1659.6,859.5 1659.9,872.6 1660.2,870.4 1660.5,869.4 1660.8,866.7 1661.1,866.1 1661.4,865.0 1661.7,872.7 1662.0,863.7 1662.3,871.7 1662.6,868.6 1662.9,861.8 1663.2,859.6 1663.5,863.1 1663.8,867.0 1664.2,860.5 1664.5,870.6 1664.8,873.3 1665.1,870.2 1665.4,858.5 1665.7,855.1 1666.0,872.0 1666.3,875.3 1666.6,865.4 1666.9,870.2 1667.2,866.1 1667.5,864.2 1667.8,872.8 1668.1,864.7 1668.4,872.1 1668.8,876.7 1669.1,867.0 1669.4,877.5 1669.7,860.9 1670.0,872.6 1670.3,867.8 1670.6,881.2 1670.9,868.0 1671.2,863.7 1671.5,876.4 1671.8,859.9 1672.1,870.2 1672.4,864.0 1672.7,875.2 1673.0,867.5 1673.4,872.5 1673.7,867.8 1674.0,862.3 1674.3,856.9 1674.6,877.4 1674.9,869.4 1675.2,862.2 1675.5,866.6 1675.8,873.4 1676.1,860.5 1676.4,880.1 1676.7,867.0 1677.0,866.4 1677.3,875.0 1677.6,869.5 1678.0,863.2 1678.3,873.2 1678.6,870.8 1678.9,874.3 1679.2,863.7 1679.5,862.6 1679.8,871.8 1680.1,866.3 1680.4,857.3 1680.7,865.5 1681.0,871.9 1681.3,864.8 1681.6,875.3 1681.9,866.0 1682.2,868.2 1682.6,860.3 1682.9,864.6 1683.2,867.8 1683.5,871.8 1683.8,869.8 1684.1,874.3 1684.4,857.5 1684.7,869.0 1685.0,868.1 1685.3,863.5 1685.6,868.7 1685.9,865.1 1686.2,871.2 1686.5,867.2 1686.8,871.6 1687.2,864.3 1687.5,875.6 1687.8,871.1 1688.1,878.3 1688.4,868.4 1688.7,866.5 1689.0,869.8 1689.3,866.7 1689.6,863.8 1689.9,869.3 1690.2,868.9 1690.5,865.8 1690.8,867.2 1691.1,864.2 1691.4,870.0 1691.8,862.3 1692.1,878.1 1692.4,869.5 1692.7,874.2 1693.0,863.1 1693.3,871.1 1693.6,868.7 1693.9,874.5 1694.2,873.9 1694.5,861.0 1694.8,875.4 1695.1,861.7 1695.4,876.4 1695.7,869.2 1696.1,863.3 1696.4,873.2 1696.7,869.7 1697.0,864.4 1697.3,865.8 1697.6,872.0 1697.9,862.5 1698.2,865.2 1698.5,879.2 1698.8,865.7 1699.1,871.6 1699.4,872.0 1699.7,874.6 1700.0,874.2 1700.3,856.7 1700.7,867.2 1701.0,875.9 1701.3,865.7 1701.6,879.2 1701.9,871.1 1702.2,863.6 1702.5,872.8 1702.8,879.9 1703.1,866.4 1703.4,872.8 1703.7,865.4 1704.0,866.9 1704.3,870.6 1704.6,872.6 1704.9,871.8 1705.3,871.1 1705.6,882.4 1705.9,864.5 1706.2,860.5 1706.5,873.0 1706.8,871.1 1707.1,862.8 1707.4,879.0 1707.7,866.6 1708.0,863.0 1708.3,872.4 1708.6,873.5 1708.9,882.4 1709.2,862.4 1709.5,863.8 1709.9,868.9 1710.2,868.1 1710.5,870.0 1710.8,866.8 1711.1,862.5 1711.4,868.2 1711.7,874.1 1712.0,874.6 1712.3,867.2 1712.6,873.3 1712.9,872.7 1713.2,868.1 1713.5,868.9 1713.8,871.0 1714.1,885.1 1714.5,871.7 1714.8,866.3 1715.1,870.1 1715.4,868.1 1715.7,876.8 1716.0,860.0 1716.3,865.5 1716.6,875.4 1716.9,873.4 1717.2,871.4 1717.5,875.0 1717.8,864.6 1718.1,873.3 1718.4,865.7 1718.7,865.0 1719.1,874.2 1719.4,867.6 1719.7,869.9 1720.0,875.0 1720.3,866.6 1720.6,875.1 1720.9,883.5 1721.2,871.1 1721.5,877.1 1721.8,876.2 1722.1,865.9 1722.4,865.5 1722.7,872.5 1723.0,861.7 1723.3,872.8 1723.7,874.0 1724.0,875.1 1724.3,875.1 1724.6,879.7 1724.9,871.3 1725.2,879.9 1725.5,875.8 1725.8,875.9 1726.1,872.5 1726.4,878.2 1726.7,869.6 1727.0,877.2 1727.3,879.2 1727.6,870.2 1727.9,868.9 1728.3,869.9 1728.6,873.6 1728.9,875.7 1729.2,878.4 1729.5,883.6 1729.8,882.3 1730.1,875.5 1730.4,872.3 1730.7,868.2 1731.0,878.5 1731.3,877.0 1731.6,873.0 1731.9,873.7 1732.2,874.0 1732.5,861.6 1732.9,874.4 1733.2,876.3 1733.5,874.1 1733.8,869.4 1734.1,875.1 1734.4,877.3 1734.7,884.0 1735.0,880.3 1735.3,878.0 1735.6,874.7 1735.9,868.3 1736.2,872.7 1736.5,868.2 1736.8,874.6 1737.1,880.5 1737.5,880.4 1737.8,879.7 1738.1,875.3 1738.4,880.2 1738.7,873.9 1739.0,865.4 1739.3,875.9 1739.6,875.5 1739.9,866.6 1740.2,872.6 1740.5,863.1 1740.8,872.9 1741.1,881.4 1741.4,872.1 1741.7,881.9 1742.1,876.5 1742.4,871.7 1742.7,866.5 1743.0,879.2 1743.3,878.8 1743.6,868.0 1743.9,873.3 1744.2,881.0 1744.5,871.8 1744.8,877.5 1745.1,865.8 1745.4,870.9 1745.7,879.1 1746.0,869.6 1746.3,868.4 1746.7,868.6 1747.0,873.7 1747.3,867.7 1747.6,875.0 1747.9,878.4 1748.2,883.2 1748.5,873.6 1748.8,883.6 1749.1,878.4 1749.4,874.5 1749.7,878.2 1750.0,883.2 1750.3,883.1 1750.6,879.4 1750.9,875.2 1751.3,879.8 1751.6,876.8 1751.9,876.5 1752.2,877.0 1752.5,884.7 1752.8,869.8 1753.1,875.4 1753.4,870.3 1753.7,880.0 1754.0,881.3 1754.3,882.5 1754.6,874.0 1754.9,876.1 1755.2,879.6 1755.5,876.7 1755.9,877.3 1756.2,876.8 1756.5,877.2 1756.8,875.3 1757.1,878.1 1757.4,868.7 1757.7,873.8 1758.0,869.3 1758.3,875.5 1758.6,872.3 1758.9,878.6 1759.2,882.2 1759.5,869.9 1759.8,872.2 1760.1,877.7 1760.5,883.2 1760.8,879.9 1761.1,878.3 1761.4,875.8 1761.7,873.9 1762.0,878.1 1762.3,878.7 1762.6,877.0 1762.9,873.3 1763.2,868.3 1763.5,872.0 1763.8,874.4 1764.1,870.5 1764.4,877.9 1764.8,869.3 1765.1,874.9 1765.4,878.1 1765.7,880.5 1766.0,877.7 1766.3,882.5 1766.6,873.6 1766.9,872.7 1767.2,882.0 1767.5,872.3 1767.8,875.9 1768.1,868.1 1768.4,882.3 1768.7,880.4 1769.0,873.1 1769.4,868.2 1769.7,878.2 1770.0,878.3 1770.3,882.8 1770.6,886.2 1770.9,878.3 1771.2,876.1 1771.5,876.0 1771.8,875.7 1772.1,870.5 1772.4,872.9 1772.7,876.9 1773.0,869.3 1773.3,870.9 1773.6,883.5 1774.0,874.2 1774.3,881.5 1774.6,883.0 1774.9,877.7 1775.2,881.8 1775.5,876.9 1775.8,873.5 1776.1,877.3 1776.4,878.2 1776.7,878.5 1777.0,878.4 1777.3,876.1 1777.6,883.3 1777.9,877.2 1778.2,876.1 1778.6,882.8 1778.9,873.3 1779.2,878.3 1779.5,885.6 1779.8,878.7 1780.1,885.5 1780.4,877.2 1780.7,876.0 1781.0,877.8 1781.3,875.9 1781.6,876.9 1781.9,876.5 1782.2,882.7 1782.5,880.8 1782.8,877.8 1783.2,875.2 1783.5,894.7 1783.8,877.9 1784.1,885.9 1784.4,873.2 1784.7,875.4 1785.0,885.1 1785.3,873.7 1785.6,873.8 1785.9,878.8 1786.2,875.6 1786.5,877.7 1786.8,879.9 1787.1,883.5 1787.4,880.1 1787.8,880.7 1788.1,885.8 1788.4,886.2 1788.7,877.6 1789.0,870.2 1789.3,874.4 1789.6,884.6 1789.9,877.0 1790.2,875.9 1790.5,877.2 1790.8,887.2 1791.1,879.7 1791.4,877.6 1791.7,876.0 1792.0,874.1 1792.4,893.4 1792.7,879.3 1793.0,880.2 1793.3,878.0 1793.6,884.8 1793.9,874.6 1794.2,870.1 1794.5,876.7 1794.8,881.2 1795.1,890.7 1795.4,879.2 1795.7,875.4 1796.0,878.5 1796.3,875.8 1796.6,875.8 1797.0,880.1 1797.3,881.1 1797.6,876.4 1797.9,885.1 1798.2,879.3 1798.5,880.3 1798.8,877.2 1799.1,881.5 1799.4,881.8 1799.7,883.0 1800.0,875.7 1800.3,882.9 1800.6,877.0 1800.9,880.3 1801.2,883.5 1801.6,887.3 1801.9,877.6 1802.2,874.4 1802.5,880.6 1802.8,885.9 1803.1,878.3 1803.4,891.9 1803.7,870.6 1804.0,887.3 1804.3,885.7 1804.6,885.4 1804.9,875.9 1805.2,886.7 1805.5,885.8 1805.8,886.2 1806.2,878.9 1806.5,878.8 1806.8,886.4 1807.1,881.8 1807.4,878.3 1807.7,876.0 1808.0,881.4 1808.3,873.4 1808.6,883.0 1808.9,880.9 1809.2,872.5 1809.5,882.4 1809.8,886.1 1810.1,881.4 1810.4,873.6 1810.8,877.2 1811.1,884.4 1811.4,873.8 1811.7,878.4 1812.0,885.9 1812.3,878.9 1812.6,877.4 1812.9,884.3 1813.2,888.3 1813.5,882.3 1813.8,873.8 1814.1,872.5 1814.4,879.2 1814.7,871.5 1815.0,880.1 1815.4,885.0 1815.7,867.4 1816.0,879.7 1816.3,882.2 1816.6,878.0 1816.9,882.6 1817.2,883.2 1817.5,885.9 1817.8,894.1 1818.1,882.4 1818.4,876.4 1818.7,875.8 1819.0,874.8 1819.3,884.5 1819.6,882.7 1820.0,883.4 1820.3,882.1 1820.6,889.0 1820.9,886.6 1821.2,886.2 1821.5,877.9 1821.8,879.7 1822.1,874.9 1822.4,878.2 1822.7,881.9 1823.0,875.4 1823.3,878.4 1823.6,891.5 1823.9,880.7 1824.2,874.2 1824.6,875.5 1824.9,881.3 1825.2,885.9 1825.5,881.4 1825.8,886.1 1826.1,883.4 1826.4,876.4 1826.7,887.1 1827.0,879.8 1827.3,891.3 1827.6,879.2 1827.9,881.4 1828.2,879.5 1828.5,880.9 1828.8,884.5 1829.2,881.3 1829.5,888.1 1829.8,884.4 1830.1,890.2 1830.4,882.7 1830.7,888.8 1831.0,888.4 1831.3,881.8 1831.6,895.1 1831.9,890.0 1832.2,885.3 1832.5,881.6 1832.8,882.2 1833.1,881.8 1833.5,884.1 1833.8,877.1 1834.1,883.0 1834.4,879.8 1834.7,891.0 1835.0,886.6 1835.3,891.0 1835.6,894.6 1835.9,885.2 1836.2,892.8 1836.5,884.7 1836.8,886.0 1837.1,878.2 1837.4,883.3 1837.7,889.9 1838.1,885.3 1838.4,881.0 1838.7,882.9 1839.0,879.2 1839.3,879.5 1839.6,875.7 1839.9,888.3 1840.2,888.2 1840.5,882.3 1840.8,876.2 1841.1,881.6 1841.4,892.7 1841.7,876.2 1842.0,880.2 1842.3,880.4 1842.7,886.6 1843.0,876.4 1843.3,884.0 1843.6,878.6 1843.9,880.9 1844.2,876.6 1844.5,885.2 1844.8,880.1 1845.1,879.6 1845.4,887.9 1845.7,884.2 1846.0,894.1 1846.3,884.5 1846.6,882.8 1846.9,883.0 1847.3,895.9 1847.6,888.5 1847.9,880.9 1848.2,883.9 1848.5,879.7 1848.8,885.5 1849.1,879.7 1849.4,879.4 1849.7,884.3 1850.0,888.8 1850.3,886.3 1850.6,885.8 1850.9,882.2 1851.2,870.1 1851.5,881.2 1851.9,880.9 1852.2,884.6 1852.5,890.5 1852.8,885.6 1853.1,873.2 1853.4,881.9 1853.7,880.6 1854.0,885.3 1854.3,881.4 1854.6,872.2 1854.9,877.2 1855.2,880.0 1855.5,871.5 1855.8,881.0 1856.1,880.1 1856.5,886.8 1856.8,880.9 1857.1,878.4 1857.4,880.8 1857.7,881.5 1858.0,886.2 1858.3,876.7 1858.6,870.2 1858.9,895.0 1859.2,885.1 1859.5,881.5 1859.8,893.3 1860.1,875.6 1860.4,877.4 1860.7,879.1 1861.1,883.7 1861.4,879.0 1861.7,885.1 1862.0,879.5 1862.3,887.7 1862.6,883.5 1862.9,873.0 1863.2,881.1 1863.5,875.6 1863.8,880.6 1864.1,881.2 1864.4,892.4 1864.7,880.1 1865.0,873.2 1865.3,881.8 1865.7,875.5 1866.0,890.3 1866.3,884.8 1866.6,889.1 1866.9,879.3 1867.2,876.1 1867.5,882.7 1867.8,874.5 1868.1,876.5 1868.4,877.5 1868.7,880.6 1869.0,873.8 1869.3,871.1 1869.6,888.5 1869.9,878.7 1870.3,880.5 1870.6,884.4 1870.9,883.6 1871.2,878.2 1871.5,879.3 1871.8,889.5 1872.1,887.8 1872.4,885.3 1872.7,889.9 1873.0,872.2 1873.3,882.3 1873.6,880.3 1873.9,872.1 1874.2,883.4 1874.5,885.0 1874.9,883.1 1875.2,872.8 1875.5,880.7 1875.8,882.9 1876.1,880.7 1876.4,883.3 1876.7,884.4 1877.0,889.1 1877.3,883.2 1877.6,895.2 1877.9,883.2 1878.2,883.5 1878.5,886.0 1878.8,881.8 1879.1,880.6 1879.5,888.4 1879.8,871.6 1880.1,873.4 1880.4,892.7 1880.7,886.0 1881.0,885.1 1881.3,883.9 1881.6,883.8 1881.9,877.7 1882.2,881.0 1882.5,877.4 1882.8,888.3 1883.1,885.7 1883.4,883.8 1883.7,884.6 1884.1,882.0 1884.4,876.9 1884.7,891.2 1885.0,886.0 1885.3,881.9 1885.6,885.7 1885.9,889.2 1886.2,888.7 1886.5,886.2 1886.8,887.0 1887.1,881.8 1887.4,889.7 1887.7,887.7 1888.0,887.7 1888.3,876.5 1888.7,886.3 1889.0,886.4 1889.3,887.1 1889.6,870.1 1889.9,873.8 1890.2,884.6 1890.5,878.4 1890.8,885.1 1891.1,882.8 1891.4,887.6 1891.7,880.5 1892.0,878.0 1892.3,886.0 1892.6,882.0 1892.9,877.5 1893.3,873.5 1893.6,899.2 1893.9,881.7 1894.2,882.3 1894.5,873.7 1894.8,878.5 1895.1,882.8 1895.4,885.3 1895.7,887.6 1896.0,880.0 1896.3,886.2 1896.6,889.6 1896.9,881.3 1897.2,883.5 1897.5,874.9 1897.9,879.9 1898.2,877.1 1898.5,887.4 1898.8,883.2 1899.1,892.1 1899.4,885.1 1899.7,888.2 1900.0,886.9 1900.3,885.3 1900.6,878.9 1900.9,892.7 1901.2,884.0 1901.5,875.2 1901.8,881.6 1902.2,879.0 1902.5,890.5 1902.8,889.9 1903.1,892.4 1903.4,895.7 1903.7,881.4 1904.0,875.2 1904.3,880.0 1904.6,886.9 1904.9,871.2 1905.2,881.8 1905.5,889.2 1905.8,880.6 1906.1,884.3 1906.4,880.4 1906.8,893.8 1907.1,894.9 1907.4,879.9 1907.7,880.8 1908.0,885.8 1908.3,888.7 1908.6,887.4 1908.9,888.6 1909.2,890.3 1909.5,891.5 1909.8,895.0 1910.1,886.5 1910.4,883.2 1910.7,885.3 1911.0,897.0 1911.4,890.0 1911.7,889.4 1912.0,892.6 1912.3,892.1 1912.6,897.8 1912.9,881.7 1913.2,886.8 1913.5,889.7 1913.8,890.0 1914.1,883.8 1914.4,877.5 1914.7,884.4 1915.0,882.2 1915.3,885.2 1915.6,891.4 1916.0,889.3 1916.3,879.9 1916.6,881.9 1916.9,886.7 1917.2,891.5 1917.5,885.3 1917.8,886.8 1918.1,877.9 1918.4,883.1 1918.7,881.5 1919.0,886.6 1919.3,884.1 1919.6,881.0 1919.9,879.9 1920.2,886.5 1920.6,882.1 1920.9,891.1 1921.2,886.1 1921.5,884.0 1921.8,889.9 1922.1,879.2 1922.4,889.9 1922.7,881.6 1923.0,888.9 1923.3,881.7 1923.6,880.4 1923.9,875.8 1924.2,885.3 1924.5,887.6 1924.8,878.0 1925.2,894.1 1925.5,885.0 1925.8,879.3 1926.1,895.0 1926.4,882.9 1926.7,892.4 1927.0,870.6 1927.3,895.9 1927.6,885.9 1927.9,884.9 1928.2,886.5 1928.5,879.0 1928.8,889.5 1929.1,887.1 1929.4,886.4 1929.8,881.9 1930.1,878.8 1930.4,886.6 1930.7,888.9 1931.0,885.4 1931.3,883.6 1931.6,882.0 1931.9,888.2 1932.2,892.0 1932.5,883.8 1932.8,880.2 1933.1,897.0 1933.4,876.6 1933.7,885.8 1934.0,883.9 1934.4,891.0 1934.7,883.7 1935.0,875.9 1935.3,878.6 1935.6,884.8 1935.9,884.1 1936.2,880.9 1936.5,881.4"/>
<text class="tick" x="218.5" y="1383.4">10</text>
<text class="tick" x="433.2" y="1383.4">20</text>
<text class="tick" x="647.9" y="1383.4">30</text>
<text class="tick" x="862.6" y="1383.4">40</text>
<text class="tick" x="1077.2" y="1383.4">50</text>
<text class="tick" x="1291.9" y="1383.4">60</text>
<text class="tick" x="1506.6" y="1383.4">70</text>
<text class="tick" x="1721.3" y="1383.4">80</text>
<text class="tick" x="1936.0" y="1383.4">90</text>
<text class="axt" style="text-anchor:start" x="784.5" y="1540">2<tspan font-size="95" dy="2" dx="0.5">θ</tspan> <tspan dy="-2" x="907.5" style="letter-spacing:1.3px">(degree)</tspan></text>
<text class="axt axx" transform="translate(100.5,657) rotate(-90)">Intensity (a.u.)</text>
<text class="leg" x="1177" y="816">Ni/SiO<tspan class="sub" dx="0.5" dy="30.5">2</tspan></text>
<text class="leg" x="1177" y="980">Ni-C/SiO<tspan class="sub" dx="0.5" dy="30.5">2</tspan></text>
<text class="leg" x="1177" y="1121.7">Ni-G/SiO<tspan class="sub" dx="0.5" dy="30.5">2</tspan></text>
</svg>
</body>
</html>
